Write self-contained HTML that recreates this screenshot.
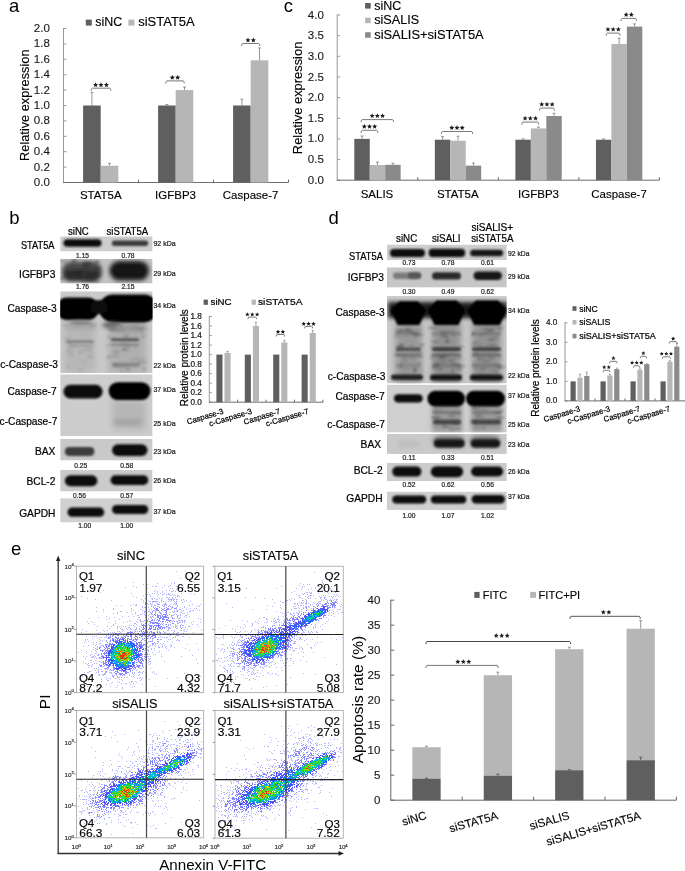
<!DOCTYPE html><html><head><meta charset="utf-8"><style>html,body{margin:0;padding:0;background:#fff;overflow:hidden}svg{display:block}text{font-family:"Liberation Sans", sans-serif}</style></head><body>
<svg width="685" height="871" viewBox="0 0 685 871">
<rect width="685" height="871" fill="#fff"/>
<defs><filter id="b1" x="-20%" y="-50%" width="140%" height="200%"><feGaussianBlur stdDeviation="1.2"/></filter><filter id="b2" x="-20%" y="-50%" width="140%" height="200%"><feGaussianBlur stdDeviation="2.2"/></filter><filter id="b3" x="-20%" y="-50%" width="140%" height="200%"><feGaussianBlur stdDeviation="3.5"/></filter><filter id="b05"><feGaussianBlur stdDeviation="0.6"/></filter><filter id="fb" x="0" y="0" width="1" height="1"><feGaussianBlur stdDeviation="0.4"/></filter><filter id="soft" filterUnits="userSpaceOnUse" x="0" y="0" width="685" height="871"><feGaussianBlur stdDeviation="0.35"/></filter></defs>
<g filter="url(#soft)">
<text x="9" y="11.8" font-size="18.5">a</text>
<text x="283.8" y="11.8" font-size="18.5">c</text>
<text x="9.2" y="223.6" font-size="18.5">b</text>
<text x="328.6" y="223.6" font-size="18.5">d</text>
<text x="11" y="555" font-size="18.5">e</text>
<line x1="63.5" y1="28" x2="63.5" y2="182.5" stroke="#999" stroke-width="1"/>
<line x1="63.5" y1="182.5" x2="66.5" y2="182.5" stroke="#999" stroke-width="1"/>
<text x="49.8" y="186.06" font-size="11.5" text-anchor="end" fill="#1a1a1a" stroke="#1a1a1a" stroke-width="0.14">0.0</text>
<line x1="63.5" y1="167.1" x2="66.5" y2="167.1" stroke="#999" stroke-width="1"/>
<text x="49.8" y="170.66" font-size="11.5" text-anchor="end" fill="#1a1a1a" stroke="#1a1a1a" stroke-width="0.14">0.2</text>
<line x1="63.5" y1="151.7" x2="66.5" y2="151.7" stroke="#999" stroke-width="1"/>
<text x="49.8" y="155.26" font-size="11.5" text-anchor="end" fill="#1a1a1a" stroke="#1a1a1a" stroke-width="0.14">0.4</text>
<line x1="63.5" y1="136.3" x2="66.5" y2="136.3" stroke="#999" stroke-width="1"/>
<text x="49.8" y="139.86" font-size="11.5" text-anchor="end" fill="#1a1a1a" stroke="#1a1a1a" stroke-width="0.14">0.6</text>
<line x1="63.5" y1="120.9" x2="66.5" y2="120.9" stroke="#999" stroke-width="1"/>
<text x="49.8" y="124.47" font-size="11.5" text-anchor="end" fill="#1a1a1a" stroke="#1a1a1a" stroke-width="0.14">0.8</text>
<line x1="63.5" y1="105.5" x2="66.5" y2="105.5" stroke="#999" stroke-width="1"/>
<text x="49.8" y="109.06" font-size="11.5" text-anchor="end" fill="#1a1a1a" stroke="#1a1a1a" stroke-width="0.14">1.0</text>
<line x1="63.5" y1="90.1" x2="66.5" y2="90.1" stroke="#999" stroke-width="1"/>
<text x="49.8" y="93.66" font-size="11.5" text-anchor="end" fill="#1a1a1a" stroke="#1a1a1a" stroke-width="0.14">1.2</text>
<line x1="63.5" y1="74.7" x2="66.5" y2="74.7" stroke="#999" stroke-width="1"/>
<text x="49.8" y="78.26" font-size="11.5" text-anchor="end" fill="#1a1a1a" stroke="#1a1a1a" stroke-width="0.14">1.4</text>
<line x1="63.5" y1="59.3" x2="66.5" y2="59.3" stroke="#999" stroke-width="1"/>
<text x="49.8" y="62.86" font-size="11.5" text-anchor="end" fill="#1a1a1a" stroke="#1a1a1a" stroke-width="0.14">1.6</text>
<line x1="63.5" y1="43.9" x2="66.5" y2="43.9" stroke="#999" stroke-width="1"/>
<text x="49.8" y="47.47" font-size="11.5" text-anchor="end" fill="#1a1a1a" stroke="#1a1a1a" stroke-width="0.14">1.8</text>
<line x1="63.5" y1="28.5" x2="66.5" y2="28.5" stroke="#999" stroke-width="1"/>
<text x="49.8" y="32.06" font-size="11.5" text-anchor="end" fill="#1a1a1a" stroke="#1a1a1a" stroke-width="0.14">2.0</text>
<line x1="63" y1="182.5" x2="288.5" y2="182.5" stroke="#6e6e6e" stroke-width="1"/>
<line x1="138.5" y1="182.5" x2="138.5" y2="179.5" stroke="#6e6e6e" stroke-width="1"/>
<line x1="213.5" y1="182.5" x2="213.5" y2="179.5" stroke="#6e6e6e" stroke-width="1"/>
<line x1="288.5" y1="182.5" x2="288.5" y2="179.5" stroke="#6e6e6e" stroke-width="1"/>
<line x1="91.9" y1="105.5" x2="91.9" y2="92.41" stroke="#8a8a8a" stroke-width="0.9"/>
<line x1="90.4" y1="92.41" x2="93.4" y2="92.41" stroke="#8a8a8a" stroke-width="0.9"/>
<line x1="109.5" y1="165.71" x2="109.5" y2="163.25" stroke="#8a8a8a" stroke-width="0.9"/>
<line x1="108" y1="163.25" x2="111" y2="163.25" stroke="#8a8a8a" stroke-width="0.9"/>
<rect x="83.1" y="105.5" width="17.6" height="77" fill="#5e5e5e"/>
<rect x="100.7" y="165.71" width="17.6" height="16.79" fill="#b6b6b6"/>
<line x1="166.9" y1="105.5" x2="166.9" y2="104.5" stroke="#8a8a8a" stroke-width="0.9"/>
<line x1="165.4" y1="104.5" x2="168.4" y2="104.5" stroke="#8a8a8a" stroke-width="0.9"/>
<line x1="184.5" y1="90.1" x2="184.5" y2="87.02" stroke="#8a8a8a" stroke-width="0.9"/>
<line x1="183" y1="87.02" x2="186" y2="87.02" stroke="#8a8a8a" stroke-width="0.9"/>
<rect x="158.1" y="105.5" width="17.6" height="77" fill="#5e5e5e"/>
<rect x="175.7" y="90.1" width="17.6" height="92.4" fill="#b6b6b6"/>
<line x1="241.9" y1="105.5" x2="241.9" y2="99.11" stroke="#8a8a8a" stroke-width="0.9"/>
<line x1="240.4" y1="99.11" x2="243.4" y2="99.11" stroke="#8a8a8a" stroke-width="0.9"/>
<line x1="259.5" y1="60.3" x2="259.5" y2="47.98" stroke="#8a8a8a" stroke-width="0.9"/>
<line x1="258" y1="47.98" x2="261" y2="47.98" stroke="#8a8a8a" stroke-width="0.9"/>
<rect x="233.1" y="105.5" width="17.6" height="77" fill="#5e5e5e"/>
<rect x="250.7" y="60.3" width="17.6" height="122.2" fill="#b6b6b6"/>
<path d="M91.2 90.7Q91.2 88.2 92.4 88.2L109.6 88.2Q110.8 88.2 110.8 90.7" fill="none" stroke="#6a6a6a" stroke-width="0.9"/>
<path d="M95.6,82.25L96.33,83.89L98.12,84.08L96.78,85.28L97.16,87.04L95.6,86.15L94.04,87.04L94.42,85.28L93.08,84.08L94.87,83.89ZM101,82.25L101.73,83.89L103.52,84.08L102.18,85.28L102.56,87.04L101,86.15L99.44,87.04L99.82,85.28L98.48,84.08L100.27,83.89ZM106.4,82.25L107.13,83.89L108.92,84.08L107.58,85.28L107.96,87.04L106.4,86.15L104.84,87.04L105.22,85.28L103.88,84.08L105.67,83.89Z" fill="#1a1a1a"/>
<path d="M165.7 83.4Q165.7 80.9 166.9 80.9L183.1 80.9Q184.3 80.9 184.3 83.4" fill="none" stroke="#6a6a6a" stroke-width="0.9"/>
<path d="M172.3,74.95L173.03,76.59L174.82,76.78L173.48,77.98L173.86,79.74L172.3,78.85L170.74,79.74L171.12,77.98L169.78,76.78L171.57,76.59ZM177.7,74.95L178.43,76.59L180.22,76.78L178.88,77.98L179.26,79.74L177.7,78.85L176.14,79.74L176.52,77.98L175.18,76.78L176.97,76.59Z" fill="#1a1a1a"/>
<path d="M241.6 46Q241.6 43.5 242.8 43.5L258.5 43.5Q259.7 43.5 259.7 46" fill="none" stroke="#6a6a6a" stroke-width="0.9"/>
<path d="M247.95,37.55L248.68,39.19L250.47,39.38L249.13,40.58L249.51,42.34L247.95,41.45L246.39,42.34L246.77,40.58L245.43,39.38L247.22,39.19ZM253.35,37.55L254.08,39.19L255.87,39.38L254.53,40.58L254.91,42.34L253.35,41.45L251.79,42.34L252.17,40.58L250.83,39.38L252.62,39.19Z" fill="#1a1a1a"/>
<text x="100.8" y="199.3" font-size="11.5" text-anchor="middle" stroke="#000" stroke-width="0.14">STAT5A</text>
<text x="175.5" y="199.3" font-size="11.5" text-anchor="middle" stroke="#000" stroke-width="0.14">IGFBP3</text>
<text x="250.6" y="199.3" font-size="11.5" text-anchor="middle" stroke="#000" stroke-width="0.14">Caspase-7</text>
<rect x="85.8" y="19.6" width="6" height="6" fill="#5e5e5e"/>
<text x="95.2" y="26" font-size="12" stroke="#000" stroke-width="0.14" textLength="27" lengthAdjust="spacingAndGlyphs">siNC</text>
<rect x="128.4" y="19.6" width="6" height="6" fill="#b6b6b6"/>
<text x="138.2" y="26" font-size="12" stroke="#000" stroke-width="0.14" textLength="56.5" lengthAdjust="spacingAndGlyphs">siSTAT5A</text>
<text x="28.8" y="105.2" font-size="12.8" text-anchor="middle" stroke="#000" stroke-width="0.14" textLength="111.5" lengthAdjust="spacingAndGlyphs" transform="rotate(-90 28.8 105.2)">Relative expression</text>
<line x1="337.2" y1="14.5" x2="337.2" y2="180.2" stroke="#999" stroke-width="1"/>
<line x1="337.2" y1="180.2" x2="340.2" y2="180.2" stroke="#999" stroke-width="1"/>
<text x="323.8" y="183.76" font-size="11.5" text-anchor="end" fill="#1a1a1a" stroke="#1a1a1a" stroke-width="0.14">0.0</text>
<line x1="337.2" y1="159.55" x2="340.2" y2="159.55" stroke="#999" stroke-width="1"/>
<text x="323.8" y="163.11" font-size="11.5" text-anchor="end" fill="#1a1a1a" stroke="#1a1a1a" stroke-width="0.14">0.5</text>
<line x1="337.2" y1="138.9" x2="340.2" y2="138.9" stroke="#999" stroke-width="1"/>
<text x="323.8" y="142.46" font-size="11.5" text-anchor="end" fill="#1a1a1a" stroke="#1a1a1a" stroke-width="0.14">1.0</text>
<line x1="337.2" y1="118.25" x2="340.2" y2="118.25" stroke="#999" stroke-width="1"/>
<text x="323.8" y="121.81" font-size="11.5" text-anchor="end" fill="#1a1a1a" stroke="#1a1a1a" stroke-width="0.14">1.5</text>
<line x1="337.2" y1="97.6" x2="340.2" y2="97.6" stroke="#999" stroke-width="1"/>
<text x="323.8" y="101.16" font-size="11.5" text-anchor="end" fill="#1a1a1a" stroke="#1a1a1a" stroke-width="0.14">2.0</text>
<line x1="337.2" y1="76.95" x2="340.2" y2="76.95" stroke="#999" stroke-width="1"/>
<text x="323.8" y="80.51" font-size="11.5" text-anchor="end" fill="#1a1a1a" stroke="#1a1a1a" stroke-width="0.14">2.5</text>
<line x1="337.2" y1="56.3" x2="340.2" y2="56.3" stroke="#999" stroke-width="1"/>
<text x="323.8" y="59.86" font-size="11.5" text-anchor="end" fill="#1a1a1a" stroke="#1a1a1a" stroke-width="0.14">3.0</text>
<line x1="337.2" y1="35.65" x2="340.2" y2="35.65" stroke="#999" stroke-width="1"/>
<text x="323.8" y="39.22" font-size="11.5" text-anchor="end" fill="#1a1a1a" stroke="#1a1a1a" stroke-width="0.14">3.5</text>
<line x1="337.2" y1="15" x2="340.2" y2="15" stroke="#999" stroke-width="1"/>
<text x="323.8" y="18.57" font-size="11.5" text-anchor="end" fill="#1a1a1a" stroke="#1a1a1a" stroke-width="0.14">4.0</text>
<line x1="336.7" y1="180.2" x2="659.4" y2="180.2" stroke="#6e6e6e" stroke-width="1"/>
<line x1="417.75" y1="180.2" x2="417.75" y2="177.2" stroke="#6e6e6e" stroke-width="1"/>
<line x1="498.3" y1="180.2" x2="498.3" y2="177.2" stroke="#6e6e6e" stroke-width="1"/>
<line x1="578.85" y1="180.2" x2="578.85" y2="177.2" stroke="#6e6e6e" stroke-width="1"/>
<line x1="659.4" y1="180.2" x2="659.4" y2="177.2" stroke="#6e6e6e" stroke-width="1"/>
<line x1="362.02" y1="138.9" x2="362.02" y2="136.01" stroke="#8a8a8a" stroke-width="0.9"/>
<line x1="360.52" y1="136.01" x2="363.52" y2="136.01" stroke="#8a8a8a" stroke-width="0.9"/>
<rect x="354.3" y="138.9" width="15.45" height="41.3" fill="#5e5e5e"/>
<line x1="377.47" y1="165" x2="377.47" y2="162.11" stroke="#8a8a8a" stroke-width="0.9"/>
<line x1="375.97" y1="162.11" x2="378.97" y2="162.11" stroke="#8a8a8a" stroke-width="0.9"/>
<rect x="369.75" y="165" width="15.45" height="15.2" fill="#b6b6b6"/>
<line x1="392.92" y1="164.8" x2="392.92" y2="163.27" stroke="#8a8a8a" stroke-width="0.9"/>
<line x1="391.42" y1="163.27" x2="394.42" y2="163.27" stroke="#8a8a8a" stroke-width="0.9"/>
<rect x="385.2" y="164.8" width="15.45" height="15.4" fill="#8a8a8a"/>
<line x1="442.57" y1="139.73" x2="442.57" y2="136.63" stroke="#8a8a8a" stroke-width="0.9"/>
<line x1="441.07" y1="136.63" x2="444.07" y2="136.63" stroke="#8a8a8a" stroke-width="0.9"/>
<rect x="434.85" y="139.73" width="15.45" height="40.47" fill="#5e5e5e"/>
<line x1="458.02" y1="140.72" x2="458.02" y2="136.22" stroke="#8a8a8a" stroke-width="0.9"/>
<line x1="456.52" y1="136.22" x2="459.52" y2="136.22" stroke="#8a8a8a" stroke-width="0.9"/>
<rect x="450.3" y="140.72" width="15.45" height="39.48" fill="#b6b6b6"/>
<line x1="473.47" y1="165.62" x2="473.47" y2="163.02" stroke="#8a8a8a" stroke-width="0.9"/>
<line x1="471.97" y1="163.02" x2="474.97" y2="163.02" stroke="#8a8a8a" stroke-width="0.9"/>
<rect x="465.75" y="165.62" width="15.45" height="14.58" fill="#8a8a8a"/>
<line x1="523.13" y1="139.73" x2="523.13" y2="138.9" stroke="#8a8a8a" stroke-width="0.9"/>
<line x1="521.63" y1="138.9" x2="524.63" y2="138.9" stroke="#8a8a8a" stroke-width="0.9"/>
<rect x="515.4" y="139.73" width="15.45" height="40.47" fill="#5e5e5e"/>
<line x1="538.58" y1="128.41" x2="538.58" y2="127.01" stroke="#8a8a8a" stroke-width="0.9"/>
<line x1="537.08" y1="127.01" x2="540.08" y2="127.01" stroke="#8a8a8a" stroke-width="0.9"/>
<rect x="530.85" y="128.41" width="15.45" height="51.79" fill="#b6b6b6"/>
<line x1="554.03" y1="116.02" x2="554.03" y2="113.29" stroke="#8a8a8a" stroke-width="0.9"/>
<line x1="552.53" y1="113.29" x2="555.53" y2="113.29" stroke="#8a8a8a" stroke-width="0.9"/>
<rect x="546.3" y="116.02" width="15.45" height="64.18" fill="#8a8a8a"/>
<line x1="603.68" y1="139.73" x2="603.68" y2="138.9" stroke="#8a8a8a" stroke-width="0.9"/>
<line x1="602.18" y1="138.9" x2="605.18" y2="138.9" stroke="#8a8a8a" stroke-width="0.9"/>
<rect x="595.95" y="139.73" width="15.45" height="40.47" fill="#5e5e5e"/>
<line x1="619.13" y1="43.91" x2="619.13" y2="38.21" stroke="#8a8a8a" stroke-width="0.9"/>
<line x1="617.63" y1="38.21" x2="620.63" y2="38.21" stroke="#8a8a8a" stroke-width="0.9"/>
<rect x="611.4" y="43.91" width="15.45" height="136.29" fill="#b6b6b6"/>
<line x1="634.58" y1="26.61" x2="634.58" y2="23.88" stroke="#8a8a8a" stroke-width="0.9"/>
<line x1="633.08" y1="23.88" x2="636.08" y2="23.88" stroke="#8a8a8a" stroke-width="0.9"/>
<rect x="626.85" y="26.61" width="15.45" height="153.59" fill="#8a8a8a"/>
<path d="M361.1 132.8Q361.1 130.3 362.3 130.3L376.7 130.3Q377.9 130.3 377.9 132.8" fill="none" stroke="#6a6a6a" stroke-width="0.9"/>
<path d="M364.3,124L365.02,125.61L366.77,125.8L365.46,126.98L365.83,128.7L364.3,127.82L362.77,128.7L363.14,126.98L361.83,125.8L363.58,125.61ZM369.5,124L370.22,125.61L371.97,125.8L370.66,126.98L371.03,128.7L369.5,127.82L367.97,128.7L368.34,126.98L367.03,125.8L368.78,125.61ZM374.7,124L375.42,125.61L377.17,125.8L375.86,126.98L376.23,128.7L374.7,127.82L373.17,128.7L373.54,126.98L372.23,125.8L373.98,125.61Z" fill="#1a1a1a"/>
<path d="M361.1 122.1Q361.1 119.6 362.3 119.6L392.4 119.6Q393.6 119.6 393.6 122.1" fill="none" stroke="#6a6a6a" stroke-width="0.9"/>
<path d="M372.15,113.3L372.87,114.91L374.62,115.1L373.31,116.28L373.68,118L372.15,117.12L370.62,118L370.99,116.28L369.68,115.1L371.43,114.91ZM377.35,113.3L378.07,114.91L379.82,115.1L378.51,116.28L378.88,118L377.35,117.12L375.82,118L376.19,116.28L374.88,115.1L376.63,114.91ZM382.55,113.3L383.27,114.91L385.02,115.1L383.71,116.28L384.08,118L382.55,117.12L381.02,118L381.39,116.28L380.08,115.1L381.83,114.91Z" fill="#1a1a1a"/>
<path d="M441.3 134Q441.3 131.5 442.5 131.5L471.5 131.5Q472.7 131.5 472.7 134" fill="none" stroke="#6a6a6a" stroke-width="0.9"/>
<path d="M451.8,125.2L452.52,126.81L454.27,127L452.96,128.18L453.33,129.9L451.8,129.02L450.27,129.9L450.64,128.18L449.33,127L451.08,126.81ZM457,125.2L457.72,126.81L459.47,127L458.16,128.18L458.53,129.9L457,129.02L455.47,129.9L455.84,128.18L454.53,127L456.28,126.81ZM462.2,125.2L462.92,126.81L464.67,127L463.36,128.18L463.73,129.9L462.2,129.02L460.67,129.9L461.04,128.18L459.73,127L461.48,126.81Z" fill="#1a1a1a"/>
<path d="M521.8 124.6Q521.8 122.1 523 122.1L537.6 122.1Q538.8 122.1 538.8 124.6" fill="none" stroke="#6a6a6a" stroke-width="0.9"/>
<path d="M525.1,115.8L525.82,117.41L527.57,117.6L526.26,118.78L526.63,120.5L525.1,119.62L523.57,120.5L523.94,118.78L522.63,117.6L524.38,117.41ZM530.3,115.8L531.02,117.41L532.77,117.6L531.46,118.78L531.83,120.5L530.3,119.62L528.77,120.5L529.14,118.78L527.83,117.6L529.58,117.41ZM535.5,115.8L536.22,117.41L537.97,117.6L536.66,118.78L537.03,120.5L535.5,119.62L533.97,120.5L534.34,118.78L533.03,117.6L534.78,117.41Z" fill="#1a1a1a"/>
<path d="M539.5 110.6Q539.5 108.1 540.7 108.1L553.2 108.1Q554.4 108.1 554.4 110.6" fill="none" stroke="#6a6a6a" stroke-width="0.9"/>
<path d="M541.75,101.8L542.47,103.41L544.22,103.6L542.91,104.78L543.28,106.5L541.75,105.62L540.22,106.5L540.59,104.78L539.28,103.6L541.03,103.41ZM546.95,101.8L547.67,103.41L549.42,103.6L548.11,104.78L548.48,106.5L546.95,105.62L545.42,106.5L545.79,104.78L544.48,103.6L546.23,103.41ZM552.15,101.8L552.87,103.41L554.62,103.6L553.31,104.78L553.68,106.5L552.15,105.62L550.62,106.5L550.99,104.78L549.68,103.6L551.43,103.41Z" fill="#1a1a1a"/>
<path d="M606.2 35.6Q606.2 33.1 607.4 33.1L618.9 33.1Q620.1 33.1 620.1 35.6" fill="none" stroke="#6a6a6a" stroke-width="0.9"/>
<path d="M607.95,26.8L608.67,28.41L610.42,28.6L609.11,29.78L609.48,31.5L607.95,30.62L606.42,31.5L606.79,29.78L605.48,28.6L607.23,28.41ZM613.15,26.8L613.87,28.41L615.62,28.6L614.31,29.78L614.68,31.5L613.15,30.62L611.62,31.5L611.99,29.78L610.68,28.6L612.43,28.41ZM618.35,26.8L619.07,28.41L620.82,28.6L619.51,29.78L619.88,31.5L618.35,30.62L616.82,31.5L617.19,29.78L615.88,28.6L617.63,28.41Z" fill="#1a1a1a"/>
<path d="M621 20.9Q621 18.4 622.2 18.4L635.3 18.4Q636.5 18.4 636.5 20.9" fill="none" stroke="#6a6a6a" stroke-width="0.9"/>
<path d="M626.15,12.1L626.87,13.71L628.62,13.9L627.31,15.08L627.68,16.8L626.15,15.92L624.62,16.8L624.99,15.08L623.68,13.9L625.43,13.71ZM631.35,12.1L632.07,13.71L633.82,13.9L632.51,15.08L632.88,16.8L631.35,15.92L629.82,16.8L630.19,15.08L628.88,13.9L630.63,13.71Z" fill="#1a1a1a"/>
<text x="377" y="197.5" font-size="11.5" text-anchor="middle" stroke="#000" stroke-width="0.14">SALIS</text>
<text x="457.8" y="197.5" font-size="11.5" text-anchor="middle" stroke="#000" stroke-width="0.14">STAT5A</text>
<text x="538.5" y="197.5" font-size="11.5" text-anchor="middle" stroke="#000" stroke-width="0.14">IGFBP3</text>
<text x="619" y="197.5" font-size="11.5" text-anchor="middle" stroke="#000" stroke-width="0.14">Caspase-7</text>
<rect x="365.1" y="3" width="5.6" height="5.6" fill="#5e5e5e"/>
<text x="374.2" y="9.6" font-size="12" stroke="#000" stroke-width="0.14" textLength="27" lengthAdjust="spacingAndGlyphs">siNC</text>
<rect x="365.1" y="17.6" width="5.6" height="5.6" fill="#b6b6b6"/>
<text x="374.2" y="24.2" font-size="12" stroke="#000" stroke-width="0.14" textLength="45" lengthAdjust="spacingAndGlyphs">siSALIS</text>
<rect x="365.1" y="32.2" width="5.6" height="5.6" fill="#8a8a8a"/>
<text x="374.2" y="38.8" font-size="12" stroke="#000" stroke-width="0.14" textLength="109.5" lengthAdjust="spacingAndGlyphs">siSALIS+siSTAT5A</text>
<text x="302.2" y="97.9" font-size="12.8" text-anchor="middle" stroke="#000" stroke-width="0.14" textLength="112.5" lengthAdjust="spacingAndGlyphs" transform="rotate(-90 302.2 97.9)">Relative expression</text>
<line x1="209.3" y1="316.02" x2="209.3" y2="402.2" stroke="#999" stroke-width="1"/>
<line x1="209.3" y1="402.2" x2="211.8" y2="402.2" stroke="#999" stroke-width="1"/>
<text x="201.8" y="404.74" font-size="8.2" text-anchor="end" fill="#1a1a1a" stroke="#1a1a1a" stroke-width="0.22">0.0</text>
<line x1="209.3" y1="392.68" x2="211.8" y2="392.68" stroke="#999" stroke-width="1"/>
<text x="201.8" y="395.22" font-size="8.2" text-anchor="end" fill="#1a1a1a" stroke="#1a1a1a" stroke-width="0.22">0.2</text>
<line x1="209.3" y1="383.16" x2="211.8" y2="383.16" stroke="#999" stroke-width="1"/>
<text x="201.8" y="385.7" font-size="8.2" text-anchor="end" fill="#1a1a1a" stroke="#1a1a1a" stroke-width="0.22">0.4</text>
<line x1="209.3" y1="373.64" x2="211.8" y2="373.64" stroke="#999" stroke-width="1"/>
<text x="201.8" y="376.18" font-size="8.2" text-anchor="end" fill="#1a1a1a" stroke="#1a1a1a" stroke-width="0.22">0.6</text>
<line x1="209.3" y1="364.12" x2="211.8" y2="364.12" stroke="#999" stroke-width="1"/>
<text x="201.8" y="366.66" font-size="8.2" text-anchor="end" fill="#1a1a1a" stroke="#1a1a1a" stroke-width="0.22">0.8</text>
<line x1="209.3" y1="354.6" x2="211.8" y2="354.6" stroke="#999" stroke-width="1"/>
<text x="201.8" y="357.14" font-size="8.2" text-anchor="end" fill="#1a1a1a" stroke="#1a1a1a" stroke-width="0.22">1.0</text>
<line x1="209.3" y1="345.08" x2="211.8" y2="345.08" stroke="#999" stroke-width="1"/>
<text x="201.8" y="347.62" font-size="8.2" text-anchor="end" fill="#1a1a1a" stroke="#1a1a1a" stroke-width="0.22">1.2</text>
<line x1="209.3" y1="335.56" x2="211.8" y2="335.56" stroke="#999" stroke-width="1"/>
<text x="201.8" y="338.1" font-size="8.2" text-anchor="end" fill="#1a1a1a" stroke="#1a1a1a" stroke-width="0.22">1.4</text>
<line x1="209.3" y1="326.04" x2="211.8" y2="326.04" stroke="#999" stroke-width="1"/>
<text x="201.8" y="328.58" font-size="8.2" text-anchor="end" fill="#1a1a1a" stroke="#1a1a1a" stroke-width="0.22">1.6</text>
<line x1="209.3" y1="316.52" x2="211.8" y2="316.52" stroke="#999" stroke-width="1"/>
<text x="201.8" y="319.06" font-size="8.2" text-anchor="end" fill="#1a1a1a" stroke="#1a1a1a" stroke-width="0.22">1.8</text>
<line x1="208.8" y1="402.2" x2="323" y2="402.2" stroke="#6e6e6e" stroke-width="1"/>
<line x1="237.7" y1="402.2" x2="237.7" y2="399.7" stroke="#6e6e6e" stroke-width="1"/>
<line x1="266.1" y1="402.2" x2="266.1" y2="399.7" stroke="#6e6e6e" stroke-width="1"/>
<line x1="294.5" y1="402.2" x2="294.5" y2="399.7" stroke="#6e6e6e" stroke-width="1"/>
<line x1="322.9" y1="402.2" x2="322.9" y2="399.7" stroke="#6e6e6e" stroke-width="1"/>
<rect x="216.4" y="354.6" width="6.1" height="47.6" fill="#5e5e5e"/>
<line x1="227.55" y1="352.89" x2="227.55" y2="351.41" stroke="#8a8a8a" stroke-width="0.8"/>
<line x1="226.45" y1="351.41" x2="228.65" y2="351.41" stroke="#8a8a8a" stroke-width="0.8"/>
<rect x="224.5" y="352.89" width="6.1" height="49.31" fill="#b6b6b6"/>
<rect x="244.8" y="354.6" width="6.1" height="47.6" fill="#5e5e5e"/>
<line x1="255.95" y1="326.04" x2="255.95" y2="322.23" stroke="#8a8a8a" stroke-width="0.8"/>
<line x1="254.85" y1="322.23" x2="257.05" y2="322.23" stroke="#8a8a8a" stroke-width="0.8"/>
<rect x="252.9" y="326.04" width="6.1" height="76.16" fill="#b6b6b6"/>
<rect x="273.2" y="354.6" width="6.1" height="47.6" fill="#5e5e5e"/>
<line x1="284.35" y1="342.51" x2="284.35" y2="340.32" stroke="#8a8a8a" stroke-width="0.8"/>
<line x1="283.25" y1="340.32" x2="285.45" y2="340.32" stroke="#8a8a8a" stroke-width="0.8"/>
<rect x="281.3" y="342.51" width="6.1" height="59.69" fill="#b6b6b6"/>
<rect x="301.6" y="354.6" width="6.1" height="47.6" fill="#5e5e5e"/>
<line x1="312.75" y1="332.99" x2="312.75" y2="330.61" stroke="#8a8a8a" stroke-width="0.8"/>
<line x1="311.65" y1="330.61" x2="313.85" y2="330.61" stroke="#8a8a8a" stroke-width="0.8"/>
<rect x="309.7" y="332.99" width="6.1" height="69.21" fill="#b6b6b6"/>
<path d="M248 319.1Q248 317.1 249 317.1L255.5 317.1Q256.5 317.1 256.5 319.1" fill="none" stroke="#6a6a6a" stroke-width="0.9"/>
<path d="M247.35,312.2L247.99,313.63L249.54,313.79L248.38,314.83L248.7,316.36L247.35,315.58L246,316.36L246.32,314.83L245.16,313.79L246.71,313.63ZM252.25,312.2L252.89,313.63L254.44,313.79L253.28,314.83L253.6,316.36L252.25,315.58L250.9,316.36L251.22,314.83L250.06,313.79L251.61,313.63ZM257.15,312.2L257.79,313.63L259.34,313.79L258.18,314.83L258.5,316.36L257.15,315.58L255.8,316.36L256.12,314.83L254.96,313.79L256.51,313.63Z" fill="#1a1a1a"/>
<path d="M276.2 336.5Q276.2 334.5 277.2 334.5L283.7 334.5Q284.7 334.5 284.7 336.5" fill="none" stroke="#6a6a6a" stroke-width="0.9"/>
<path d="M278,329.6L278.64,331.03L280.19,331.19L279.03,332.23L279.35,333.76L278,332.98L276.65,333.76L276.97,332.23L275.81,331.19L277.36,331.03ZM282.9,329.6L283.54,331.03L285.09,331.19L283.93,332.23L284.25,333.76L282.9,332.98L281.55,333.76L281.87,332.23L280.71,331.19L282.26,331.03Z" fill="#1a1a1a"/>
<path d="M304.6 328.4Q304.6 326.4 305.6 326.4L311.6 326.4Q312.6 326.4 312.6 328.4" fill="none" stroke="#6a6a6a" stroke-width="0.9"/>
<path d="M303.7,321.5L304.34,322.93L305.89,323.09L304.73,324.13L305.05,325.66L303.7,324.88L302.35,325.66L302.67,324.13L301.51,323.09L303.06,322.93ZM308.6,321.5L309.24,322.93L310.79,323.09L309.63,324.13L309.95,325.66L308.6,324.88L307.25,325.66L307.57,324.13L306.41,323.09L307.96,322.93ZM313.5,321.5L314.14,322.93L315.69,323.09L314.53,324.13L314.85,325.66L313.5,324.88L312.15,325.66L312.47,324.13L311.31,323.09L312.86,322.93Z" fill="#1a1a1a"/>
<text x="223.9" y="413.6" font-size="7.8" text-anchor="end" stroke="#000" stroke-width="0.22" transform="rotate(-17 223.9 413.6)">Caspase-3</text>
<text x="252.3" y="413.6" font-size="7.8" text-anchor="end" stroke="#000" stroke-width="0.22" transform="rotate(-17 252.3 413.6)">c-Caspase-3</text>
<text x="280.7" y="413.6" font-size="7.8" text-anchor="end" stroke="#000" stroke-width="0.22" transform="rotate(-17 280.7 413.6)">Caspase-7</text>
<text x="309.1" y="413.6" font-size="7.8" text-anchor="end" stroke="#000" stroke-width="0.22" transform="rotate(-17 309.1 413.6)">c-Caspase-7</text>
<rect x="203.6" y="299.6" width="4.3" height="5.2" fill="#5e5e5e"/>
<text x="210.6" y="305.3" font-size="9.6" stroke="#000" stroke-width="0.22" textLength="21" lengthAdjust="spacingAndGlyphs">siNC</text>
<rect x="251.6" y="299.6" width="4.3" height="5.2" fill="#b6b6b6"/>
<text x="258" y="305.3" font-size="9.6" stroke="#000" stroke-width="0.22" textLength="44.5" lengthAdjust="spacingAndGlyphs">siSTAT5A</text>
<text x="188" y="357.7" font-size="10" text-anchor="middle" stroke="#000" stroke-width="0.22" textLength="97" lengthAdjust="spacingAndGlyphs" transform="rotate(-90 188 357.7)">Relative protein levels</text>
<line x1="565" y1="322.32" x2="565" y2="400.9" stroke="#999" stroke-width="1"/>
<line x1="565" y1="400.9" x2="567.5" y2="400.9" stroke="#999" stroke-width="1"/>
<text x="557.4" y="403.44" font-size="8.2" text-anchor="end" fill="#1a1a1a" stroke="#1a1a1a" stroke-width="0.22">0.0</text>
<line x1="565" y1="381.38" x2="567.5" y2="381.38" stroke="#999" stroke-width="1"/>
<text x="557.4" y="383.92" font-size="8.2" text-anchor="end" fill="#1a1a1a" stroke="#1a1a1a" stroke-width="0.22">1.0</text>
<line x1="565" y1="361.86" x2="567.5" y2="361.86" stroke="#999" stroke-width="1"/>
<text x="557.4" y="364.4" font-size="8.2" text-anchor="end" fill="#1a1a1a" stroke="#1a1a1a" stroke-width="0.22">2.0</text>
<line x1="565" y1="342.34" x2="567.5" y2="342.34" stroke="#999" stroke-width="1"/>
<text x="557.4" y="344.88" font-size="8.2" text-anchor="end" fill="#1a1a1a" stroke="#1a1a1a" stroke-width="0.22">3.0</text>
<line x1="565" y1="322.82" x2="567.5" y2="322.82" stroke="#999" stroke-width="1"/>
<text x="557.4" y="325.36" font-size="8.2" text-anchor="end" fill="#1a1a1a" stroke="#1a1a1a" stroke-width="0.22">4.0</text>
<line x1="564.5" y1="400.9" x2="685" y2="400.9" stroke="#6e6e6e" stroke-width="1"/>
<line x1="595" y1="400.9" x2="595" y2="398.4" stroke="#6e6e6e" stroke-width="1"/>
<line x1="625" y1="400.9" x2="625" y2="398.4" stroke="#6e6e6e" stroke-width="1"/>
<line x1="655" y1="400.9" x2="655" y2="398.4" stroke="#6e6e6e" stroke-width="1"/>
<rect x="570.5" y="381.38" width="5.2" height="19.52" fill="#5e5e5e"/>
<line x1="579.95" y1="377.77" x2="579.95" y2="374.16" stroke="#8a8a8a" stroke-width="0.8"/>
<line x1="578.95" y1="374.16" x2="580.95" y2="374.16" stroke="#8a8a8a" stroke-width="0.8"/>
<rect x="577.35" y="377.77" width="5.2" height="23.13" fill="#b6b6b6"/>
<line x1="586.8" y1="375.97" x2="586.8" y2="372.07" stroke="#8a8a8a" stroke-width="0.8"/>
<line x1="585.8" y1="372.07" x2="587.8" y2="372.07" stroke="#8a8a8a" stroke-width="0.8"/>
<rect x="584.2" y="375.97" width="5.2" height="24.93" fill="#8a8a8a"/>
<rect x="600.5" y="381.38" width="5.2" height="19.52" fill="#5e5e5e"/>
<line x1="609.95" y1="375.52" x2="609.95" y2="374.35" stroke="#8a8a8a" stroke-width="0.8"/>
<line x1="608.95" y1="374.35" x2="610.95" y2="374.35" stroke="#8a8a8a" stroke-width="0.8"/>
<rect x="607.35" y="375.52" width="5.2" height="25.38" fill="#b6b6b6"/>
<line x1="616.8" y1="369.16" x2="616.8" y2="368.11" stroke="#8a8a8a" stroke-width="0.8"/>
<line x1="615.8" y1="368.11" x2="617.8" y2="368.11" stroke="#8a8a8a" stroke-width="0.8"/>
<rect x="614.2" y="369.16" width="5.2" height="31.74" fill="#8a8a8a"/>
<rect x="630.5" y="381.38" width="5.2" height="19.52" fill="#5e5e5e"/>
<line x1="639.95" y1="369.67" x2="639.95" y2="368.89" stroke="#8a8a8a" stroke-width="0.8"/>
<line x1="638.95" y1="368.89" x2="640.95" y2="368.89" stroke="#8a8a8a" stroke-width="0.8"/>
<rect x="637.35" y="369.67" width="5.2" height="31.23" fill="#b6b6b6"/>
<line x1="646.8" y1="364.2" x2="646.8" y2="363.81" stroke="#8a8a8a" stroke-width="0.8"/>
<line x1="645.8" y1="363.81" x2="647.8" y2="363.81" stroke="#8a8a8a" stroke-width="0.8"/>
<rect x="644.2" y="364.2" width="5.2" height="36.7" fill="#8a8a8a"/>
<rect x="660.5" y="381.38" width="5.2" height="19.52" fill="#5e5e5e"/>
<line x1="669.95" y1="361.66" x2="669.95" y2="360.69" stroke="#8a8a8a" stroke-width="0.8"/>
<line x1="668.95" y1="360.69" x2="670.95" y2="360.69" stroke="#8a8a8a" stroke-width="0.8"/>
<rect x="667.35" y="361.66" width="5.2" height="39.24" fill="#b6b6b6"/>
<line x1="676.8" y1="346.63" x2="676.8" y2="343.51" stroke="#8a8a8a" stroke-width="0.8"/>
<line x1="675.8" y1="343.51" x2="677.8" y2="343.51" stroke="#8a8a8a" stroke-width="0.8"/>
<rect x="674.2" y="346.63" width="5.2" height="54.27" fill="#8a8a8a"/>
<path d="M603.1 372.3Q603.1 370.3 604.1 370.3L608.9 370.3Q609.9 370.3 609.9 372.3" fill="none" stroke="#6a6a6a" stroke-width="0.9"/>
<path d="M604.2,365.1L604.81,366.46L606.29,366.62L605.18,367.62L605.49,369.08L604.2,368.33L602.91,369.08L603.22,367.62L602.11,366.62L603.59,366.46ZM608.8,365.1L609.41,366.46L610.89,366.62L609.78,367.62L610.09,369.08L608.8,368.33L607.51,369.08L607.82,367.62L606.71,366.62L608.19,366.46Z" fill="#1a1a1a"/>
<path d="M609.7 363.3Q609.7 361.3 610.7 361.3L616.1 361.3Q617.1 361.3 617.1 363.3" fill="none" stroke="#6a6a6a" stroke-width="0.9"/>
<path d="M613.4,356.1L614.01,357.46L615.49,357.62L614.38,358.62L614.69,360.08L613.4,359.33L612.11,360.08L612.42,358.62L611.31,357.62L612.79,357.46Z" fill="#1a1a1a"/>
<path d="M633.6 367.8Q633.6 365.8 634.6 365.8L638.8 365.8Q639.8 365.8 639.8 367.8" fill="none" stroke="#6a6a6a" stroke-width="0.9"/>
<path d="M632.1,360.6L632.71,361.96L634.19,362.12L633.08,363.12L633.39,364.58L632.1,363.83L630.81,364.58L631.12,363.12L630.01,362.12L631.49,361.96ZM636.7,360.6L637.31,361.96L638.79,362.12L637.68,363.12L637.99,364.58L636.7,363.83L635.41,364.58L635.72,363.12L634.61,362.12L636.09,361.96ZM641.3,360.6L641.91,361.96L643.39,362.12L642.28,363.12L642.59,364.58L641.3,363.83L640.01,364.58L640.32,363.12L639.21,362.12L640.69,361.96Z" fill="#1a1a1a"/>
<path d="M640.2 358.3Q640.2 356.3 641.2 356.3L645.5 356.3Q646.5 356.3 646.5 358.3" fill="none" stroke="#6a6a6a" stroke-width="0.9"/>
<path d="M643.35,351.1L643.96,352.46L645.44,352.62L644.33,353.62L644.64,355.08L643.35,354.33L642.06,355.08L642.37,353.62L641.26,352.62L642.74,352.46Z" fill="#1a1a1a"/>
<path d="M662.4 358.8Q662.4 356.8 663.4 356.8L669.3 356.8Q670.3 356.8 670.3 358.8" fill="none" stroke="#6a6a6a" stroke-width="0.9"/>
<path d="M661.75,351.6L662.36,352.96L663.84,353.12L662.73,354.12L663.04,355.58L661.75,354.83L660.46,355.58L660.77,354.12L659.66,353.12L661.14,352.96ZM666.35,351.6L666.96,352.96L668.44,353.12L667.33,354.12L667.64,355.58L666.35,354.83L665.06,355.58L665.37,354.12L664.26,353.12L665.74,352.96ZM670.95,351.6L671.56,352.96L673.04,353.12L671.93,354.12L672.24,355.58L670.95,354.83L669.66,355.58L669.97,354.12L668.86,353.12L670.34,352.96Z" fill="#1a1a1a"/>
<path d="M669.2 343.6Q669.2 341.6 670.2 341.6L676.1 341.6Q677.1 341.6 677.1 343.6" fill="none" stroke="#6a6a6a" stroke-width="0.9"/>
<path d="M673.15,336.4L673.76,337.76L675.24,337.92L674.13,338.92L674.44,340.38L673.15,339.63L671.86,340.38L672.17,338.92L671.06,337.92L672.54,337.76Z" fill="#1a1a1a"/>
<text x="580.6" y="411" font-size="7.8" text-anchor="end" stroke="#000" stroke-width="0.22" transform="rotate(-17 580.6 411)">Caspase-3</text>
<text x="610.6" y="411" font-size="7.8" text-anchor="end" stroke="#000" stroke-width="0.22" transform="rotate(-17 610.6 411)">c-Caspase-3</text>
<text x="640.6" y="411" font-size="7.8" text-anchor="end" stroke="#000" stroke-width="0.22" transform="rotate(-17 640.6 411)">Caspase-7</text>
<text x="670.6" y="411" font-size="7.8" text-anchor="end" stroke="#000" stroke-width="0.22" transform="rotate(-17 670.6 411)">c-Caspase-7</text>
<rect x="572.5" y="306.2" width="4" height="4.6" fill="#5e5e5e"/>
<text x="579.2" y="311.6" font-size="8.6" stroke="#000" stroke-width="0.22" textLength="18.5" lengthAdjust="spacingAndGlyphs">siNC</text>
<rect x="572.5" y="320" width="4" height="4.6" fill="#b6b6b6"/>
<text x="579.2" y="325.4" font-size="8.6" stroke="#000" stroke-width="0.22" textLength="31.2" lengthAdjust="spacingAndGlyphs">siSALIS</text>
<rect x="572.5" y="333.8" width="4" height="4.6" fill="#8a8a8a"/>
<text x="579.2" y="339.2" font-size="8.6" stroke="#000" stroke-width="0.22" textLength="76.6" lengthAdjust="spacingAndGlyphs">siSALIS+siSTAT5A</text>
<text x="539.2" y="368" font-size="10" text-anchor="middle" stroke="#000" stroke-width="0.22" textLength="97.5" lengthAdjust="spacingAndGlyphs" transform="rotate(-90 539.2 368)">Relative protein levels</text>
<line x1="390.8" y1="599.7" x2="390.8" y2="800.2" stroke="#666" stroke-width="1"/>
<line x1="390.8" y1="800.2" x2="394.3" y2="800.2" stroke="#666" stroke-width="1"/>
<text x="380.4" y="803.77" font-size="11.5" text-anchor="end" fill="#1a1a1a" stroke="#1a1a1a" stroke-width="0.14">0</text>
<line x1="390.8" y1="775.2" x2="394.3" y2="775.2" stroke="#666" stroke-width="1"/>
<text x="380.4" y="778.77" font-size="11.5" text-anchor="end" fill="#1a1a1a" stroke="#1a1a1a" stroke-width="0.14">5</text>
<line x1="390.8" y1="750.2" x2="394.3" y2="750.2" stroke="#666" stroke-width="1"/>
<text x="380.4" y="753.77" font-size="11.5" text-anchor="end" fill="#1a1a1a" stroke="#1a1a1a" stroke-width="0.14">10</text>
<line x1="390.8" y1="725.2" x2="394.3" y2="725.2" stroke="#666" stroke-width="1"/>
<text x="380.4" y="728.77" font-size="11.5" text-anchor="end" fill="#1a1a1a" stroke="#1a1a1a" stroke-width="0.14">15</text>
<line x1="390.8" y1="700.2" x2="394.3" y2="700.2" stroke="#666" stroke-width="1"/>
<text x="380.4" y="703.77" font-size="11.5" text-anchor="end" fill="#1a1a1a" stroke="#1a1a1a" stroke-width="0.14">20</text>
<line x1="390.8" y1="675.2" x2="394.3" y2="675.2" stroke="#666" stroke-width="1"/>
<text x="380.4" y="678.77" font-size="11.5" text-anchor="end" fill="#1a1a1a" stroke="#1a1a1a" stroke-width="0.14">25</text>
<line x1="390.8" y1="650.2" x2="394.3" y2="650.2" stroke="#666" stroke-width="1"/>
<text x="380.4" y="653.77" font-size="11.5" text-anchor="end" fill="#1a1a1a" stroke="#1a1a1a" stroke-width="0.14">30</text>
<line x1="390.8" y1="625.2" x2="394.3" y2="625.2" stroke="#666" stroke-width="1"/>
<text x="380.4" y="628.77" font-size="11.5" text-anchor="end" fill="#1a1a1a" stroke="#1a1a1a" stroke-width="0.14">35</text>
<line x1="390.8" y1="600.2" x2="394.3" y2="600.2" stroke="#666" stroke-width="1"/>
<text x="380.4" y="603.77" font-size="11.5" text-anchor="end" fill="#1a1a1a" stroke="#1a1a1a" stroke-width="0.14">40</text>
<line x1="390.3" y1="800.2" x2="676.4" y2="800.2" stroke="#666" stroke-width="1"/>
<line x1="462.2" y1="800.2" x2="462.2" y2="796.7" stroke="#666" stroke-width="1"/>
<line x1="533.6" y1="800.2" x2="533.6" y2="796.7" stroke="#666" stroke-width="1"/>
<line x1="605" y1="800.2" x2="605" y2="796.7" stroke="#666" stroke-width="1"/>
<line x1="676.4" y1="800.2" x2="676.4" y2="796.7" stroke="#666" stroke-width="1"/>
<line x1="426.5" y1="747.2" x2="426.5" y2="746.2" stroke="#8a8a8a" stroke-width="0.9"/>
<line x1="425" y1="746.2" x2="428" y2="746.2" stroke="#8a8a8a" stroke-width="0.9"/>
<rect x="412.35" y="747.2" width="28.3" height="31.5" fill="#b6b6b6"/>
<line x1="426.5" y1="778.7" x2="426.5" y2="778.2" stroke="#555" stroke-width="0.9"/>
<line x1="425" y1="778.2" x2="428" y2="778.2" stroke="#555" stroke-width="0.9"/>
<rect x="412.35" y="778.7" width="28.3" height="21.5" fill="#5e5e5e"/>
<line x1="497.9" y1="675.2" x2="497.9" y2="672.2" stroke="#8a8a8a" stroke-width="0.9"/>
<line x1="496.4" y1="672.2" x2="499.4" y2="672.2" stroke="#8a8a8a" stroke-width="0.9"/>
<rect x="483.75" y="675.2" width="28.3" height="100.5" fill="#b6b6b6"/>
<line x1="497.9" y1="775.7" x2="497.9" y2="774.2" stroke="#555" stroke-width="0.9"/>
<line x1="496.4" y1="774.2" x2="499.4" y2="774.2" stroke="#555" stroke-width="0.9"/>
<rect x="483.75" y="775.7" width="28.3" height="24.5" fill="#5e5e5e"/>
<line x1="569.3" y1="649.2" x2="569.3" y2="647.2" stroke="#8a8a8a" stroke-width="0.9"/>
<line x1="567.8" y1="647.2" x2="570.8" y2="647.2" stroke="#8a8a8a" stroke-width="0.9"/>
<rect x="555.15" y="649.2" width="28.3" height="121" fill="#b6b6b6"/>
<line x1="569.3" y1="770.2" x2="569.3" y2="769.7" stroke="#555" stroke-width="0.9"/>
<line x1="567.8" y1="769.7" x2="570.8" y2="769.7" stroke="#555" stroke-width="0.9"/>
<rect x="555.15" y="770.2" width="28.3" height="30" fill="#5e5e5e"/>
<line x1="640.7" y1="628.7" x2="640.7" y2="620.7" stroke="#8a8a8a" stroke-width="0.9"/>
<line x1="639.2" y1="620.7" x2="642.2" y2="620.7" stroke="#8a8a8a" stroke-width="0.9"/>
<rect x="626.55" y="628.7" width="28.3" height="131.5" fill="#b6b6b6"/>
<line x1="640.7" y1="760.2" x2="640.7" y2="757.2" stroke="#555" stroke-width="0.9"/>
<line x1="639.2" y1="757.2" x2="642.2" y2="757.2" stroke="#555" stroke-width="0.9"/>
<rect x="626.55" y="760.2" width="28.3" height="40" fill="#5e5e5e"/>
<path d="M425.9 668Q425.9 665.4 427.1 665.4L497 665.4Q498.2 665.4 498.2 668" fill="none" stroke="#777" stroke-width="1"/>
<path d="M457.8,659.2L458.52,660.81L460.27,661L458.96,662.18L459.33,663.9L457.8,663.02L456.27,663.9L456.64,662.18L455.33,661L457.08,660.81ZM463.3,659.2L464.02,660.81L465.77,661L464.46,662.18L464.83,663.9L463.3,663.02L461.77,663.9L462.14,662.18L460.83,661L462.58,660.81ZM468.8,659.2L469.52,660.81L471.27,661L469.96,662.18L470.33,663.9L468.8,663.02L467.27,663.9L467.64,662.18L466.33,661L468.08,660.81Z" fill="#222"/>
<path d="M425.9 644.1Q425.9 641.5 427.1 641.5L569.5 641.5Q570.7 641.5 570.7 644.1" fill="none" stroke="#444" stroke-width="1"/>
<path d="M496.2,633.1L496.92,634.71L498.67,634.9L497.36,636.08L497.73,637.8L496.2,636.92L494.67,637.8L495.04,636.08L493.73,634.9L495.48,634.71ZM501.7,633.1L502.42,634.71L504.17,634.9L502.86,636.08L503.23,637.8L501.7,636.92L500.17,637.8L500.54,636.08L499.23,634.9L500.98,634.71ZM507.2,633.1L507.92,634.71L509.67,634.9L508.36,636.08L508.73,637.8L507.2,636.92L505.67,637.8L506.04,636.08L504.73,634.9L506.48,634.71Z" fill="#222"/>
<path d="M569.9 618.9Q569.9 616.3 571.1 616.3L639.1 616.3Q640.3 616.3 640.3 618.9" fill="none" stroke="#555" stroke-width="1"/>
<path d="M603.35,609.7L604.07,611.31L605.82,611.5L604.51,612.68L604.88,614.4L603.35,613.52L601.82,614.4L602.19,612.68L600.88,611.5L602.63,611.31ZM608.85,609.7L609.57,611.31L611.32,611.5L610.01,612.68L610.38,614.4L608.85,613.52L607.32,614.4L607.69,612.68L606.38,611.5L608.13,611.31Z" fill="#222"/>
<rect x="474.3" y="591.9" width="5.3" height="6" fill="#5e5e5e"/>
<text x="482.8" y="598.9" font-size="11.5" stroke="#000" stroke-width="0.14" textLength="24.5" lengthAdjust="spacingAndGlyphs">FITC</text>
<rect x="530.2" y="591.9" width="5.8" height="6" fill="#b6b6b6"/>
<text x="538.6" y="598.9" font-size="11.5" stroke="#000" stroke-width="0.14" textLength="41.6" lengthAdjust="spacingAndGlyphs">FITC+PI</text>
<text x="363.3" y="699.6" font-size="15.5" text-anchor="middle" textLength="127.5" lengthAdjust="spacingAndGlyphs" transform="rotate(-90 363.3 699.6)">Apoptosis rate (%)</text>
<text x="427.3" y="818.8" font-size="11.5" text-anchor="end" stroke="#000" stroke-width="0.14" transform="rotate(-16 427.3 818.8)">siNC</text>
<text x="498.7" y="818.8" font-size="11.5" text-anchor="end" stroke="#000" stroke-width="0.14" transform="rotate(-16 498.7 818.8)">siSTAT5A</text>
<text x="570.1" y="818.8" font-size="11.5" text-anchor="end" stroke="#000" stroke-width="0.14" transform="rotate(-16 570.1 818.8)">siSALIS</text>
<text x="641.5" y="818.8" font-size="11.5" text-anchor="end" stroke="#000" stroke-width="0.14" transform="rotate(-16 641.5 818.8)">siSALIS+siSTAT5A</text>
<text x="78.4" y="234.9" font-size="10" text-anchor="middle" stroke="#000" stroke-width="0.22" textLength="20.8" lengthAdjust="spacingAndGlyphs">siNC</text>
<text x="127.3" y="234.9" font-size="10" text-anchor="middle" stroke="#000" stroke-width="0.22" textLength="41.5" lengthAdjust="spacingAndGlyphs">siSTAT5A</text>
<clipPath id="cb1"><rect x="60.2" y="236.3" width="92.4" height="15.1"/></clipPath>
<g clip-path="url(#cb1)">
<rect x="60.2" y="236.3" width="92.4" height="15.1" fill="#cdcdcd"/>
<rect x="63.5" y="239.2" width="38" height="7.6" rx="3.8" fill="#0c0c0c" filter="url(#b1)"/>
<rect x="111.8" y="240.5" width="36.4" height="5.4" rx="2.7" fill="#3a3a3a" filter="url(#b1)"/>
</g>
<clipPath id="cb2"><rect x="60.2" y="258.8" width="92.4" height="24.8"/></clipPath>
<g clip-path="url(#cb2)">
<rect x="60.2" y="258.8" width="92.4" height="24.8" fill="#c2c2c2"/>
<rect x="62" y="261.5" width="40" height="19" rx="9.5" fill="#4a4a4a" filter="url(#b2)"/>
<rect x="64" y="270" width="36" height="10" rx="5" fill="#2a2a2a" filter="url(#b2)"/>
<rect x="109.5" y="261" width="39.5" height="19.5" rx="9.75" fill="#151515" filter="url(#b2)"/>
<ellipse cx="71.52" cy="271.97" rx="3.31" ry="1.68" fill="#2a2a2a" filter="url(#b1)" opacity="0.22"/>
<ellipse cx="62.53" cy="278.42" rx="2.2" ry="2.19" fill="#232323" filter="url(#b1)" opacity="0.32"/>
<ellipse cx="95.46" cy="270.48" rx="1.95" ry="1.69" fill="#3a3a3a" filter="url(#b1)" opacity="0.42"/>
<ellipse cx="82.93" cy="276.31" rx="1.69" ry="1.86" fill="#3c3c3c" filter="url(#b1)" opacity="0.35"/>
<ellipse cx="74.05" cy="260.68" rx="2.92" ry="1.81" fill="#474747" filter="url(#b1)" opacity="0.42"/>
<ellipse cx="90.57" cy="280.26" rx="3.9" ry="1.42" fill="#2b2b2b" filter="url(#b1)" opacity="0.43"/>
<ellipse cx="97.15" cy="262.14" rx="2.15" ry="2.15" fill="#1c1c1c" filter="url(#b1)" opacity="0.31"/>
<ellipse cx="87.07" cy="266.62" rx="2.66" ry="1.29" fill="#323232" filter="url(#b1)" opacity="0.35"/>
<ellipse cx="85.37" cy="279.89" rx="4.29" ry="2" fill="#3c3c3c" filter="url(#b1)" opacity="0.45"/>
<ellipse cx="88.85" cy="263.59" rx="4.39" ry="2.07" fill="#474747" filter="url(#b1)" opacity="0.34"/>
<ellipse cx="90.55" cy="264.64" rx="3.22" ry="1.2" fill="#454545" filter="url(#b1)" opacity="0.22"/>
<ellipse cx="96.16" cy="281.78" rx="3.9" ry="1.37" fill="#191919" filter="url(#b1)" opacity="0.24"/>
<ellipse cx="73.76" cy="276.91" rx="1.63" ry="1.66" fill="#484848" filter="url(#b1)" opacity="0.21"/>
<ellipse cx="90.74" cy="267.28" rx="4.44" ry="1.51" fill="#484848" filter="url(#b1)" opacity="0.45"/>
<ellipse cx="74.39" cy="261.69" rx="1.59" ry="1.08" fill="#373737" filter="url(#b1)" opacity="0.3"/>
<ellipse cx="86.42" cy="263.44" rx="4.1" ry="1.24" fill="#161616" filter="url(#b1)" opacity="0.44"/>
<ellipse cx="97.87" cy="268.31" rx="3.06" ry="1.7" fill="#2f2f2f" filter="url(#b1)" opacity="0.35"/>
<ellipse cx="84.37" cy="273.64" rx="3.02" ry="1.4" fill="#4c4c4c" filter="url(#b1)" opacity="0.38"/>
<ellipse cx="71.51" cy="266.62" rx="3.06" ry="1.57" fill="#4e4e4e" filter="url(#b1)" opacity="0.2"/>
<ellipse cx="78.61" cy="272.76" rx="3.35" ry="1.69" fill="#151515" filter="url(#b1)" opacity="0.22"/>
<ellipse cx="87.09" cy="270.26" rx="2.56" ry="1.79" fill="#3c3c3c" filter="url(#b1)" opacity="0.38"/>
<ellipse cx="62.89" cy="261.33" rx="4.39" ry="1.15" fill="#3c3c3c" filter="url(#b1)" opacity="0.31"/>
<ellipse cx="85.71" cy="267.04" rx="2.44" ry="1.32" fill="#292929" filter="url(#b1)" opacity="0.35"/>
<ellipse cx="74.02" cy="268.3" rx="1.58" ry="1.6" fill="#424242" filter="url(#b1)" opacity="0.38"/>
<ellipse cx="74.4" cy="264.9" rx="2.22" ry="1.06" fill="#444444" filter="url(#b1)" opacity="0.31"/>
</g>
<clipPath id="cb3"><rect x="60.2" y="291.3" width="92.4" height="81.8"/></clipPath>
<g clip-path="url(#cb3)">
<rect x="60.2" y="291.3" width="92.4" height="81.8" fill="#cacaca"/>
<rect x="64" y="318" width="32" height="55" fill="#b8b8b8" filter="url(#b3)"/>
<rect x="108" y="318" width="38" height="55" fill="#afafaf" filter="url(#b3)"/>
<rect x="56" y="297.6" width="43" height="22.4" rx="11.2" fill="#050505" filter="url(#b1)"/>
<rect x="99" y="294.4" width="59" height="28" rx="14" fill="#050505" filter="url(#b1)"/>
<ellipse cx="99" cy="307" rx="9" ry="7" fill="#0a0a0a" filter="url(#b1)"/>
<ellipse cx="112" cy="325" rx="10" ry="3" fill="#555" filter="url(#b2)"/>
<ellipse cx="80" cy="323" rx="12" ry="2.5" fill="#777" filter="url(#b2)"/>
<rect x="66" y="340.3" width="28" height="3" rx="1.5" fill="#858585" filter="url(#b1)"/>
<rect x="68" y="344.5" width="26" height="2.5" rx="1.25" fill="#a0a0a0" filter="url(#b1)"/>
<rect x="111" y="338.3" width="28" height="2.9" rx="1.45" fill="#5a5a5a" filter="url(#b1)"/>
<rect x="111" y="343.5" width="28" height="2.5" rx="1.25" fill="#8a8a8a" filter="url(#b1)"/>
<rect x="112" y="362.8" width="28" height="3.8" rx="1.9" fill="#858585" filter="url(#b1)"/>
<rect x="64" y="326" width="32" height="4" rx="2" fill="#a8a8a8" filter="url(#b2)"/>
<rect x="110" y="326" width="36" height="5" rx="2.5" fill="#909090" filter="url(#b2)"/>
<ellipse cx="68.3" cy="364.68" rx="2.27" ry="1.49" fill="#7d7d7d" filter="url(#b1)" opacity="0.11"/>
<ellipse cx="84.85" cy="361.86" rx="1.59" ry="1.97" fill="#555555" filter="url(#b1)" opacity="0.11"/>
<ellipse cx="88.39" cy="324.1" rx="3.66" ry="1.12" fill="#6a6a6a" filter="url(#b1)" opacity="0.17"/>
<ellipse cx="92.85" cy="325.47" rx="3.12" ry="2.11" fill="#515151" filter="url(#b1)" opacity="0.11"/>
<ellipse cx="70.93" cy="344.26" rx="2.17" ry="1.41" fill="#515151" filter="url(#b1)" opacity="0.12"/>
<ellipse cx="71.46" cy="335.08" rx="2.88" ry="1.21" fill="#5d5d5d" filter="url(#b1)" opacity="0.06"/>
<ellipse cx="90.8" cy="350.71" rx="2.06" ry="2.19" fill="#767676" filter="url(#b1)" opacity="0.16"/>
<ellipse cx="67.87" cy="339.97" rx="3.63" ry="2.11" fill="#7b7b7b" filter="url(#b1)" opacity="0.11"/>
<ellipse cx="90.56" cy="356.17" rx="3.26" ry="2.04" fill="#626262" filter="url(#b1)" opacity="0.16"/>
<ellipse cx="80.17" cy="352.27" rx="2.23" ry="1.92" fill="#525252" filter="url(#b1)" opacity="0.11"/>
<ellipse cx="69.54" cy="350.34" rx="3.52" ry="1.32" fill="#7a7a7a" filter="url(#b1)" opacity="0.11"/>
<ellipse cx="80.27" cy="361.37" rx="2.68" ry="1.49" fill="#6f6f6f" filter="url(#b1)" opacity="0.06"/>
<ellipse cx="65.39" cy="357.76" rx="3.28" ry="1.35" fill="#8a8a8a" filter="url(#b1)" opacity="0.08"/>
<ellipse cx="80.07" cy="371.14" rx="3.12" ry="2" fill="#7e7e7e" filter="url(#b1)" opacity="0.09"/>
<ellipse cx="80.44" cy="369.72" rx="2.88" ry="1.18" fill="#727272" filter="url(#b1)" opacity="0.13"/>
<ellipse cx="94.63" cy="324.27" rx="3.96" ry="2.04" fill="#7f7f7f" filter="url(#b1)" opacity="0.15"/>
<ellipse cx="89.89" cy="348.9" rx="2.78" ry="0.88" fill="#717171" filter="url(#b1)" opacity="0.16"/>
<ellipse cx="82.24" cy="333.59" rx="2.95" ry="1.3" fill="#6e6e6e" filter="url(#b1)" opacity="0.1"/>
<ellipse cx="81.23" cy="353.93" rx="2.87" ry="0.84" fill="#747474" filter="url(#b1)" opacity="0.09"/>
<ellipse cx="69.67" cy="352.05" rx="3.9" ry="1.92" fill="#838383" filter="url(#b1)" opacity="0.16"/>
<ellipse cx="72.17" cy="364.4" rx="1.75" ry="0.82" fill="#787878" filter="url(#b1)" opacity="0.06"/>
<ellipse cx="88.18" cy="335.98" rx="3.37" ry="1.28" fill="#565656" filter="url(#b1)" opacity="0.07"/>
<ellipse cx="69.11" cy="349.31" rx="2.32" ry="1.8" fill="#5a5a5a" filter="url(#b1)" opacity="0.11"/>
<ellipse cx="74.3" cy="346.74" rx="2.66" ry="1.39" fill="#515151" filter="url(#b1)" opacity="0.08"/>
<ellipse cx="67.48" cy="367.19" rx="2.13" ry="1.65" fill="#6e6e6e" filter="url(#b1)" opacity="0.16"/>
<ellipse cx="64.67" cy="324.86" rx="3.66" ry="1.02" fill="#585858" filter="url(#b1)" opacity="0.14"/>
<ellipse cx="85.7" cy="350.15" rx="4.43" ry="1.92" fill="#5d5d5d" filter="url(#b1)" opacity="0.12"/>
<ellipse cx="71.14" cy="355.13" rx="3.23" ry="1.25" fill="#676767" filter="url(#b1)" opacity="0.14"/>
<ellipse cx="65.88" cy="338.33" rx="4.13" ry="1.23" fill="#8a8a8a" filter="url(#b1)" opacity="0.16"/>
<ellipse cx="73.93" cy="369.09" rx="2.75" ry="1.15" fill="#7c7c7c" filter="url(#b1)" opacity="0.06"/>
<ellipse cx="144.33" cy="369.5" rx="1.75" ry="1.97" fill="#3f3f3f" filter="url(#b1)" opacity="0.2"/>
<ellipse cx="133.45" cy="338.79" rx="3.32" ry="1.61" fill="#606060" filter="url(#b1)" opacity="0.11"/>
<ellipse cx="124.37" cy="342.89" rx="4.48" ry="2.13" fill="#676767" filter="url(#b1)" opacity="0.17"/>
<ellipse cx="124.9" cy="336.88" rx="1.58" ry="1.45" fill="#3e3e3e" filter="url(#b1)" opacity="0.13"/>
<ellipse cx="122.44" cy="366.81" rx="3.18" ry="1.13" fill="#5b5b5b" filter="url(#b1)" opacity="0.08"/>
<ellipse cx="120.36" cy="330.56" rx="4.5" ry="1.74" fill="#5a5a5a" filter="url(#b1)" opacity="0.11"/>
<ellipse cx="141.96" cy="362.24" rx="4.22" ry="1.87" fill="#686868" filter="url(#b1)" opacity="0.21"/>
<ellipse cx="121.44" cy="371.09" rx="1.98" ry="1.86" fill="#757575" filter="url(#b1)" opacity="0.19"/>
<ellipse cx="125.53" cy="349.46" rx="4.27" ry="1.5" fill="#595959" filter="url(#b1)" opacity="0.21"/>
<ellipse cx="121.45" cy="366.38" rx="2.88" ry="1.59" fill="#717171" filter="url(#b1)" opacity="0.23"/>
<ellipse cx="135.5" cy="347.36" rx="2.47" ry="1.78" fill="#494949" filter="url(#b1)" opacity="0.11"/>
<ellipse cx="142.5" cy="336.87" rx="2.43" ry="2.14" fill="#727272" filter="url(#b1)" opacity="0.19"/>
<ellipse cx="127.16" cy="348.85" rx="3.26" ry="1.24" fill="#636363" filter="url(#b1)" opacity="0.11"/>
<ellipse cx="127.45" cy="368.84" rx="1.73" ry="1.95" fill="#616161" filter="url(#b1)" opacity="0.2"/>
<ellipse cx="142.49" cy="333.19" rx="1.68" ry="1.71" fill="#686868" filter="url(#b1)" opacity="0.12"/>
<ellipse cx="116.61" cy="366.02" rx="3.07" ry="2" fill="#424242" filter="url(#b1)" opacity="0.12"/>
<ellipse cx="116" cy="366.27" rx="3.65" ry="0.84" fill="#555555" filter="url(#b1)" opacity="0.14"/>
<ellipse cx="114.53" cy="356.29" rx="4.36" ry="0.84" fill="#404040" filter="url(#b1)" opacity="0.2"/>
<ellipse cx="108.8" cy="336.27" rx="1.97" ry="1.06" fill="#6c6c6c" filter="url(#b1)" opacity="0.19"/>
<ellipse cx="122.65" cy="326.07" rx="1.95" ry="0.85" fill="#777777" filter="url(#b1)" opacity="0.14"/>
<ellipse cx="131.38" cy="359.64" rx="2.51" ry="0.84" fill="#424242" filter="url(#b1)" opacity="0.15"/>
<ellipse cx="137.11" cy="359.52" rx="3.77" ry="2.01" fill="#727272" filter="url(#b1)" opacity="0.19"/>
<ellipse cx="125.97" cy="334.83" rx="2.45" ry="0.94" fill="#636363" filter="url(#b1)" opacity="0.15"/>
<ellipse cx="141.24" cy="330.12" rx="2.68" ry="1.52" fill="#5f5f5f" filter="url(#b1)" opacity="0.1"/>
<ellipse cx="144.47" cy="336.44" rx="2.76" ry="0.83" fill="#606060" filter="url(#b1)" opacity="0.17"/>
<ellipse cx="113.34" cy="326.73" rx="1.98" ry="0.93" fill="#3e3e3e" filter="url(#b1)" opacity="0.18"/>
<ellipse cx="127.31" cy="371.21" rx="4.48" ry="1.13" fill="#747474" filter="url(#b1)" opacity="0.15"/>
<ellipse cx="117.53" cy="352.38" rx="3.9" ry="1.79" fill="#616161" filter="url(#b1)" opacity="0.12"/>
<ellipse cx="124.07" cy="349.26" rx="1.61" ry="1.37" fill="#3c3c3c" filter="url(#b1)" opacity="0.1"/>
<ellipse cx="135.5" cy="335.56" rx="2.05" ry="1.12" fill="#414141" filter="url(#b1)" opacity="0.11"/>
<ellipse cx="127.79" cy="346.29" rx="3.43" ry="1.1" fill="#4e4e4e" filter="url(#b1)" opacity="0.23"/>
<ellipse cx="144.6" cy="358.99" rx="3.03" ry="1.61" fill="#565656" filter="url(#b1)" opacity="0.09"/>
<ellipse cx="123.88" cy="349.2" rx="1.78" ry="1.92" fill="#464646" filter="url(#b1)" opacity="0.14"/>
<ellipse cx="127.73" cy="368.23" rx="2.37" ry="2.18" fill="#606060" filter="url(#b1)" opacity="0.14"/>
<ellipse cx="108.72" cy="356.89" rx="2.42" ry="1.98" fill="#424242" filter="url(#b1)" opacity="0.19"/>
<ellipse cx="108.6" cy="345.67" rx="2.96" ry="1.09" fill="#545454" filter="url(#b1)" opacity="0.17"/>
<ellipse cx="110.8" cy="337.65" rx="4.31" ry="0.91" fill="#525252" filter="url(#b1)" opacity="0.2"/>
<ellipse cx="115.31" cy="351.43" rx="2.89" ry="1.86" fill="#535353" filter="url(#b1)" opacity="0.14"/>
<ellipse cx="112.63" cy="329.84" rx="4.05" ry="1.7" fill="#404040" filter="url(#b1)" opacity="0.23"/>
<ellipse cx="134.32" cy="325.18" rx="3.83" ry="1.81" fill="#636363" filter="url(#b1)" opacity="0.16"/>
<ellipse cx="121.59" cy="345.94" rx="2.31" ry="1.54" fill="#6b6b6b" filter="url(#b1)" opacity="0.16"/>
<ellipse cx="144.28" cy="362.61" rx="4.01" ry="1.22" fill="#737373" filter="url(#b1)" opacity="0.12"/>
<ellipse cx="126.57" cy="336.45" rx="3.54" ry="2.09" fill="#555555" filter="url(#b1)" opacity="0.17"/>
<ellipse cx="139.08" cy="328.61" rx="4.49" ry="1.01" fill="#515151" filter="url(#b1)" opacity="0.15"/>
<ellipse cx="110.54" cy="328.14" rx="4.47" ry="1.71" fill="#717171" filter="url(#b1)" opacity="0.1"/>
</g>
<clipPath id="cb4"><rect x="60.2" y="374.3" width="92.4" height="61.9"/></clipPath>
<g clip-path="url(#cb4)">
<rect x="60.2" y="374.3" width="92.4" height="61.9" fill="#cdcdcd"/>
<rect x="112" y="400" width="34" height="30" fill="#b6b6b6" filter="url(#b3)"/>
<rect x="63.5" y="384.8" width="39.1" height="13.8" rx="6.9" fill="#080808" filter="url(#b1)"/>
<rect x="108.6" y="382.2" width="41.9" height="17.8" rx="8.9" fill="#050505" filter="url(#b1)"/>
<rect x="114" y="419" width="28" height="6" rx="3" fill="#a4a4a4" filter="url(#b2)"/>
</g>
<clipPath id="cb5"><rect x="60.2" y="438.9" width="92.4" height="21.6"/></clipPath>
<g clip-path="url(#cb5)">
<rect x="60.2" y="438.9" width="92.4" height="21.6" fill="#c9c9c9"/>
<rect x="64.8" y="447" width="29.7" height="9" rx="4.5" fill="#3e3e3e" filter="url(#b1)"/>
<rect x="112" y="444.3" width="35.5" height="11.7" rx="5.85" fill="#101010" filter="url(#b1)"/>
</g>
<clipPath id="cb6"><rect x="60.2" y="469.9" width="92.4" height="21.6"/></clipPath>
<g clip-path="url(#cb6)">
<rect x="60.2" y="469.9" width="92.4" height="21.6" fill="#cbcbcb"/>
<rect x="64.8" y="475.3" width="32.6" height="10.9" rx="5.45" fill="#0a0a0a" filter="url(#b1)"/>
<rect x="110.5" y="475.3" width="37.8" height="9.6" rx="4.8" fill="#0c0c0c" filter="url(#b1)"/>
</g>
<clipPath id="cb7"><rect x="60.2" y="498.2" width="92.4" height="24.3"/></clipPath>
<g clip-path="url(#cb7)">
<rect x="60.2" y="498.2" width="92.4" height="24.3" fill="#d0d0d0"/>
<rect x="67.5" y="507.6" width="36.7" height="9.2" rx="4.6" fill="#0a0a0a" filter="url(#b1)"/>
<rect x="112" y="505" width="36.3" height="9.1" rx="4.55" fill="#0a0a0a" filter="url(#b1)"/>
</g>
<text x="54.5" y="248.8" font-size="10.2" text-anchor="end" stroke="#000" stroke-width="0.22" textLength="33.6" lengthAdjust="spacingAndGlyphs">STAT5A</text>
<text x="55.3" y="277.9" font-size="10.2" text-anchor="end" stroke="#000" stroke-width="0.22">IGFBP3</text>
<text x="56.7" y="312.2" font-size="10.2" text-anchor="end" stroke="#000" stroke-width="0.22">Caspase-3</text>
<text x="58" y="367.8" font-size="10.2" text-anchor="end" stroke="#000" stroke-width="0.22">c-Caspase-3</text>
<text x="56.7" y="394.8" font-size="10.2" text-anchor="end" stroke="#000" stroke-width="0.22">Caspase-7</text>
<text x="57.3" y="425" font-size="10.2" text-anchor="end" stroke="#000" stroke-width="0.22">c-Caspase-7</text>
<text x="55.4" y="454.7" font-size="10.2" text-anchor="end" stroke="#000" stroke-width="0.22">BAX</text>
<text x="55.4" y="484.9" font-size="10.2" text-anchor="end" stroke="#000" stroke-width="0.22">BCL-2</text>
<text x="55.4" y="516.8" font-size="10.2" text-anchor="end" stroke="#000" stroke-width="0.22">GAPDH</text>
<text x="153.4" y="246.3" font-size="7" fill="#222" stroke="#222" stroke-width="0.22" textLength="22.2" lengthAdjust="spacingAndGlyphs">92 kDa</text>
<text x="153.4" y="275.8" font-size="7" fill="#222" stroke="#222" stroke-width="0.22" textLength="22.2" lengthAdjust="spacingAndGlyphs">29 kDa</text>
<text x="153.4" y="308.3" font-size="7" fill="#222" stroke="#222" stroke-width="0.22" textLength="22.2" lengthAdjust="spacingAndGlyphs">34 kDa</text>
<text x="153.4" y="367.7" font-size="7" fill="#222" stroke="#222" stroke-width="0.22" textLength="22.2" lengthAdjust="spacingAndGlyphs">22 kDa</text>
<text x="153.4" y="392.2" font-size="7" fill="#222" stroke="#222" stroke-width="0.22" textLength="22.2" lengthAdjust="spacingAndGlyphs">37 kDa</text>
<text x="153.4" y="425.7" font-size="7" fill="#222" stroke="#222" stroke-width="0.22" textLength="22.2" lengthAdjust="spacingAndGlyphs">25 kDa</text>
<text x="153.4" y="453.5" font-size="7" fill="#222" stroke="#222" stroke-width="0.22" textLength="22.2" lengthAdjust="spacingAndGlyphs">23 kDa</text>
<text x="153.4" y="483.2" font-size="7" fill="#222" stroke="#222" stroke-width="0.22" textLength="22.2" lengthAdjust="spacingAndGlyphs">26 kDa</text>
<text x="153.4" y="513.7" font-size="7" fill="#222" stroke="#222" stroke-width="0.22" textLength="22.2" lengthAdjust="spacingAndGlyphs">37 kDa</text>
<text x="76.1" y="257.7" font-size="7.2" fill="#222" stroke="#222" stroke-width="0.22" textLength="13" lengthAdjust="spacingAndGlyphs">1.15</text>
<text x="121.6" y="257.7" font-size="7.2" fill="#222" stroke="#222" stroke-width="0.22" textLength="13" lengthAdjust="spacingAndGlyphs">0.78</text>
<text x="76.1" y="288.8" font-size="7.2" fill="#222" stroke="#222" stroke-width="0.22" textLength="13" lengthAdjust="spacingAndGlyphs">1.76</text>
<text x="121.4" y="288.8" font-size="7.2" fill="#222" stroke="#222" stroke-width="0.22" textLength="13" lengthAdjust="spacingAndGlyphs">2.15</text>
<text x="74.3" y="467.6" font-size="7.2" fill="#222" stroke="#222" stroke-width="0.22" textLength="13" lengthAdjust="spacingAndGlyphs">0.25</text>
<text x="120.2" y="467.6" font-size="7.2" fill="#222" stroke="#222" stroke-width="0.22" textLength="13" lengthAdjust="spacingAndGlyphs">0.58</text>
<text x="72.9" y="497.7" font-size="7.2" fill="#222" stroke="#222" stroke-width="0.22" textLength="13" lengthAdjust="spacingAndGlyphs">0.56</text>
<text x="120.2" y="497.7" font-size="7.2" fill="#222" stroke="#222" stroke-width="0.22" textLength="13" lengthAdjust="spacingAndGlyphs">0.57</text>
<text x="78.3" y="528" font-size="7.2" fill="#222" stroke="#222" stroke-width="0.22" textLength="13" lengthAdjust="spacingAndGlyphs">1.00</text>
<text x="120.2" y="528" font-size="7.2" fill="#222" stroke="#222" stroke-width="0.22" textLength="13" lengthAdjust="spacingAndGlyphs">1.00</text>
<text x="406.6" y="242.2" font-size="10" text-anchor="middle" stroke="#000" stroke-width="0.22" textLength="21.2" lengthAdjust="spacingAndGlyphs">siNC</text>
<text x="446.2" y="242.2" font-size="10" text-anchor="middle" stroke="#000" stroke-width="0.22" textLength="28.5" lengthAdjust="spacingAndGlyphs">siSALI</text>
<text x="492.3" y="230.6" font-size="10" text-anchor="middle" stroke="#000" stroke-width="0.22" textLength="41.8" lengthAdjust="spacingAndGlyphs">siSALIS+</text>
<text x="492.3" y="242.2" font-size="10" text-anchor="middle" stroke="#000" stroke-width="0.22" textLength="42.3" lengthAdjust="spacingAndGlyphs">siSTAT5A</text>
<clipPath id="cb8"><rect x="387" y="244.5" width="119.8" height="15.7"/></clipPath>
<g clip-path="url(#cb8)">
<rect x="387" y="244.5" width="119.8" height="15.7" fill="#cecece"/>
<rect x="390" y="249" width="35" height="8" rx="4" fill="#080808" filter="url(#b1)"/>
<rect x="428.6" y="248.8" width="36.6" height="8.2" rx="4.1" fill="#080808" filter="url(#b1)"/>
<rect x="470.2" y="249.8" width="33" height="6.4" rx="3.2" fill="#141414" filter="url(#b1)"/>
</g>
<clipPath id="cb9"><rect x="387" y="267.3" width="119.8" height="20.3"/></clipPath>
<g clip-path="url(#cb9)">
<rect x="387" y="267.3" width="119.8" height="20.3" fill="#c6c6c6"/>
<rect x="393" y="272.5" width="28" height="6.5" rx="3.25" fill="#7a7a7a" filter="url(#b1)"/>
<rect x="408" y="272.5" width="13" height="6" rx="3" fill="#555" filter="url(#b1)"/>
<rect x="432" y="272.2" width="29" height="7.4" rx="3.7" fill="#2c2c2c" filter="url(#b1)"/>
<rect x="473.5" y="271.6" width="28.5" height="8.4" rx="4.2" fill="#141414" filter="url(#b1)"/>
</g>
<clipPath id="cb10"><rect x="387" y="296" width="119.8" height="87.4"/></clipPath>
<g clip-path="url(#cb10)">
<rect x="387" y="296" width="119.8" height="87.4" fill="#cbcbcb"/>
<rect x="395" y="320" width="27" height="63" fill="#999" filter="url(#b3)"/>
<rect x="432" y="320" width="29" height="63" fill="#929292" filter="url(#b3)"/>
<rect x="472" y="320" width="29" height="63" fill="#929292" filter="url(#b3)"/>
<rect x="388" y="302" width="119" height="16" fill="#1e1e1e" filter="url(#b2)"/>
<path d="M399.5 301.4L417.5 301.4L426.5 310L419.5 325L397.5 325L390.5 310Z" fill="#030303" filter="url(#b1)"/>
<path d="M436.5 300.5L456.5 300.5L465.5 310L458.5 325L434.5 325L427.5 310Z" fill="#030303" filter="url(#b1)"/>
<path d="M476 300.5L498 300.5L507 310L500 325L474 325L467 310Z" fill="#030303" filter="url(#b1)"/>
<rect x="396" y="332" width="25" height="3.5" rx="1.75" fill="#858585" filter="url(#b1)"/>
<rect x="432" y="332" width="29" height="3.5" rx="1.75" fill="#858585" filter="url(#b1)"/>
<rect x="472" y="332" width="29" height="3.5" rx="1.75" fill="#808080" filter="url(#b1)"/>
<rect x="396" y="347.5" width="25" height="3.5" rx="1.75" fill="#555555" filter="url(#b1)"/>
<rect x="432" y="347.2" width="29" height="3.8" rx="1.9" fill="#3a3a3a" filter="url(#b1)"/>
<rect x="472" y="347.2" width="29" height="3.8" rx="1.9" fill="#444444" filter="url(#b1)"/>
<rect x="396" y="353.5" width="25" height="3" rx="1.5" fill="#757575" filter="url(#b1)"/>
<rect x="432" y="353.5" width="29" height="3" rx="1.5" fill="#6a6a6a" filter="url(#b1)"/>
<rect x="472" y="353.5" width="29" height="3" rx="1.5" fill="#6a6a6a" filter="url(#b1)"/>
<rect x="396" y="363.5" width="25" height="4" rx="2" fill="#8a8a8a" filter="url(#b1)"/>
<rect x="432" y="363.5" width="29" height="4" rx="2" fill="#7a7a7a" filter="url(#b1)"/>
<rect x="472" y="363.5" width="29" height="4" rx="2" fill="#7a7a7a" filter="url(#b1)"/>
<rect x="391" y="374.5" width="32" height="5.5" rx="2.75" fill="#222" filter="url(#b1)"/>
<rect x="430" y="374.5" width="32" height="6" rx="3" fill="#181818" filter="url(#b1)"/>
<rect x="470" y="374.5" width="33" height="6" rx="3" fill="#141414" filter="url(#b1)"/>
<ellipse cx="401.37" cy="330.75" rx="1.96" ry="0.89" fill="#3f3f3f" filter="url(#b1)" opacity="0.21"/>
<ellipse cx="419.78" cy="362.82" rx="2.17" ry="1.55" fill="#555555" filter="url(#b1)" opacity="0.18"/>
<ellipse cx="399.66" cy="330.88" rx="4.28" ry="1.96" fill="#343434" filter="url(#b1)" opacity="0.31"/>
<ellipse cx="416.61" cy="334.9" rx="3.38" ry="1.82" fill="#3a3a3a" filter="url(#b1)" opacity="0.32"/>
<ellipse cx="418.76" cy="329.99" rx="3.52" ry="1.51" fill="#4c4c4c" filter="url(#b1)" opacity="0.16"/>
<ellipse cx="407.79" cy="330.11" rx="4.1" ry="1.57" fill="#606060" filter="url(#b1)" opacity="0.19"/>
<ellipse cx="419.54" cy="352.33" rx="4.04" ry="1.51" fill="#5c5c5c" filter="url(#b1)" opacity="0.22"/>
<ellipse cx="411.17" cy="345.83" rx="2.42" ry="1.94" fill="#313131" filter="url(#b1)" opacity="0.13"/>
<ellipse cx="396.25" cy="354.81" rx="3.1" ry="1.46" fill="#383838" filter="url(#b1)" opacity="0.2"/>
<ellipse cx="421.93" cy="335" rx="2.11" ry="1.69" fill="#404040" filter="url(#b1)" opacity="0.18"/>
<ellipse cx="404.61" cy="360.36" rx="3.18" ry="2.07" fill="#3b3b3b" filter="url(#b1)" opacity="0.14"/>
<ellipse cx="396.66" cy="336.53" rx="3.35" ry="1.13" fill="#555555" filter="url(#b1)" opacity="0.2"/>
<ellipse cx="399.79" cy="347.11" rx="3.59" ry="2.05" fill="#2a2a2a" filter="url(#b1)" opacity="0.34"/>
<ellipse cx="414.84" cy="370.15" rx="2.37" ry="2.15" fill="#292929" filter="url(#b1)" opacity="0.3"/>
<ellipse cx="406.08" cy="369.39" rx="3.95" ry="1.21" fill="#4d4d4d" filter="url(#b1)" opacity="0.16"/>
<ellipse cx="406.99" cy="332.28" rx="4.39" ry="1.26" fill="#3e3e3e" filter="url(#b1)" opacity="0.12"/>
<ellipse cx="396.21" cy="333.8" rx="2.59" ry="1.21" fill="#575757" filter="url(#b1)" opacity="0.14"/>
<ellipse cx="421.51" cy="345.5" rx="1.68" ry="0.88" fill="#343434" filter="url(#b1)" opacity="0.16"/>
<ellipse cx="413.27" cy="332.88" rx="2.97" ry="1.15" fill="#2a2a2a" filter="url(#b1)" opacity="0.35"/>
<ellipse cx="398.3" cy="350.35" rx="2.73" ry="2.18" fill="#565656" filter="url(#b1)" opacity="0.23"/>
<ellipse cx="401.53" cy="344.89" rx="2.76" ry="1.15" fill="#2a2a2a" filter="url(#b1)" opacity="0.32"/>
<ellipse cx="417.44" cy="348.93" rx="2.26" ry="1.14" fill="#292929" filter="url(#b1)" opacity="0.17"/>
<ellipse cx="401.25" cy="366.01" rx="1.65" ry="2.1" fill="#303030" filter="url(#b1)" opacity="0.25"/>
<ellipse cx="421.75" cy="344.54" rx="3.46" ry="1.91" fill="#5e5e5e" filter="url(#b1)" opacity="0.29"/>
<ellipse cx="408.35" cy="330.27" rx="4.12" ry="2.06" fill="#343434" filter="url(#b1)" opacity="0.33"/>
<ellipse cx="404.09" cy="356.22" rx="3.43" ry="1.94" fill="#575757" filter="url(#b1)" opacity="0.24"/>
<ellipse cx="412.68" cy="357.55" rx="4.27" ry="2.14" fill="#383838" filter="url(#b1)" opacity="0.14"/>
<ellipse cx="421.22" cy="370.24" rx="1.63" ry="2.06" fill="#505050" filter="url(#b1)" opacity="0.15"/>
<ellipse cx="421.15" cy="356.69" rx="2" ry="1.69" fill="#2b2b2b" filter="url(#b1)" opacity="0.25"/>
<ellipse cx="415.16" cy="368.66" rx="1.51" ry="2.09" fill="#353535" filter="url(#b1)" opacity="0.12"/>
<ellipse cx="450.69" cy="360.12" rx="4.33" ry="1.84" fill="#575757" filter="url(#b1)" opacity="0.33"/>
<ellipse cx="432.87" cy="347.42" rx="3.45" ry="2.06" fill="#606060" filter="url(#b1)" opacity="0.15"/>
<ellipse cx="446.07" cy="337.34" rx="3.22" ry="0.82" fill="#484848" filter="url(#b1)" opacity="0.17"/>
<ellipse cx="440.38" cy="368.15" rx="1.98" ry="1.92" fill="#555555" filter="url(#b1)" opacity="0.15"/>
<ellipse cx="450.52" cy="331.83" rx="4.11" ry="1.09" fill="#282828" filter="url(#b1)" opacity="0.17"/>
<ellipse cx="461.47" cy="366.13" rx="4.38" ry="1.55" fill="#393939" filter="url(#b1)" opacity="0.28"/>
<ellipse cx="438.14" cy="369.28" rx="4.4" ry="2.05" fill="#515151" filter="url(#b1)" opacity="0.19"/>
<ellipse cx="442.84" cy="333.63" rx="1.7" ry="1.22" fill="#303030" filter="url(#b1)" opacity="0.26"/>
<ellipse cx="432.1" cy="357.18" rx="2.43" ry="1.95" fill="#3c3c3c" filter="url(#b1)" opacity="0.23"/>
<ellipse cx="441.47" cy="348.14" rx="1.67" ry="2.17" fill="#525252" filter="url(#b1)" opacity="0.13"/>
<ellipse cx="454.49" cy="364.86" rx="3.86" ry="1.31" fill="#292929" filter="url(#b1)" opacity="0.25"/>
<ellipse cx="432.27" cy="328.15" rx="4.37" ry="1.08" fill="#323232" filter="url(#b1)" opacity="0.29"/>
<ellipse cx="459.89" cy="369.33" rx="2.56" ry="1.53" fill="#3c3c3c" filter="url(#b1)" opacity="0.3"/>
<ellipse cx="435.24" cy="360.43" rx="4.08" ry="0.85" fill="#575757" filter="url(#b1)" opacity="0.34"/>
<ellipse cx="434.74" cy="341.67" rx="4.25" ry="1.28" fill="#4c4c4c" filter="url(#b1)" opacity="0.33"/>
<ellipse cx="448.35" cy="340.37" rx="2.03" ry="0.91" fill="#3b3b3b" filter="url(#b1)" opacity="0.15"/>
<ellipse cx="452.68" cy="371.85" rx="1.65" ry="2.18" fill="#313131" filter="url(#b1)" opacity="0.24"/>
<ellipse cx="444.18" cy="336.92" rx="3.98" ry="1.44" fill="#4b4b4b" filter="url(#b1)" opacity="0.22"/>
<ellipse cx="433.67" cy="368.14" rx="2.98" ry="1.97" fill="#292929" filter="url(#b1)" opacity="0.15"/>
<ellipse cx="453.95" cy="369.69" rx="3.86" ry="0.95" fill="#4d4d4d" filter="url(#b1)" opacity="0.22"/>
<ellipse cx="436.48" cy="364.86" rx="2.86" ry="2.2" fill="#393939" filter="url(#b1)" opacity="0.32"/>
<ellipse cx="461.28" cy="346.86" rx="3.69" ry="1.47" fill="#454545" filter="url(#b1)" opacity="0.19"/>
<ellipse cx="444.11" cy="332.74" rx="4.47" ry="2.14" fill="#3e3e3e" filter="url(#b1)" opacity="0.26"/>
<ellipse cx="446.98" cy="341.57" rx="2.32" ry="1.89" fill="#2d2d2d" filter="url(#b1)" opacity="0.32"/>
<ellipse cx="442.84" cy="362.16" rx="3.58" ry="1.73" fill="#565656" filter="url(#b1)" opacity="0.29"/>
<ellipse cx="442.9" cy="358.41" rx="2.96" ry="1.88" fill="#383838" filter="url(#b1)" opacity="0.28"/>
<ellipse cx="440.82" cy="369.5" rx="3.24" ry="0.82" fill="#4e4e4e" filter="url(#b1)" opacity="0.25"/>
<ellipse cx="439.52" cy="356.9" rx="3.95" ry="1.71" fill="#434343" filter="url(#b1)" opacity="0.3"/>
<ellipse cx="442.44" cy="355.63" rx="3.98" ry="1.29" fill="#545454" filter="url(#b1)" opacity="0.31"/>
<ellipse cx="458.1" cy="357.66" rx="4.37" ry="1.53" fill="#626262" filter="url(#b1)" opacity="0.24"/>
<ellipse cx="436.99" cy="364.48" rx="2.93" ry="1.77" fill="#606060" filter="url(#b1)" opacity="0.29"/>
<ellipse cx="453.91" cy="333.9" rx="3.24" ry="1.73" fill="#565656" filter="url(#b1)" opacity="0.22"/>
<ellipse cx="450.71" cy="361.64" rx="3.66" ry="0.84" fill="#4e4e4e" filter="url(#b1)" opacity="0.16"/>
<ellipse cx="445.23" cy="355.91" rx="3.56" ry="1.68" fill="#353535" filter="url(#b1)" opacity="0.13"/>
<ellipse cx="446.15" cy="336.41" rx="1.9" ry="1.24" fill="#2b2b2b" filter="url(#b1)" opacity="0.16"/>
<ellipse cx="495.8" cy="363.81" rx="2.28" ry="0.8" fill="#454545" filter="url(#b1)" opacity="0.27"/>
<ellipse cx="486.11" cy="360.95" rx="3.81" ry="1.18" fill="#3e3e3e" filter="url(#b1)" opacity="0.3"/>
<ellipse cx="493.89" cy="345.04" rx="3.55" ry="1.07" fill="#484848" filter="url(#b1)" opacity="0.25"/>
<ellipse cx="496.15" cy="338.21" rx="3.56" ry="1.98" fill="#585858" filter="url(#b1)" opacity="0.2"/>
<ellipse cx="474.79" cy="362.81" rx="2.84" ry="0.93" fill="#585858" filter="url(#b1)" opacity="0.17"/>
<ellipse cx="491.05" cy="339.39" rx="3.27" ry="1.08" fill="#616161" filter="url(#b1)" opacity="0.27"/>
<ellipse cx="482.81" cy="368.91" rx="3.04" ry="1.7" fill="#5e5e5e" filter="url(#b1)" opacity="0.28"/>
<ellipse cx="496.17" cy="370.91" rx="2.58" ry="1.64" fill="#292929" filter="url(#b1)" opacity="0.19"/>
<ellipse cx="489.67" cy="330.13" rx="3.08" ry="0.96" fill="#5c5c5c" filter="url(#b1)" opacity="0.27"/>
<ellipse cx="481.37" cy="335.03" rx="1.91" ry="1.09" fill="#454545" filter="url(#b1)" opacity="0.32"/>
<ellipse cx="492.95" cy="326.58" rx="1.55" ry="1.27" fill="#565656" filter="url(#b1)" opacity="0.33"/>
<ellipse cx="490.61" cy="340.08" rx="2.67" ry="0.98" fill="#3e3e3e" filter="url(#b1)" opacity="0.35"/>
<ellipse cx="473.61" cy="345.45" rx="2.69" ry="2.17" fill="#545454" filter="url(#b1)" opacity="0.18"/>
<ellipse cx="501.38" cy="367.04" rx="4.17" ry="1.43" fill="#505050" filter="url(#b1)" opacity="0.31"/>
<ellipse cx="495.88" cy="349.77" rx="3.62" ry="1.37" fill="#444444" filter="url(#b1)" opacity="0.14"/>
<ellipse cx="494.4" cy="338.23" rx="3.85" ry="1.04" fill="#454545" filter="url(#b1)" opacity="0.13"/>
<ellipse cx="475.7" cy="353.11" rx="2.27" ry="1.43" fill="#3d3d3d" filter="url(#b1)" opacity="0.33"/>
<ellipse cx="479.64" cy="344.89" rx="3.34" ry="1.18" fill="#5c5c5c" filter="url(#b1)" opacity="0.23"/>
<ellipse cx="486.36" cy="332.54" rx="2.42" ry="1.93" fill="#3e3e3e" filter="url(#b1)" opacity="0.19"/>
<ellipse cx="491.78" cy="370.66" rx="2.63" ry="1.64" fill="#5f5f5f" filter="url(#b1)" opacity="0.19"/>
<ellipse cx="483.95" cy="348.45" rx="4.31" ry="1.21" fill="#575757" filter="url(#b1)" opacity="0.12"/>
<ellipse cx="485.48" cy="328.63" rx="3.82" ry="0.96" fill="#292929" filter="url(#b1)" opacity="0.29"/>
<ellipse cx="482.86" cy="369.17" rx="1.69" ry="1.07" fill="#5b5b5b" filter="url(#b1)" opacity="0.34"/>
<ellipse cx="490.4" cy="345.42" rx="3.94" ry="1.49" fill="#565656" filter="url(#b1)" opacity="0.23"/>
<ellipse cx="475" cy="342.65" rx="3.38" ry="1.65" fill="#303030" filter="url(#b1)" opacity="0.15"/>
<ellipse cx="490.84" cy="330.48" rx="3.44" ry="1.45" fill="#2e2e2e" filter="url(#b1)" opacity="0.33"/>
<ellipse cx="490.88" cy="358.26" rx="4" ry="0.92" fill="#2f2f2f" filter="url(#b1)" opacity="0.26"/>
<ellipse cx="499.34" cy="367.76" rx="2.86" ry="1.77" fill="#5d5d5d" filter="url(#b1)" opacity="0.3"/>
<ellipse cx="476.11" cy="369.4" rx="2.82" ry="1.89" fill="#5e5e5e" filter="url(#b1)" opacity="0.22"/>
<ellipse cx="480.29" cy="358.77" rx="3.9" ry="2.17" fill="#2b2b2b" filter="url(#b1)" opacity="0.19"/>
<ellipse cx="500.19" cy="329.85" rx="2.34" ry="2.15" fill="#5b5b5b" filter="url(#b1)" opacity="0.22"/>
<ellipse cx="499.66" cy="327.47" rx="3.95" ry="1.69" fill="#2d2d2d" filter="url(#b1)" opacity="0.24"/>
<ellipse cx="472.98" cy="333.97" rx="1.66" ry="2.19" fill="#3e3e3e" filter="url(#b1)" opacity="0.3"/>
<ellipse cx="500.49" cy="358.23" rx="1.73" ry="1.82" fill="#3c3c3c" filter="url(#b1)" opacity="0.15"/>
<ellipse cx="488.41" cy="347.35" rx="1.73" ry="0.9" fill="#454545" filter="url(#b1)" opacity="0.24"/>
</g>
<clipPath id="cb11"><rect x="387" y="384.6" width="119.8" height="48"/></clipPath>
<g clip-path="url(#cb11)">
<rect x="387" y="384.6" width="119.8" height="48" fill="#cfcfcf"/>
<rect x="432" y="404" width="30" height="28" fill="#9a9a9a" filter="url(#b2)"/>
<rect x="471" y="404" width="31" height="28" fill="#9a9a9a" filter="url(#b2)"/>
<rect x="393.9" y="394.2" width="28.9" height="8.4" rx="4.2" fill="#0c0c0c" filter="url(#b1)"/>
<rect x="427.4" y="390.8" width="37.6" height="15.8" rx="7.9" fill="#040404" filter="url(#b1)"/>
<rect x="466" y="390.8" width="39" height="15.8" rx="7.9" fill="#040404" filter="url(#b1)"/>
<rect x="433" y="419.5" width="28" height="5" rx="2.5" fill="#4a4a4a" filter="url(#b1)"/>
<rect x="472" y="419.5" width="29" height="5" rx="2.5" fill="#4a4a4a" filter="url(#b1)"/>
<rect x="433" y="411" width="28" height="3" rx="1.5" fill="#7a7a7a" filter="url(#b1)"/>
<rect x="472" y="411" width="29" height="3" rx="1.5" fill="#7a7a7a" filter="url(#b1)"/>
<ellipse cx="441.71" cy="409.62" rx="1.72" ry="1.55" fill="#4f4f4f" filter="url(#b1)" opacity="0.2"/>
<ellipse cx="433.74" cy="418.18" rx="2.8" ry="0.9" fill="#2a2a2a" filter="url(#b1)" opacity="0.14"/>
<ellipse cx="444.74" cy="425.84" rx="2.17" ry="1.68" fill="#2f2f2f" filter="url(#b1)" opacity="0.34"/>
<ellipse cx="449.31" cy="415.52" rx="1.64" ry="2" fill="#626262" filter="url(#b1)" opacity="0.19"/>
<ellipse cx="436.33" cy="408.83" rx="3.95" ry="1.05" fill="#3a3a3a" filter="url(#b1)" opacity="0.25"/>
<ellipse cx="451.17" cy="414.94" rx="1.69" ry="0.88" fill="#484848" filter="url(#b1)" opacity="0.17"/>
<ellipse cx="452.41" cy="416.26" rx="3.26" ry="1.43" fill="#3a3a3a" filter="url(#b1)" opacity="0.19"/>
<ellipse cx="455.83" cy="422.78" rx="3.22" ry="1.54" fill="#363636" filter="url(#b1)" opacity="0.32"/>
<ellipse cx="453.88" cy="412.91" rx="1.85" ry="1.39" fill="#626262" filter="url(#b1)" opacity="0.29"/>
<ellipse cx="436.56" cy="417.74" rx="3.5" ry="1.87" fill="#2a2a2a" filter="url(#b1)" opacity="0.25"/>
<ellipse cx="458.26" cy="413.53" rx="3.28" ry="1.61" fill="#515151" filter="url(#b1)" opacity="0.22"/>
<ellipse cx="457.2" cy="428.67" rx="3.49" ry="0.88" fill="#444444" filter="url(#b1)" opacity="0.28"/>
<ellipse cx="451.41" cy="429.83" rx="2.35" ry="1.34" fill="#595959" filter="url(#b1)" opacity="0.27"/>
<ellipse cx="432.68" cy="417.08" rx="1.85" ry="0.88" fill="#323232" filter="url(#b1)" opacity="0.3"/>
<ellipse cx="435.88" cy="411.94" rx="4.11" ry="0.91" fill="#3f3f3f" filter="url(#b1)" opacity="0.22"/>
<ellipse cx="448.48" cy="427.2" rx="4.09" ry="1.19" fill="#595959" filter="url(#b1)" opacity="0.22"/>
<ellipse cx="442.76" cy="427.22" rx="1.95" ry="1.05" fill="#616161" filter="url(#b1)" opacity="0.17"/>
<ellipse cx="439" cy="417.64" rx="2.29" ry="0.81" fill="#4b4b4b" filter="url(#b1)" opacity="0.22"/>
<ellipse cx="478.03" cy="429.1" rx="3.61" ry="0.92" fill="#2f2f2f" filter="url(#b1)" opacity="0.18"/>
<ellipse cx="501.97" cy="411.03" rx="2.88" ry="1.43" fill="#4e4e4e" filter="url(#b1)" opacity="0.23"/>
<ellipse cx="476.96" cy="425.93" rx="2.2" ry="0.83" fill="#2d2d2d" filter="url(#b1)" opacity="0.18"/>
<ellipse cx="483.64" cy="427.65" rx="1.84" ry="1.16" fill="#3e3e3e" filter="url(#b1)" opacity="0.35"/>
<ellipse cx="472.96" cy="420.88" rx="3.48" ry="1.27" fill="#3e3e3e" filter="url(#b1)" opacity="0.28"/>
<ellipse cx="486.42" cy="421.59" rx="3.24" ry="1" fill="#5e5e5e" filter="url(#b1)" opacity="0.13"/>
<ellipse cx="500.33" cy="417.73" rx="4.34" ry="1.61" fill="#333333" filter="url(#b1)" opacity="0.29"/>
<ellipse cx="498.31" cy="412.86" rx="4.13" ry="0.99" fill="#3d3d3d" filter="url(#b1)" opacity="0.3"/>
<ellipse cx="474.03" cy="422.56" rx="4.35" ry="1.98" fill="#525252" filter="url(#b1)" opacity="0.24"/>
<ellipse cx="477.13" cy="409.6" rx="3.03" ry="0.9" fill="#474747" filter="url(#b1)" opacity="0.33"/>
<ellipse cx="486.73" cy="422.83" rx="2.23" ry="0.82" fill="#353535" filter="url(#b1)" opacity="0.2"/>
<ellipse cx="479.27" cy="416.16" rx="4" ry="2.05" fill="#3e3e3e" filter="url(#b1)" opacity="0.16"/>
<ellipse cx="483.28" cy="409.99" rx="4.42" ry="1.08" fill="#4f4f4f" filter="url(#b1)" opacity="0.3"/>
<ellipse cx="480.3" cy="406.32" rx="2.53" ry="1.04" fill="#555555" filter="url(#b1)" opacity="0.22"/>
<ellipse cx="478.18" cy="415.84" rx="2.75" ry="1.62" fill="#424242" filter="url(#b1)" opacity="0.19"/>
<ellipse cx="473.95" cy="408.05" rx="3.06" ry="1.3" fill="#2e2e2e" filter="url(#b1)" opacity="0.31"/>
<ellipse cx="486.65" cy="423" rx="1.69" ry="0.82" fill="#626262" filter="url(#b1)" opacity="0.15"/>
<ellipse cx="482.98" cy="419.77" rx="2.55" ry="2.15" fill="#545454" filter="url(#b1)" opacity="0.12"/>
</g>
<clipPath id="cb12"><rect x="387" y="434" width="119.8" height="19.9"/></clipPath>
<g clip-path="url(#cb12)">
<rect x="387" y="434" width="119.8" height="19.9" fill="#c9c9c9"/>
<rect x="398" y="441" width="22" height="6" rx="3" fill="#bcbcbc" filter="url(#b2)"/>
<rect x="433" y="436" width="31.5" height="11" rx="5.5" fill="#707070" filter="url(#b2)"/>
<rect x="470" y="436" width="30" height="11" rx="5.5" fill="#707070" filter="url(#b2)"/>
<rect x="434" y="439.5" width="30.5" height="8.1" rx="4.05" fill="#161616" filter="url(#b1)"/>
<rect x="471" y="439.5" width="29" height="8.1" rx="4.05" fill="#121212" filter="url(#b1)"/>
</g>
<clipPath id="cb13"><rect x="387" y="462.9" width="119.8" height="18.3"/></clipPath>
<g clip-path="url(#cb13)">
<rect x="387" y="462.9" width="119.8" height="18.3" fill="#cbcbcb"/>
<rect x="392.3" y="466.6" width="29.1" height="10" rx="5" fill="#0a0a0a" filter="url(#b1)"/>
<rect x="430.8" y="466.2" width="32.4" height="11" rx="5.5" fill="#0e0e0e" filter="url(#b1)"/>
<rect x="471" y="466.4" width="32.2" height="10.2" rx="5.1" fill="#0e0e0e" filter="url(#b1)"/>
</g>
<clipPath id="cb14"><rect x="387" y="491.5" width="119.8" height="18.6"/></clipPath>
<g clip-path="url(#cb14)">
<rect x="387" y="491.5" width="119.8" height="18.6" fill="#cfcfcf"/>
<rect x="392.3" y="495.4" width="33.9" height="8.2" rx="4.1" fill="#0a0a0a" filter="url(#b1)"/>
<rect x="430.8" y="495.4" width="35.5" height="8.2" rx="4.1" fill="#0a0a0a" filter="url(#b1)"/>
<rect x="471.6" y="495" width="33.3" height="8.4" rx="4.2" fill="#0a0a0a" filter="url(#b1)"/>
</g>
<text x="382.9" y="260.2" font-size="10.2" text-anchor="end" stroke="#000" stroke-width="0.22" textLength="33.8" lengthAdjust="spacingAndGlyphs">STAT5A</text>
<text x="384" y="281.4" font-size="10.2" text-anchor="end" stroke="#000" stroke-width="0.22">IGFBP3</text>
<text x="384.7" y="315.5" font-size="10.2" text-anchor="end" stroke="#000" stroke-width="0.22">Caspase-3</text>
<text x="385.5" y="380.3" font-size="10.2" text-anchor="end" stroke="#000" stroke-width="0.22">c-Caspase-3</text>
<text x="384.7" y="400.1" font-size="10.2" text-anchor="end" stroke="#000" stroke-width="0.22">Caspase-7</text>
<text x="385" y="427.6" font-size="10.2" text-anchor="end" stroke="#000" stroke-width="0.22">c-Caspase-7</text>
<text x="381" y="448" font-size="10.2" text-anchor="end" stroke="#000" stroke-width="0.22">BAX</text>
<text x="382.6" y="474.3" font-size="10.2" text-anchor="end" stroke="#000" stroke-width="0.22">BCL-2</text>
<text x="382.6" y="501.9" font-size="10.2" text-anchor="end" stroke="#000" stroke-width="0.22">GAPDH</text>
<text x="508" y="256.4" font-size="7" fill="#222" stroke="#222" stroke-width="0.22" textLength="21.5" lengthAdjust="spacingAndGlyphs">92 kDa</text>
<text x="508" y="278.6" font-size="7" fill="#222" stroke="#222" stroke-width="0.22" textLength="21.5" lengthAdjust="spacingAndGlyphs">29 kDa</text>
<text x="508" y="312.7" font-size="7" fill="#222" stroke="#222" stroke-width="0.22" textLength="21.5" lengthAdjust="spacingAndGlyphs">34 kDa</text>
<text x="508" y="377.6" font-size="7" fill="#222" stroke="#222" stroke-width="0.22" textLength="21.5" lengthAdjust="spacingAndGlyphs">22 kDa</text>
<text x="508" y="397.8" font-size="7" fill="#222" stroke="#222" stroke-width="0.22" textLength="21.5" lengthAdjust="spacingAndGlyphs">37 kDa</text>
<text x="508" y="426.7" font-size="7" fill="#222" stroke="#222" stroke-width="0.22" textLength="21.5" lengthAdjust="spacingAndGlyphs">25 kDa</text>
<text x="508" y="446.8" font-size="7" fill="#222" stroke="#222" stroke-width="0.22" textLength="21.5" lengthAdjust="spacingAndGlyphs">23 kDa</text>
<text x="508" y="474.1" font-size="7" fill="#222" stroke="#222" stroke-width="0.22" textLength="21.5" lengthAdjust="spacingAndGlyphs">26 kDa</text>
<text x="508" y="498.8" font-size="7" fill="#222" stroke="#222" stroke-width="0.22" textLength="21.5" lengthAdjust="spacingAndGlyphs">37 kDa</text>
<text x="402.5" y="265.2" font-size="7.2" fill="#222" stroke="#222" stroke-width="0.22" textLength="13" lengthAdjust="spacingAndGlyphs">0.73</text>
<text x="441.5" y="265.2" font-size="7.2" fill="#222" stroke="#222" stroke-width="0.22" textLength="13" lengthAdjust="spacingAndGlyphs">0.78</text>
<text x="481" y="265.2" font-size="7.2" fill="#222" stroke="#222" stroke-width="0.22" textLength="13" lengthAdjust="spacingAndGlyphs">0.61</text>
<text x="402.5" y="294" font-size="7.2" fill="#222" stroke="#222" stroke-width="0.22" textLength="13" lengthAdjust="spacingAndGlyphs">0.30</text>
<text x="441.5" y="294" font-size="7.2" fill="#222" stroke="#222" stroke-width="0.22" textLength="13" lengthAdjust="spacingAndGlyphs">0.49</text>
<text x="481" y="294" font-size="7.2" fill="#222" stroke="#222" stroke-width="0.22" textLength="13" lengthAdjust="spacingAndGlyphs">0.62</text>
<text x="402.5" y="460.3" font-size="7.2" fill="#222" stroke="#222" stroke-width="0.22" textLength="13" lengthAdjust="spacingAndGlyphs">0.11</text>
<text x="441.5" y="460.3" font-size="7.2" fill="#222" stroke="#222" stroke-width="0.22" textLength="13" lengthAdjust="spacingAndGlyphs">0.33</text>
<text x="481" y="460.3" font-size="7.2" fill="#222" stroke="#222" stroke-width="0.22" textLength="13" lengthAdjust="spacingAndGlyphs">0.51</text>
<text x="402.5" y="487.2" font-size="7.2" fill="#222" stroke="#222" stroke-width="0.22" textLength="13" lengthAdjust="spacingAndGlyphs">0.52</text>
<text x="441.5" y="487.2" font-size="7.2" fill="#222" stroke="#222" stroke-width="0.22" textLength="13" lengthAdjust="spacingAndGlyphs">0.62</text>
<text x="481" y="487.2" font-size="7.2" fill="#222" stroke="#222" stroke-width="0.22" textLength="13" lengthAdjust="spacingAndGlyphs">0.56</text>
<text x="402.5" y="517.8" font-size="7.2" fill="#222" stroke="#222" stroke-width="0.22" textLength="13" lengthAdjust="spacingAndGlyphs">1.00</text>
<text x="441.5" y="517.8" font-size="7.2" fill="#222" stroke="#222" stroke-width="0.22" textLength="13" lengthAdjust="spacingAndGlyphs">1.07</text>
<text x="481" y="517.8" font-size="7.2" fill="#222" stroke="#222" stroke-width="0.22" textLength="13" lengthAdjust="spacingAndGlyphs">1.02</text>
<path d="M58.2 853.9V558.5" stroke="#333" stroke-width="1.3" fill="none"/>
<path d="M58.2 555.5l-2.2 5.5h4.4z" fill="#222"/>
<path d="M57.6 853.4H340.5" stroke="#333" stroke-width="1.5" fill="none"/>
<path d="M344 853.4l-5.5 -2.3v4.6z" fill="#222"/>
<text x="50.2" y="701.8" font-size="15.5" text-anchor="middle" transform="rotate(-90 50.2 701.8)">PI</text>
<text x="212.7" y="869.6" font-size="15.5" text-anchor="middle" textLength="107" lengthAdjust="spacingAndGlyphs">Annexin V-FITC</text>
<g filter="url(#fb)">
<path d="M176 571.5h1m3 7h1m-48 4h1m40 0h1m19 0h1m-38 1h1m13 0h1m2 0h1m-32 1h1m3 0h1m16 1h1m5 0h1m-38 1h1m12 0h1m5 0h1m2 0h1m0 0h1m11 0h1m7 0h1m-52 1h1m10 0h1m25 0h1m19 0h1m0 0h1m-37 1h1m22 0h1m1 0h1m3 1h1m-74 1h1m51 0h1m10 0h1m2 0h1m3 0h1m-28 1h1m7 0h1m2 0h1m4 0h1m8 0h1m0 0h1m2 0h1m-76 1h1m56 0h1m4 0h1m-32 1h1m20 0h1m1 0h1m5 0h1m3 0h1m3 0h1m12 0h1m8 0h1m-45 1h1m0 0h1m1 0h1m8 0h1m3 0h1m0 0h1m2 0h1m1 0h1m0 0h1m2 0h1m21 0h1m-52 1h1m6 0h1m19 0h1m2 0h1m1 0h1m1 0h1m0 0h1m-98 1h1m51 0h1m12 0h1m3 0h1m6 0h1m19 0h1m1 0h1m-44 1h1m29 0h1m0 0h1m1 0h1m2 0h1m2 0h1m-89 1h1m57 0h1m0 0h1m4 0h1m0 0h1m1 0h1m4 0h1m2 0h1m5 0h1m3 0h1m-78 1h1m45 0h1m10 0h1m3 0h1m0 0h1m3 0h1m6 0h1m0 0h1m0 0h1m2 0h1m0 0h1m1 0h1m0 0h1m3 0h1m1 0h1m-73 1h1m31 0h1m4 0h1m12 0h1m7 0h1m1 0h1m1 0h1m7 0h1m4 0h1m-38 1h1m0 0h1m1 0h1m1 0h1m0 0h1m1 0h1m3 0h1m1 0h1m4 0h1m1 0h1m3 0h1m9 0h1m5 0h1m-48 1h1m1 0h1m0 0h1m5 0h1m6 0h1m5 0h1m9 0h1m6 0h1m-38 1h1m1 0h1m8 0h1m0 0h1m7 0h1m8 0h1m-42 1h1m2 0h1m8 0h1m2 0h1m2 0h1m0 0h1m4 0h1m1 0h1m3 0h1m0 0h1m1 0h1m3 0h1m2 0h1m1 0h1m0 0h1m15 0h1m7 0h1m-85 1h1m4 0h1m8 0h1m4 0h1m0 0h1m9 0h1m4 0h1m3 0h1m6 0h1m1 0h1m1 0h1m2 0h1m7 0h1m11 0h1m8 0h1m-57 1h1m8 0h1m1 0h1m3 0h1m0 0h1m4 0h1m0 0h1m5 0h1m1 0h1m4 0h1m6 0h1m11 0h1m2 0h1m-104 1h1m45 0h1m1 0h1m0 0h1m2 0h1m4 0h1m1 0h1m15 0h1m4 0h1m7 0h1m-72 1h1m17 0h1m14 0h1m14 0h1m9 0h1m4 0h1m5 0h1m7 0h1m3 0h1m1 0h1m-94 1h1m9 0h1m17 0h1m8 0h1m5 0h1m2 0h1m1 0h1m3 0h1m12 0h1m0 0h1m0 0h1m5 0h1m2 0h1m0 0h1m5 0h1m10 0h1m-65 1h1m8 0h1m11 0h1m19 0h1m2 0h1m3 0h1m1 0h1m6 0h1m1 0h1m0 0h1m5 0h1m-104 1h1m6 0h1m16 0h1m0 0h1m9 0h1m12 0h1m0 0h1m2 0h1m0 0h1m9 0h1m2 0h1m9 0h1m1 0h1m1 0h1m5 0h1m6 0h1m0 0h1m-74 1h1m9 0h1m7 0h1m6 0h1m1 0h1m7 0h1m2 0h1m4 0h1m5 0h1m2 0h1m3 0h1m0 0h1m5 0h1m0 0h1m5 0h1m-75 1h1m3 0h1m17 0h1m19 0h1m5 0h1m21 0h1m0 0h1m-53 1h1m7 0h1m0 0h1m2 0h1m1 0h1m2 0h1m1 0h1m0 0h1m2 0h1m5 0h1m7 0h1m4 0h1m1 0h1m3 0h1m6 0h1m-51 1h1m0 0h1m6 0h1m2 0h1m4 0h1m17 0h1m0 0h1m0 0h1m3 0h1m0 0h1m1 0h1m4 0h1m0 0h1m-81 1h1m15 0h1m5 0h1m4 0h1m16 0h1m20 0h1m12 0h1m4 0h1m-92 1h1m15 0h1m23 0h1m0 0h1m5 0h1m4 0h1m0 0h1m1 0h1m17 0h1m0 0h1m4 0h1m2 0h1m5 0h1m-98 1h1m19 0h1m38 0h1m2 0h1m3 0h1m17 0h1m0 0h1m3 0h1m19 0h1m-93 1h1m12 0h1m17 0h1m2 0h1m7 0h1m5 0h1m45 0h1m-72 1h1m9 0h1m0 0h1m3 0h1m1 0h1m0 0h1m8 0h1m14 0h1m1 0h1m4 0h1m0 0h1m0 0h1m0 0h1m0 0h1m1 0h1m0 0h1m-99 1h1m3 0h1m23 0h1m11 0h1m2 0h1m5 0h1m3 0h1m0 0h1m1 0h1m21 0h1m8 0h1m1 0h1m0 0h1m4 0h1m1 0h1m8 0h1m-101 1h1m14 0h1m14 0h1m13 0h1m24 0h1m7 0h1m6 0h1m2 0h1m1 0h1m1 0h1m6 0h1m8 0h1m-113 1h1m26 0h1m18 0h1m0 0h1m5 0h1m19 0h1m1 0h1m13 0h1m0 0h1m-85 1h1m18 0h1m22 0h1m4 0h1m6 0h1m16 0h1m2 0h1m1 0h1m4 0h1m5 0h1m10 0h1m4 0h1m-85 1h1m15 0h1m1 0h1m1 0h1m7 0h1m4 0h1m5 0h1m10 0h1m6 0h1m4 0h1m1 0h1m4 0h1m0 0h1m-87 1h1m9 0h1m3 0h1m5 0h1m1 0h1m1 0h1m1 0h1m1 0h1m8 0h1m4 0h1m27 0h1m5 0h1m1 0h1m0 0h1m3 0h1m7 0h1m0 0h1m8 0h1m-82 1h1m10 0h1m0 0h1m6 0h1m4 0h1m24 0h1m1 0h1m6 0h1m4 0h1m1 0h1m2 0h1m-77 1h1m7 0h1m2 0h1m5 0h1m3 0h1m5 0h1m2 0h1m28 0h1m0 0h1m0 0h1m5 0h1m0 0h1m3 0h1m-100 1h1m38 0h1m0 0h1m4 0h1m2 0h1m0 0h1m4 0h1m2 0h1m9 0h1m18 0h1m15 0h1m2 0h1m13 0h1m-106 1h1m6 0h1m3 0h1m15 0h1m10 0h1m5 0h1m26 0h1m0 0h1m2 0h1m2 0h1m5 0h1m0 0h1m1 0h1m-98 1h1m17 0h1m12 0h1m1 0h1m2 0h1m9 0h1m4 0h1m21 0h1m3 0h1m10 0h1m9 0h1m1 0h1m-106 1h1m18 0h1m9 0h1m1 0h1m1 0h1m5 0h1m13 0h1m17 0h1m6 0h1m4 0h1m0 0h1m7 0h1m3 0h1m0 0h1m14 0h1m-96 1h1m9 0h1m10 0h1m1 0h1m4 0h1m8 0h1m24 0h1m3 0h1m2 0h1m1 0h1m2 0h1m3 0h1m6 0h1m-80 1h1m0 0h1m4 0h1m6 0h1m6 0h1m10 0h1m20 0h1m10 0h1m0 0h1m0 0h1m0 0h1m2 0h1m18 0h1m-87 1h1m1 0h1m1 0h1m1 0h1m0 0h1m56 0h1m5 0h1m0 0h1m0 0h1m-93 1h1m5 0h1m1 0h1m1 0h1m9 0h1m3 0h1m10 0h1m15 0h1m9 0h1m12 0h1m8 0h1m5 0h1m6 0h1m0 0h1m-85 1h1m1 0h1m2 0h1m1 0h1m34 0h1m16 0h1m3 0h1m1 0h1m1 0h1m0 0h1m5 0h1m1 0h1m13 0h1m-98 1h1m4 0h1m11 0h1m27 0h1m10 0h1m1 0h1m1 0h1m19 0h1m-88 1h1m1 0h1m11 0h1m10 0h1m23 0h1m7 0h1m0 0h1m8 0h1m5 0h1m1 0h1m0 0h1m6 0h1m1 0h1m6 0h1m-93 1h1m14 0h1m1 0h1m3 0h1m37 0h1m0 0h1m6 0h1m23 0h1m1 0h1m0 0h1m-92 1h1m10 0h1m6 0h1m2 0h1m36 0h1m1 0h1m0 0h1m1 0h1m5 0h1m0 0h1m5 0h1m2 0h1m-84 1h1m8 0h1m2 0h1m49 0h1m0 0h1m10 0h1m13 0h1m-74 1h1m0 0h1m45 0h1m0 0h1m7 0h1m1 0h1m2 0h1m2 0h1m32 0h1m-104 1h1m2 0h1m48 0h1m6 0h1m0 0h1m1 0h1m6 0h1m7 0h1m16 0h1m-100 1h1m6 0h1m5 0h1m0 0h1m0 0h1m2 0h1m38 0h1m4 0h1m1 0h1m1 0h1m9 0h1m6 0h1m-89 1h1m13 0h1m2 0h1m45 0h1m0 0h1m1 0h1m5 0h1m2 0h1m3 0h1m3 0h1m3 0h1m0 0h1m-79 1h1m3 0h1m48 0h1m11 0h1m0 0h1m2 0h1m2 0h1m8 0h1m-80 1h1m1 0h1m53 0h1m2 0h1m11 0h1m18 0h1m-93 1h1m2 0h1m0 0h1m2 0h1m44 0h1m2 0h1m2 0h1m46 0h1m-118 1h1m13 0h1m5 0h1m42 0h1m2 0h1m0 0h1m5 0h1m13 0h1m20 0h1m-104 1h1m4 0h1m4 0h1m51 0h1m10 0h1m-82 1h1m67 0h1m5 0h1m5 0h1m-73 1h1m8 0h1m0 0h1m49 0h1m0 0h1m-57 1h1m57 0h1m3 0h1m1 0h1m5 0h1m-72 1h1m3 0h1m2 0h1m0 0h1m93 0h1m-110 1h1m2 0h1m5 0h1m0 0h1m1 0h1m49 0h1m1 0h1m0 0h1m1 0h1m10 0h1m19 0h1m-91 1h1m0 0h1m1 0h1m5 0h1m-16 1h1m10 0h1m2 0h1m0 0h1m43 0h1m3 0h1m1 0h1m-6 1h1m3 0h1m46 0h1m-107 1h1m0 0h1m3 0h1m52 0h1m-56 1h1m5 0h1m0 0h1m42 0h1m5 0h1m0 0h1m13 0h1m-82 1h1m7 0h1m9 0h1m0 0h1m45 0h1m-64 1h1m2 0h1m5 0h1m1 0h1m53 0h1m46 0h1m-111 1h1m4 0h1m6 0h1m42 0h1m6 0h1m-62 1h1m0 0h1m2 0h1m6 0h1m40 0h1m-50 1h1m11 0h1m-16 1h1m9 0h1m40 0h1m3 0h1m-50 1h1m1 0h1m7 0h1m35 0h1m0 0h1m8 0h1m-53 1h1m2 0h1m3 0h1m28 0h1m-40 1h1m2 0h1m10 0h1m0 0h1m0 0h1m0 0h1m0 0h1m22 0h1m-48 1h1m0 0h1m7 0h1m2 0h1m0 0h1m2 0h1m33 0h1m3 0h1m9 0h1m-70 1h1m2 0h1m0 0h1m7 0h1m1 0h1m6 0h1m0 0h1m2 0h1m0 0h1m0 0h1m20 0h1m1 0h1m3 0h1m0 0h1m0 0h1m1 0h1m2 0h1m6 0h1m-49 1h1m0 0h1m5 0h1m20 0h1m1 0h1m7 0h1m11 0h1m29 0h1m-103 1h1m15 0h1m0 0h1m2 0h1m0 0h1m0 0h1m0 0h1m6 0h1m6 0h1m9 0h1m3 0h1m5 0h1m16 0h1m-75 1h1m16 0h1m3 0h1m8 0h1m1 0h1m1 0h1m3 0h1m3 0h1m4 0h1m4 0h1m3 0h1m-57 1h1m29 0h1m4 0h1m13 0h1m1 0h1m11 0h1m54 0h1m-95 1h1m6 0h1m3 0h1m0 0h1m0 0h1m4 0h1m2 0h1m12 0h1m36 0h1m9 0h1m-108 1h1m8 0h1m18 0h1m1 0h1m4 0h1m21 0h1m1 0h1m2 0h1m24 0h1m-67 1h1m4 0h1m12 0h1m1 0h1m19 0h1m7 0h1m-62 1h1m18 0h1m0 0h1m13 0h1m17 0h1m-40 1h1m15 0h1m13 0h1m0 0h1m2 0h1m-24 1h1m6 0h1m9 0h1m1 0h1m4 0h1m-26 1h1m9 0h1m3 0h1m0 0h1m6 0h1m-28 1h1m23 0h1m11 0h1m-59 1h1m8 0h1m23 0h1m-31 1h1m13 0h1m8 0h1m23 0h1m20 0h1m-59 1h1m4 0h1m13 0h1m5 0h1m9 0h1m-34 1h1m22 0h1m-27 1h1m44 2h1" stroke="rgb(150,150,255)" stroke-width="1" fill="none" stroke-opacity="0.7"/>
<path d="M171 599.5h1m-19 2h1m2 0h1m19 0h1m-27 2h1m25 0h1m-19 1h1m6 0h1m-12 1h1m13 1h1m-10 1h1m6 0h1m5 0h1m-19 1h1m1 0h1m0 0h1m6 0h1m2 0h1m0 0h1m5 0h1m0 0h1m-20 1h1m0 0h1m4 0h1m0 0h1m2 0h1m0 0h1m-15 1h1m2 0h1m0 0h1m0 0h1m2 0h1m2 0h1m0 0h1m0 0h1m-15 1h1m2 0h1m10 0h1m10 0h1m-28 1h1m8 0h1m5 0h1m-15 1h1m8 0h1m5 0h1m-13 1h1m2 0h1m5 0h1m0 0h1m0 0h1m0 0h1m-12 1h1m1 0h1m0 0h1m0 0h1m0 0h1m1 0h1m2 0h1m1 0h1m-16 1h1m4 0h1m0 0h1m1 0h1m1 0h1m0 0h1m0 0h1m0 0h1m0 0h1m10 0h1m-21 1h1m0 0h1m1 0h1m0 0h1m1 0h1m0 0h1m0 0h1m0 0h1m0 0h1m0 0h1m-10 1h1m0 0h1m1 0h1m0 0h1m4 0h1m3 0h1m6 0h1m-28 1h1m4 0h1m1 0h1m2 0h1m0 0h1m0 0h1m1 0h1m0 0h1m-17 1h1m0 0h1m1 0h1m3 0h1m0 0h1m6 0h1m0 0h1m0 0h1m0 0h1m0 0h1m-24 1h1m1 0h1m0 0h1m7 0h1m1 0h1m1 0h1m0 0h1m5 0h1m2 0h1m-23 1h1m0 0h1m0 0h1m0 0h1m0 0h1m0 0h1m0 0h1m0 0h1m9 0h1m11 0h1m-35 1h1m0 0h1m3 0h1m1 0h1m0 0h1m0 0h1m1 0h1m0 0h1m0 0h1m0 0h1m12 0h1m0 0h1m-31 1h1m14 0h1m1 0h1m1 0h1m3 0h1m-25 1h1m0 0h1m0 0h1m0 0h1m3 0h1m0 0h1m0 0h1m2 0h1m0 0h1m0 0h1m0 0h1m1 0h1m8 0h1m11 0h1m-38 1h1m1 0h1m4 0h1m0 0h1m1 0h1m2 0h1m3 0h1m0 0h1m4 0h1m-24 1h1m2 0h1m2 0h1m1 0h1m1 0h1m1 0h1m2 0h1m0 0h1m0 0h1m1 0h1m0 0h1m0 0h1m4 0h1m-27 1h1m0 0h1m1 0h1m2 0h1m0 0h1m0 0h1m3 0h1m1 0h1m1 0h1m0 0h1m1 0h1m1 0h1m-30 1h1m6 0h1m0 0h1m2 0h1m1 0h1m1 0h1m2 0h1m0 0h1m0 0h1m1 0h1m0 0h1m2 0h1m-21 1h1m3 0h1m0 0h1m-17 1h1m4 0h1m3 0h1m1 0h1m1 0h1m1 0h1m1 0h1m2 0h1m0 0h1m5 0h1m-31 1h1m0 0h1m0 0h1m0 0h1m0 0h1m0 0h1m9 0h1m1 0h1m0 0h1m0 0h1m0 0h1m1 0h1m1 0h1m1 0h1m0 0h1m2 0h1m2 0h1m-48 1h1m1 0h1m0 0h1m1 0h1m8 0h1m0 0h1m1 0h1m0 0h1m1 0h1m3 0h1m0 0h1m3 0h1m0 0h1m0 0h1m8 0h1m0 0h1m-40 1h1m5 0h1m4 0h1m0 0h1m1 0h1m0 0h1m0 0h1m0 0h1m3 0h1m1 0h1m1 0h1m0 0h1m1 0h1m1 0h1m0 0h1m3 0h1m3 0h1m-38 1h1m0 0h1m4 0h1m2 0h1m3 0h1m0 0h1m3 0h1m3 0h1m0 0h1m1 0h1m1 0h1m1 0h1m1 0h1m0 0h1m2 0h1m0 0h1m0 0h1m0 0h1m-44 1h1m2 0h1m8 0h1m0 0h1m1 0h1m0 0h1m1 0h1m0 0h1m3 0h1m0 0h1m4 0h1m0 0h1m2 0h1m2 0h1m2 0h1m0 0h1m2 0h1m-48 1h1m0 0h1m0 0h1m4 0h1m0 0h1m1 0h1m2 0h1m0 0h1m0 0h1m1 0h1m5 0h1m2 0h1m2 0h1m1 0h1m10 0h1m3 0h1m0 0h1m-48 1h1m3 0h1m0 0h1m2 0h1m0 0h1m0 0h1m1 0h1m1 0h1m0 0h1m0 0h1m2 0h1m0 0h1m2 0h1m3 0h1m6 0h1m1 0h1m1 0h1m0 0h1m5 0h1m-42 1h1m0 0h1m1 0h1m1 0h1m2 0h1m0 0h1m3 0h1m1 0h1m1 0h1m0 0h1m0 0h1m1 0h1m1 0h1m0 0h1m0 0h1m19 0h1m-48 1h1m1 0h1m2 0h1m0 0h1m0 0h1m0 0h1m5 0h1m7 0h1m0 0h1m2 0h1m4 0h1m-32 1h1m2 0h1m0 0h1m1 0h1m7 0h1m0 0h1m5 0h1m2 0h1m0 0h1m4 0h1m9 0h1m1 0h1m-46 1h1m7 0h1m16 0h1m3 0h1m1 0h1m0 0h1m0 0h1m0 0h1m12 0h1m-46 1h1m0 0h1m1 0h1m21 0h1m1 0h1m2 0h1m1 0h1m10 0h1m0 0h1m-49 1h1m0 0h1m0 0h1m1 0h1m0 0h1m0 0h1m0 0h1m23 0h1m0 0h1m1 0h1m0 0h1m0 0h1m1 0h1m0 0h1m-40 1h1m2 0h1m0 0h1m1 0h1m26 0h1m0 0h1m0 0h1m0 0h1m0 0h1m0 0h1m-41 1h1m5 0h1m26 0h1m0 0h1m3 0h1m0 0h1m-44 1h1m0 0h1m3 0h1m1 0h1m0 0h1m28 0h1m0 0h1m0 0h1m2 0h1m0 0h1m5 0h1m-50 1h1m5 0h1m1 0h1m0 0h1m0 0h1m31 0h1m1 0h1m1 0h1m0 0h1m-43 1h1m2 0h1m31 0h1m-40 1h1m1 0h1m0 0h1m1 0h1m0 0h1m0 0h1m0 0h1m31 0h1m-39 1h1m2 0h1m1 0h1m31 0h1m0 0h1m1 0h1m-39 1h1m33 0h1m6 0h1m-45 1h1m1 0h1m0 0h1m0 0h1m0 0h1m0 0h1m33 0h1m-44 1h1m2 0h1m2 0h1m35 0h1m0 0h1m0 0h1m1 0h1m0 0h1m1 0h1m-46 1h1m2 0h1m1 0h1m33 0h1m-41 1h1m0 0h1m0 0h1m4 0h1m30 0h1m2 0h1m1 0h1m1 0h1m-48 1h1m2 0h1m1 0h1m1 0h1m30 0h1m0 0h1m1 0h1m0 0h1m3 0h1m0 0h1m-46 1h1m1 0h1m34 0h1m2 0h1m0 0h1m-6 1h1m0 0h1m1 0h1m0 0h1m0 0h1m-38 1h1m0 0h1m29 0h1m1 0h1m1 0h1m1 0h1m0 0h1m-41 1h1m1 0h1m1 0h1m0 0h1m25 0h1m3 0h1m0 0h1m1 0h1m-39 1h1m1 0h1m0 0h1m27 0h1m1 0h1m0 0h1m1 0h1m0 0h1m0 0h1m-39 1h1m0 0h1m0 0h1m27 0h1m0 0h1m5 0h1m0 0h1m0 0h1m-40 1h1m1 0h1m1 0h1m28 0h1m-37 1h1m0 0h1m2 0h1m1 0h1m0 0h1m0 0h1m1 0h1m1 0h1m24 0h1m0 0h1m0 0h1m2 0h1m-43 1h1m0 0h1m6 0h1m0 0h1m3 0h1m18 0h1m0 0h1m0 0h1m1 0h1m0 0h1m0 0h1m0 0h1m2 0h1m-36 1h1m0 0h1m4 0h1m0 0h1m14 0h1m2 0h1m1 0h1m0 0h1m2 0h1m-34 1h1m0 0h1m1 0h1m4 0h1m0 0h1m5 0h1m5 0h1m3 0h1m0 0h1m1 0h1m1 0h1m-29 1h1m2 0h1m2 0h1m0 0h1m6 0h1m2 0h1m2 0h1m2 0h1m-14 1h1m1 0h1m0 0h1m0 0h1m0 0h1m7 0h1m1 0h1m-27 1h1m8 0h1m0 0h1m0 0h1m3 0h1m2 0h1m0 0h1m0 0h1m3 0h1m-17 1h1m2 0h1m0 0h1m6 0h1m0 0h1m0 0h1m0 0h1m-14 1h1m0 0h1m2 0h1m0 0h1m0 0h1m0 0h1m2 0h1m0 0h1m-11 1h1m3 0h1m0 0h1m1 0h1m0 0h1m-3 1h1m-10 1h1m7 1h1" stroke="rgb(105,105,255)" stroke-width="1" fill="none" stroke-opacity="0.8"/>
<path d="M158 625.5h1m-1 1h1m-40 13h1m2 0h1m0 0h1m-11 1h1m5 0h1m5 0h1m1 0h1m-13 1h1m1 0h1m1 0h1m1 0h1m0 0h1m4 0h1m1 0h1m0 0h1m-15 1h1m0 0h1m0 0h1m1 0h1m2 0h1m0 0h1m0 0h1m1 0h1m2 0h1m0 0h1m-16 1h1m4 0h1m4 0h1m2 0h1m1 0h1m0 0h1m0 0h1m3 0h1m-25 1h1m0 0h1m15 0h1m0 0h1m2 0h1m-22 1h1m17 0h1m0 0h1m0 0h1m0 0h1m0 0h1m0 0h1m-31 1h1m1 0h1m2 0h1m0 0h1m18 0h1m0 0h1m0 0h1m0 0h1m4 0h1m0 0h1m-30 1h1m0 0h1m21 0h1m5 0h1m-30 1h1m0 0h1m22 0h1m1 0h1m1 0h1m0 0h1m-31 1h1m1 0h1m22 0h1m0 0h1m0 0h1m4 0h1m0 0h1m-34 1h1m23 0h1m0 0h1m0 0h1m0 0h1m1 0h1m-32 1h1m0 0h1m0 0h1m0 0h1m0 0h1m21 0h1m1 0h1m1 0h1m-33 1h1m1 0h1m1 0h1m23 0h1m0 0h1m-28 1h1m0 0h1m26 0h1m1 0h1m1 0h1m-33 1h1m0 0h1m26 0h1m1 0h1m0 0h1m-34 1h1m1 0h1m26 0h1m1 0h1m0 0h1m1 0h1m-35 1h1m7 0h1m21 0h1m-34 1h1m1 0h1m1 0h1m0 0h1m0 0h1m1 0h1m22 0h1m0 0h1m3 0h1m-34 1h1m26 0h1m2 0h1m-31 1h1m1 0h1m0 0h1m0 0h1m23 0h1m0 0h1m-28 1h1m0 0h1m1 0h1m0 0h1m0 0h1m-3 1h1m-4 1h1m2 0h1m4 0h1m15 0h1m0 0h1m-26 1h1m1 0h1m0 0h1m0 0h1m6 0h1m0 0h1m-15 1h1m2 0h1m9 0h1m12 0h1m0 0h1m-25 1h1m3 0h1m1 0h1m0 0h1m11 0h1m1 0h1m0 0h1m1 0h1m0 0h1m-18 1h1m0 0h1m1 0h1m0 0h1m4 0h1m1 0h1m1 0h1m0 0h1m-16 1h1m2 0h1m0 0h1m3 0h1m2 0h1m0 0h1m-14 1h1m0 0h1m0 0h1m0 0h1m0 0h1m1 0h1m1 0h1m0 0h1m0 0h1m-10 1h1m0 0h1m0 0h1m3 0h1m2 0h1m0 0h1m1 0h1m0 0h1m-7 1h1m0 0h1m0 0h1m-3 1h1" stroke="rgb(60,60,250)" stroke-width="1" fill="none" stroke-opacity="0.9"/>
<path d="M123 640.5h1m-4 1h1m-2 1h1m1 0h1m-4 1h1m4 0h1m4 0h1m1 0h1m-13 1h1m2 0h1m2 0h1m8 0h1m-20 1h1m9 0h1m3 0h1m0 0h1m-17 1h1m2 0h1m0 0h1m10 0h1m-16 1h1m1 0h1m11 0h1m4 0h1m-6 1h1m-17 1h1m1 0h1m4 0h1m12 0h1m0 0h1m1 0h1m-26 1h1m23 0h1m-25 2h1m1 0h1m1 0h1m-3 1h1m22 0h1m0 0h1m-3 1h1m3 0h1m-29 1h1m23 0h1m0 0h1m1 0h1m2 0h1m-8 1h1m4 0h1m0 0h1m-3 1h1m-6 1h1m-21 1h1m20 0h1m-23 1h1m3 0h1m17 0h1m-24 1h1m2 0h1m0 0h1m2 0h1m-7 1h1m7 0h1m3 0h1m5 0h1m-16 1h1m0 0h1m0 0h1m14 0h1m1 0h1m-23 1h1m2 0h1m2 0h1m0 0h1m3 0h1m0 0h1m0 0h1m-7 1h1m2 0h1m0 0h1m0 0h1m2 0h1m3 0h1m-8 1h1m0 0h1m-6 1h1m3 0h1m0 0h1m1 0h1m0 0h1m2 1h1" stroke="rgb(30,110,255)" stroke-width="1" fill="none"/>
<path d="M128 642.5h1m-10 1h1m7 0h1m-9 1h1m0 0h1m4 0h1m0 0h1m1 0h1m3 0h1m-17 1h1m0 0h1m7 0h1m0 0h1m-8 1h1m0 0h1m4 0h1m-12 1h1m4 0h1m9 0h1m0 0h1m0 0h1m-18 1h1m17 0h1m1 0h1m-24 2h1m2 0h1m16 0h1m0 0h1m-20 1h1m1 0h1m13 0h1m-18 1h1m3 0h1m0 0h1m11 0h1m2 0h1m0 0h1m3 0h1m-26 1h1m20 0h1m-22 1h1m22 0h1m-25 2h1m19 0h1m-20 1h1m1 0h1m0 0h1m13 0h1m1 0h1m1 0h1m-24 1h1m3 0h1m17 0h1m1 0h1m-22 1h1m3 0h1m13 0h1m-16 1h1m14 0h1m-15 1h1m10 0h1m-17 1h1m1 0h1m0 0h1m1 0h1m12 0h1m-15 1h1m4 0h1m4 0h1m0 0h1m0 0h1m0 0h1m-12 1h1m6 0h1m-8 1h1m0 0h1m3 0h1m3 0h1m-12 1h1m2 0h1m4 0h1m0 0h1m1 0h1m-7 1h1" stroke="rgb(0,180,240)" stroke-width="1" fill="none"/>
<path d="M120 643.5h1m1 0h1m-6 1h1m5 0h1m3 0h1m1 0h1m-9 1h1m8 0h1m-16 1h1m2 0h1m4 0h1m2 0h1m3 0h1m-10 1h1m0 0h1m0 0h1m4 0h1m-16 1h1m1 0h1m2 0h1m0 0h1m4 0h1m0 0h1m3 0h1m-15 1h1m13 0h1m3 0h1m-22 1h1m0 0h1m1 0h1m0 0h1m1 0h1m-5 1h1m9 0h1m6 0h1m0 0h1m0 0h1m-20 1h1m3 0h1m3 0h1m13 0h1m-27 1h1m4 0h1m13 0h1m1 0h1m0 0h1m-22 1h1m1 0h1m0 0h1m1 0h1m14 0h1m-22 1h1m0 0h1m0 0h1m0 0h1m17 0h1m-20 1h1m0 0h1m19 0h1m0 0h1m-5 1h1m-20 1h1m0 0h1m4 0h1m12 0h1m-19 1h1m2 0h1m0 0h1m2 0h1m5 0h1m-7 1h1m1 0h1m-8 1h1m3 0h1m0 0h1m4 0h1m0 0h1m5 0h1m-13 1h1m0 0h1m4 0h1m-11 2h1m4 0h1m7 0h1m-3 1h1" stroke="rgb(0,210,160)" stroke-width="1" fill="none"/>
<path d="M124 643.5h1m-3 1h1m-5 1h1m0 0h1m0 0h1m1 0h1m4 0h1m-7 1h1m2 0h1m2 0h1m1 0h1m-14 1h1m0 0h1m0 0h1m1 0h1m4 0h1m0 0h1m-10 1h1m2 0h1m0 0h1m0 0h1m5 0h1m-15 1h1m2 0h1m2 0h1m0 0h1m0 0h1m0 0h1m0 0h1m1 0h1m0 0h1m0 0h1m-10 1h1m1 0h1m0 0h1m0 0h1m0 0h1m0 0h1m1 0h1m0 0h1m0 0h1m0 0h1m-14 1h1m8 0h1m0 0h1m0 0h1m-14 1h1m9 0h1m4 0h1m0 0h1m-19 1h1m0 0h1m1 0h1m0 0h1m8 0h1m3 0h1m-16 1h1m2 0h1m0 0h1m0 0h1m6 0h1m2 0h1m1 0h1m-19 1h1m3 0h1m0 0h1m8 0h1m0 0h1m-14 1h1m0 0h1m1 0h1m5 0h1m2 0h1m-16 1h1m3 0h1m2 0h1m3 0h1m3 0h1m-14 1h1m0 0h1m1 0h1m5 0h1m4 0h1m-12 1h1m1 0h1m5 0h1m3 0h1m-16 1h1m1 0h1m0 0h1m3 0h1m0 0h1m3 0h1m1 0h1m0 0h1m-16 1h1m4 0h1m2 0h1m3 0h1m-7 1h1m1 0h1m0 0h1m1 0h1m0 0h1m1 0h1m-13 1h1m4 0h1m0 0h1m1 0h1m-2 1h1m2 0h1m-4 1h1m4 1h1" stroke="rgb(50,210,50)" stroke-width="1" fill="none"/>
<path d="M124 647.5h1m-9 1h1m6 0h1m2 0h1m3 0h1m-15 1h1m3 1h1m5 0h1m-6 1h1m1 0h1m1 0h1m4 0h1m-11 1h1m0 0h1m6 0h1m-9 1h1m0 0h1m5 0h1m-11 1h1m8 0h1m-11 1h1m13 0h1m-16 1h1m10 0h1m2 0h1m-14 1h1m2 0h1m5 0h1m1 1h1m0 0h1m-6 1h1m3 0h1m0 0h1m0 0h1m-10 1h1m3 0h1m0 0h1m0 0h1m-6 1h1m4 0h1m2 0h1m-6 2h1" stroke="rgb(170,220,0)" stroke-width="1" fill="none"/>
<path d="M118 651.5h1m0 0h1m2 0h1m3 1h1m0 0h1m-7 2h1m1 0h1m4 0h1m0 0h1m-15 1h1m1 0h1m7 0h1m1 0h1m-10 1h1m5 0h1m2 0h1m-10 1h1m0 1h1m1 1h1m0 0h1" stroke="rgb(255,160,0)" stroke-width="1" fill="none"/>
<path d="M116 651.5h1m3 0h1m-2 1h1m3 0h1m0 0h1m-7 1h1m0 0h1m2 0h1m0 0h1m0 0h1m0 0h1m2 0h1m-7 1h1m1 0h1m0 0h1m-6 1h1m0 0h1m0 0h1m0 0h1m0 0h1m1 0h1m-7 1h1m0 0h1m0 0h1m0 0h1m-3 1h1m0 0h1m0 0h1m2 0h1m0 0h1m-8 1h1m0 0h1m0 0h1m0 0h1m1 0h1m0 0h1m-3 1h1" stroke="rgb(235,50,0)" stroke-width="1" fill="none"/>
</g>
<rect x="76.5" y="566.2" width="127.1" height="126.4" fill="none" stroke="#b4b4b4" stroke-width="1"/>
<path d="M146.3 566.2V692.6" stroke="#444" stroke-width="1.2"/>
<path d="M76.5 634.3H203.6" stroke="#222" stroke-width="1.1"/>
<text x="131" y="560" font-size="12" text-anchor="middle" stroke="#000" stroke-width="0.14" textLength="28" lengthAdjust="spacingAndGlyphs">siNC</text>
<text x="78.9" y="580.2" font-size="11.2" stroke="#000" stroke-width="0.14" textLength="15.4" lengthAdjust="spacingAndGlyphs">Q1</text>
<text x="79.3" y="592" font-size="11.2" stroke="#000" stroke-width="0.14" textLength="23.2" lengthAdjust="spacingAndGlyphs">1.97</text>
<text x="200.2" y="580.2" font-size="11.2" text-anchor="end" stroke="#000" stroke-width="0.14" textLength="15.4" lengthAdjust="spacingAndGlyphs">Q2</text>
<text x="200.2" y="592" font-size="11.2" text-anchor="end" stroke="#000" stroke-width="0.14" textLength="23.2" lengthAdjust="spacingAndGlyphs">6.55</text>
<text x="78.9" y="682.2" font-size="11.2" stroke="#000" stroke-width="0.14" textLength="15.4" lengthAdjust="spacingAndGlyphs">Q4</text>
<text x="79.3" y="691.8" font-size="11.2" stroke="#000" stroke-width="0.14" textLength="23.2" lengthAdjust="spacingAndGlyphs">87.2</text>
<text x="200.2" y="682.2" font-size="11.2" text-anchor="end" stroke="#000" stroke-width="0.14" textLength="15.4" lengthAdjust="spacingAndGlyphs">Q3</text>
<text x="200.2" y="691.8" font-size="11.2" text-anchor="end" stroke="#000" stroke-width="0.14" textLength="23.2" lengthAdjust="spacingAndGlyphs">4.32</text>
<path d="M76.5 566.2h-2.5M76.5 597.8h-2.5M76.5 629.4h-2.5M76.5 661h-2.5M76.5 692.6h-2.5" stroke="#888" stroke-width="0.8"/>
<g filter="url(#fb)">
<path d="M314 572.5h1m18 2h1m-12 6h1m-1 2h1m-23 1h1m22 0h1m-21 1h1m3 0h1m1 0h1m13 0h1m-25 1h1m-19 1h1m20 0h1m1 0h1m13 0h1m12 0h1m-30 1h1m12 0h1m8 0h1m0 0h1m-80 1h1m29 0h1m19 0h1m14 0h1m3 0h1m14 0h1m-30 1h1m6 0h1m27 0h1m-16 1h1m0 0h1m7 0h1m-37 1h1m37 0h1m0 0h1m-43 1h1m14 0h1m0 0h1m1 0h1m1 0h1m15 0h1m7 0h1m-34 1h1m1 0h1m5 0h1m0 0h1m6 0h1m9 0h1m-33 1h1m6 0h1m3 0h1m26 0h1m1 0h1m-39 1h1m0 0h1m9 0h1m0 0h1m0 0h1m1 0h1m9 0h1m1 0h1m11 0h1m-33 1h1m2 0h1m10 0h1m9 0h1m1 0h1m1 0h1m1 0h1m2 0h1m1 0h1m-96 1h1m9 0h1m43 0h1m0 0h1m6 0h1m2 0h1m9 0h1m0 0h1m2 0h1m0 0h1m6 0h1m-69 1h1m26 0h1m10 0h1m5 0h1m1 0h1m4 0h1m4 0h1m11 0h1m-61 1h1m12 0h1m3 0h1m4 0h1m10 0h1m15 0h1m3 0h1m0 0h1m3 0h1m3 0h1m1 0h1m0 0h1m-52 1h1m0 0h1m2 0h1m11 0h1m0 0h1m2 0h1m14 0h1m1 0h1m3 0h1m1 0h1m0 0h1m2 0h1m2 0h1m-57 1h1m5 0h1m19 0h1m12 0h1m0 0h1m6 0h1m9 0h1m-64 1h1m7 0h1m0 0h1m15 0h1m1 0h1m1 0h1m2 0h1m6 0h1m4 0h1m-93 1h1m67 0h1m0 0h1m1 0h1m3 0h1m0 0h1m2 0h1m0 0h1m1 0h1m5 0h1m2 0h1m1 0h1m0 0h1m16 0h1m-44 1h1m2 0h1m8 0h1m3 0h1m1 0h1m5 0h1m22 0h1m-75 1h1m12 0h1m4 0h1m12 0h1m1 0h1m0 0h1m1 0h1m6 0h1m6 0h1m-46 1h1m20 0h1m1 0h1m9 0h1m0 0h1m7 0h1m25 0h1m-109 1h1m47 0h1m17 0h1m4 0h1m1 0h1m3 0h1m24 0h1m0 0h1m-55 1h1m12 0h1m0 0h1m0 0h1m2 0h1m3 0h1m7 0h1m-60 1h1m13 0h1m24 0h1m9 0h1m5 0h1m29 0h1m1 0h1m0 0h1m-43 1h1m33 0h1m-57 1h1m8 0h1m13 0h1m1 0h1m26 0h1m4 0h1m3 0h1m-58 1h1m6 0h1m0 0h1m7 0h1m2 0h1m31 0h1m9 0h1m0 0h1m-61 1h1m1 0h1m5 0h1m2 0h1m0 0h1m2 0h1m0 0h1m2 0h1m1 0h1m25 0h1m3 0h1m4 0h1m-49 1h1m0 0h1m-7 1h1m0 0h1m5 0h1m4 0h1m30 0h1m2 0h1m-54 1h1m4 0h1m50 0h1m-72 1h1m0 0h1m58 0h1m2 0h1m-68 1h1m6 0h1m7 0h1m3 0h1m-13 1h1m0 0h1m5 0h1m3 0h1m0 0h1m5 0h1m0 0h1m42 0h1m-99 1h1m11 0h1m15 0h1m16 0h1m3 0h1m3 0h1m1 0h1m-39 1h1m7 0h1m11 0h1m3 0h1m1 0h1m0 0h1m3 0h1m11 0h1m35 0h1m-70 1h1m6 0h1m1 0h1m8 0h1m3 0h1m1 0h1m-30 1h1m5 0h1m15 0h1m50 0h1m-82 1h1m7 0h1m26 0h1m35 0h1m6 0h1m-98 1h1m26 0h1m14 0h1m4 0h1m0 0h1m0 0h1m4 0h1m34 0h1m-78 1h1m7 0h1m5 0h1m11 0h1m8 0h1m42 0h1m4 0h1m-81 1h1m20 0h1m0 0h1m0 0h1m1 0h1m4 0h1m4 0h1m3 0h1m33 0h1m1 0h1m-97 1h1m12 0h1m10 0h1m10 0h1m10 0h1m47 0h1m-79 1h1m22 0h1m45 0h1m17 0h1m-72 1h1m3 0h1m1 0h1m47 0h1m-71 1h1m4 0h1m4 0h1m5 0h1m51 0h1m4 0h1m2 0h1m4 0h1m-80 1h1m1 0h1m10 0h1m48 0h1m3 0h1m0 0h1m3 0h1m1 0h1m1 0h1m3 0h1m0 0h1m-82 1h1m11 0h1m52 0h1m0 0h1m6 0h1m-86 1h1m8 0h1m8 0h1m6 0h1m52 0h1m25 0h1m-106 1h1m16 0h1m4 0h1m0 0h1m5 0h1m43 0h1m5 0h1m2 0h1m-83 1h1m7 0h1m8 0h1m1 0h1m8 0h1m42 0h1m-79 1h1m5 0h1m9 0h1m1 0h1m6 0h1m0 0h1m5 0h1m50 0h1m0 0h1m16 0h1m24 0h1m-124 1h1m3 0h1m107 0h1m-93 1h1m4 0h1m51 0h1m2 0h1m1 0h1m4 0h1m5 0h1m23 0h1m-99 1h1m1 0h1m2 0h1m48 0h1m11 0h1m-68 1h1m56 0h1m0 0h1m-64 1h1m5 0h1m0 0h1m2 0h1m51 0h1m22 0h1m3 0h1m-88 1h1m2 0h1m55 0h1m0 0h1m0 0h1m19 0h1m-95 1h1m1 0h1m7 0h1m2 0h1m1 0h1m70 0h1m-79 1h1m2 0h1m0 0h1m2 0h1m1 0h1m0 0h1m51 0h1m22 0h1m-16 1h1m-73 1h1m2 0h1m2 0h1m58 0h1m8 0h1m8 0h1m0 0h1m-94 1h1m3 0h1m4 0h1m3 0h1m0 0h1m0 0h1m4 0h1m53 0h1m2 0h1m0 0h1m2 0h1m2 0h1m8 0h1m-91 1h1m2 0h1m9 0h1m4 0h1m49 0h1m0 0h1m11 0h1m-83 1h1m72 0h1m0 0h1m-71 1h1m4 0h1m56 0h1m6 0h1m7 0h1m-79 1h1m10 0h1m68 0h1m9 0h1m-84 1h1m3 0h1m49 0h1m13 0h1m-83 1h1m15 0h1m46 0h1m1 0h1m2 0h1m6 0h1m-63 1h1m0 0h1m1 0h1m0 0h1m-7 1h1m4 0h1m0 0h1m3 0h1m43 0h1m21 0h1m-80 1h1m1 0h1m3 0h1m6 0h1m39 0h1m2 0h1m43 0h1m-107 1h1m2 0h1m7 0h1m2 0h1m8 0h1m39 0h1m4 0h1m0 0h1m2 0h1m0 0h1m-55 1h1m35 0h1m13 0h1m-72 1h1m0 0h1m9 0h1m3 0h1m0 0h1m47 0h1m1 0h1m7 0h1m9 0h1m-82 1h1m4 0h1m8 0h1m38 0h1m20 0h1m12 0h1m-85 1h1m10 0h1m7 0h1m23 0h1m2 0h1m1 0h1m0 0h1m14 0h1m-56 1h1m2 0h1m1 0h1m0 0h1m1 0h1m29 0h1m5 0h1m7 0h1m1 0h1m7 0h1m-66 1h1m1 0h1m8 0h1m34 0h1m61 0h1m-117 1h1m9 0h1m20 0h1m5 0h1m7 0h1m1 0h1m3 0h1m12 0h1m4 0h1m-66 1h1m4 0h1m1 0h1m1 0h1m3 0h1m0 0h1m0 0h1m2 0h1m0 0h1m16 0h1m3 0h1m1 0h1m2 0h1m-47 1h1m19 0h1m4 0h1m1 0h1m2 0h1m0 0h1m5 0h1m1 0h1m6 0h1m6 0h1m4 0h1m-58 1h1m5 0h1m11 0h1m0 0h1m0 0h1m6 0h1m0 0h1m10 0h1m-39 1h1m16 0h1m1 0h1m3 0h1m4 0h1m-28 1h1m0 0h1m2 0h1m13 0h1m2 0h1m5 0h1m3 0h1m4 0h1m19 0h1m-59 1h1m2 0h1m4 0h1m7 0h1m7 0h1m0 0h1m2 0h1m-26 1h1m2 0h1m2 0h1m13 0h1m3 0h1m1 0h1m3 0h1m10 0h1m-37 1h1m20 0h1m1 0h1m4 0h1m6 0h1m4 0h1m2 0h1m27 0h1m-73 1h1m9 0h1m9 0h1m0 0h1m1 0h1m15 0h1m5 0h1m38 0h1m-73 1h1m4 0h1m14 0h1m14 0h1m-49 1h1m6 0h1m18 0h1m2 0h1m65 0h1m-91 1h1m54 0h1m-46 1h1m1 0h1m5 0h1m-19 1h1m13 0h1m5 0h1m75 0h1m-83 1h1m-23 2h1m3 0h1m1 0h1m0 1h1m52 1h1m-51 1h1m38 0h1m-11 1h1m-4 1h1m-13 1h1" stroke="rgb(150,150,255)" stroke-width="1" fill="none" stroke-opacity="0.7"/>
<path d="M324 598.5h1m6 2h1m-1 1h1m3 0h1m-9 1h1m4 0h1m0 0h1m0 0h1m0 0h1m0 0h1m-12 1h1m0 0h1m1 0h1m1 0h1m0 0h1m1 0h1m0 0h1m-19 1h1m5 0h1m1 0h1m0 0h1m0 0h1m4 0h1m0 0h1m0 0h1m0 0h1m-17 1h1m3 0h1m0 0h1m3 0h1m0 0h1m1 0h1m1 0h1m0 0h1m0 0h1m0 0h1m-28 1h1m4 0h1m3 0h1m3 0h1m0 0h1m3 0h1m0 0h1m4 0h1m1 0h1m-29 1h1m8 0h1m11 0h1m0 0h1m0 0h1m0 0h1m1 0h1m-27 1h1m6 0h1m2 0h1m11 0h1m-23 2h1m4 0h1m0 0h1m0 0h1m1 0h1m10 0h1m2 0h1m-27 2h1m1 0h1m2 0h1m1 0h1m0 0h1m14 0h1m-3 1h1m-27 1h1m2 0h1m1 0h1m2 0h1m17 0h1m-31 1h1m5 0h1m3 0h1m18 0h1m0 0h1m0 0h1m-33 1h1m4 0h1m0 0h1m20 0h1m2 0h1m-33 1h1m1 0h1m1 0h1m1 0h1m1 0h1m2 0h1m-17 1h1m0 0h1m2 0h1m1 0h1m0 0h1m2 0h1m0 0h1m2 0h1m18 0h1m0 0h1m0 0h1m-35 1h1m1 0h1m2 0h1m0 0h1m0 0h1m0 0h1m0 0h1m0 0h1m0 0h1m17 0h1m0 0h1m-31 1h1m0 0h1m0 0h1m0 0h1m1 0h1m1 0h1m3 0h1m1 0h1m14 0h1m0 0h1m1 0h1m-35 1h1m9 0h1m4 0h1m-24 1h1m7 0h1m1 0h1m1 0h1m0 0h1m-7 1h1m1 0h1m1 0h1m1 0h1m0 0h1m0 0h1m2 0h1m0 0h1m-13 1h1m1 0h1m2 0h1m1 0h1m20 0h1m-31 1h1m0 0h1m0 0h1m1 0h1m21 0h1m-23 1h1m0 0h1m2 0h1m2 0h1m9 0h1m0 0h1m0 0h1m0 0h1m-28 1h1m1 0h1m0 0h1m4 0h1m14 0h1m3 0h1m-38 1h1m1 0h1m1 0h1m1 0h1m0 0h1m2 0h1m0 0h1m0 0h1m1 0h1m1 0h1m1 0h1m0 0h1m3 0h1m3 0h1m0 0h1m3 0h1m0 0h1m-34 1h1m0 0h1m0 0h1m1 0h1m0 0h1m2 0h1m5 0h1m3 0h1m4 0h1m5 0h1m0 0h1m2 0h1m0 0h1m-42 1h1m1 0h1m1 0h1m2 0h1m1 0h1m0 0h1m0 0h1m1 0h1m1 0h1m0 0h1m3 0h1m4 0h1m1 0h1m9 0h1m3 0h1m-45 1h1m2 0h1m2 0h1m0 0h1m0 0h1m0 0h1m1 0h1m3 0h1m1 0h1m2 0h1m2 0h1m1 0h1m11 0h1m0 0h1m-39 1h1m0 0h1m2 0h1m1 0h1m0 0h1m0 0h1m1 0h1m3 0h1m3 0h1m1 0h1m3 0h1m6 0h1m5 0h1m1 0h1m0 0h1m-41 1h1m1 0h1m0 0h1m0 0h1m2 0h1m2 0h1m6 0h1m6 0h1m9 0h1m4 0h1m-44 1h1m1 0h1m0 0h1m0 0h1m1 0h1m2 0h1m0 0h1m5 0h1m5 0h1m1 0h1m11 0h1m3 0h1m0 0h1m1 0h1m0 0h1m-49 1h1m4 0h1m1 0h1m0 0h1m3 0h1m2 0h1m24 0h1m3 0h1m-43 1h1m0 0h1m0 0h1m0 0h1m3 0h1m1 0h1m4 0h1m14 0h1m7 0h1m1 0h1m0 0h1m-42 1h1m3 0h1m0 0h1m0 0h1m0 0h1m0 0h1m28 0h1m0 0h1m2 0h1m-47 1h1m1 0h1m1 0h1m0 0h1m1 0h1m5 0h1m27 0h1m1 0h1m0 0h1m3 0h1m5 0h1m-52 1h1m5 0h1m32 0h1m1 0h1m-49 1h1m4 0h1m1 0h1m1 0h1m0 0h1m5 0h1m1 0h1m28 0h1m1 0h1m-51 1h1m2 0h1m0 0h1m2 0h1m3 0h1m34 0h1m1 0h1m0 0h1m-47 1h1m0 0h1m0 0h1m41 0h1m-46 1h1m0 0h1m5 0h1m35 0h1m1 0h1m-47 1h1m0 0h1m0 0h1m1 0h1m34 0h1m0 0h1m4 0h1m0 0h1m1 0h1m-51 1h1m0 0h1m0 0h1m1 0h1m0 0h1m0 0h1m37 0h1m2 0h1m0 0h1m1 0h1m-48 1h1m0 0h1m38 0h1m0 0h1m0 0h1m0 0h1m0 0h1m0 0h1m0 0h1m-49 1h1m0 0h1m0 0h1m0 0h1m41 0h1m1 0h1m1 0h1m-52 1h1m3 0h1m38 0h1m0 0h1m1 0h1m0 0h1m0 0h1m-55 1h1m7 0h1m0 0h1m0 0h1m1 0h1m1 0h1m30 0h1m0 0h1m0 0h1m0 0h1m3 0h1m1 0h1m-48 1h1m37 0h1m6 0h1m0 0h1m-56 1h1m1 0h1m5 0h1m0 0h1m0 0h1m0 0h1m0 0h1m0 0h1m33 0h1m3 0h1m1 0h1m-48 1h1m1 0h1m3 0h1m32 0h1m2 0h1m1 0h1m0 0h1m-51 1h1m0 0h1m4 0h1m3 0h1m34 0h1m0 0h1m0 0h1m-46 1h1m1 0h1m2 0h1m1 0h1m2 0h1m28 0h1m1 0h1m1 0h1m2 0h1m-44 1h1m3 0h1m1 0h1m29 0h1m0 0h1m3 0h1m1 0h1m0 0h1m0 0h1m-44 1h1m0 0h1m7 0h1m20 0h1m3 0h1m4 0h1m-41 1h1m2 0h1m2 0h1m0 0h1m1 0h1m22 0h1m1 0h1m0 0h1m-37 1h1m1 0h1m2 0h1m1 0h1m0 0h1m6 0h1m17 0h1m1 0h1m-35 1h1m5 0h1m0 0h1m1 0h1m0 0h1m1 0h1m0 0h1m12 0h1m2 0h1m-31 1h1m3 0h1m1 0h1m0 0h1m0 0h1m2 0h1m0 0h1m0 0h1m2 0h1m1 0h1m3 0h1m6 0h1m1 0h1m-27 1h1m0 0h1m2 0h1m0 0h1m3 0h1m0 0h1m0 0h1m3 0h1m4 0h1m0 0h1m0 0h1m-23 1h1m1 0h1m2 0h1m0 0h1m0 0h1m0 0h1m0 0h1m3 0h1m1 0h1m1 0h1m1 0h1m1 0h1m0 0h1m1 0h1m-29 1h1m1 0h1m3 0h1m1 0h1m1 0h1m1 0h1m0 0h1m1 0h1m0 0h1m1 0h1m0 0h1m2 0h1m0 0h1m1 0h1m0 0h1m-21 1h1m4 0h1m0 0h1m3 0h1m3 0h1m2 0h1m0 0h1m0 0h1m0 0h1m-19 1h1m0 0h1m0 0h1m4 0h1m0 0h1m0 0h1m0 0h1m-13 1h1m10 0h1m-12 1h1" stroke="rgb(105,105,255)" stroke-width="1" fill="none" stroke-opacity="0.8"/>
<path d="M323 606.5h1m0 0h1m0 0h1m-3 1h1m0 0h1m-8 1h1m2 0h1m0 0h1m0 0h1m1 0h1m2 0h1m-15 1h1m4 0h1m3 0h1m0 0h1m0 0h1m0 0h1m0 0h1m0 0h1m-14 1h1m3 0h1m3 0h1m2 0h1m1 0h1m-15 1h1m0 0h1m0 0h1m1 0h1m1 0h1m1 0h1m0 0h1m2 0h1m1 0h1m-16 1h1m0 0h1m5 0h1m3 0h1m0 0h1m0 0h1m-18 1h1m0 0h1m1 0h1m1 0h1m9 0h1m-17 1h1m0 0h1m0 0h1m3 0h1m1 0h1m3 0h1m1 0h1m0 0h1m-18 1h1m2 0h1m10 0h1m0 0h1m0 0h1m-18 1h1m0 0h1m0 0h1m11 0h1m-15 1h1m-4 1h1m0 0h1m2 0h1m9 0h1m-14 1h1m9 0h1m1 0h1m0 0h1m-14 1h1m1 0h1m6 0h1m-19 1h1m4 0h1m1 0h1m2 0h1m2 0h1m4 0h1m0 0h1m-18 1h1m0 0h1m1 0h1m0 0h1m0 0h1m2 0h1m0 0h1m3 0h1m-16 1h1m2 0h1m0 0h1m0 0h1m1 0h1m1 0h1m1 0h1m2 0h1m0 0h1m0 0h1m-16 1h1m0 0h1m0 0h1m1 0h1m2 0h1m0 0h1m0 0h1m1 0h1m0 0h1m-23 1h1m1 0h1m2 0h1m1 0h1m0 0h1m3 0h1m2 0h1m2 0h1m1 0h1m0 0h1m0 0h1m-20 1h1m0 0h1m1 0h1m7 0h1m1 0h1m0 0h1m-17 1h1m1 0h1m0 0h1m0 0h1m0 0h1m0 0h1m2 0h1m5 0h1m-18 1h1m5 0h1m0 0h1m1 0h1m0 0h1m-15 1h1m1 0h1m2 0h1m0 0h1m2 0h1m0 0h1m0 0h1m1 0h1m2 0h1m0 0h1m-24 1h1m5 0h1m4 0h1m2 0h1m1 0h1m1 0h1m2 0h1m-24 1h1m4 0h1m2 0h1m2 0h1m2 0h1m0 0h1m2 0h1m0 0h1m1 0h1m0 0h1m0 0h1m2 0h1m-31 1h1m2 0h1m0 0h1m2 0h1m2 0h1m2 0h1m6 0h1m3 0h1m0 0h1m-26 1h1m1 0h1m0 0h1m8 0h1m0 0h1m0 0h1m1 0h1m0 0h1m0 0h1m0 0h1m0 0h1m0 0h1m0 0h1m0 0h1m2 0h1m0 0h1m-29 1h1m0 0h1m1 0h1m1 0h1m1 0h1m0 0h1m0 0h1m1 0h1m4 0h1m0 0h1m2 0h1m2 0h1m1 0h1m-28 1h1m1 0h1m1 0h1m2 0h1m1 0h1m2 0h1m0 0h1m0 0h1m2 0h1m0 0h1m0 0h1m1 0h1m0 0h1m1 0h1m0 0h1m1 0h1m-30 1h1m0 0h1m1 0h1m8 0h1m0 0h1m4 0h1m5 0h1m1 0h1m-28 1h1m2 0h1m1 0h1m0 0h1m4 0h1m4 0h1m1 0h1m0 0h1m0 0h1m2 0h1m0 0h1m1 0h1m-32 1h1m1 0h1m1 0h1m0 0h1m0 0h1m0 0h1m3 0h1m6 0h1m0 0h1m3 0h1m0 0h1m0 0h1m0 0h1m0 0h1m0 0h1m0 0h1m-32 1h1m2 0h1m0 0h1m0 0h1m4 0h1m9 0h1m2 0h1m1 0h1m0 0h1m0 0h1m3 0h1m0 0h1m0 0h1m-35 1h1m0 0h1m1 0h1m0 0h1m21 0h1m3 0h1m0 0h1m0 0h1m0 0h1m0 0h1m0 0h1m-42 1h1m7 0h1m1 0h1m1 0h1m22 0h1m0 0h1m0 0h1m0 0h1m-39 1h1m0 0h1m1 0h1m0 0h1m4 0h1m0 0h1m22 0h1m1 0h1m0 0h1m0 0h1m1 0h1m-41 1h1m2 0h1m1 0h1m0 0h1m0 0h1m0 0h1m0 0h1m25 0h1m1 0h1m1 0h1m-41 1h1m2 0h1m0 0h1m0 0h1m0 0h1m2 0h1m23 0h1m1 0h1m2 0h1m2 0h1m-40 1h1m0 0h1m1 0h1m2 0h1m24 0h1m3 0h1m0 0h1m-38 1h1m0 0h1m1 0h1m1 0h1m0 0h1m26 0h1m-34 1h1m0 0h1m0 0h1m0 0h1m4 0h1m21 0h1m2 0h1m1 0h1m0 0h1m0 0h1m0 0h1m0 0h1m-38 1h1m0 0h1m0 0h1m1 0h1m22 0h1m0 0h1m0 0h1m1 0h1m0 0h1m3 0h1m-41 1h1m3 0h1m0 0h1m32 0h1m-39 1h1m0 0h1m0 0h1m0 0h1m1 0h1m0 0h1m-6 1h1m2 0h1m0 0h1m0 0h1m0 0h1m0 0h1m20 0h1m3 0h1m-37 1h1m3 0h1m0 0h1m2 0h1m0 0h1m-8 1h1m0 0h1m0 0h1m0 0h1m0 0h1m1 0h1m0 0h1m22 0h1m1 0h1m0 0h1m-35 1h1m3 0h1m0 0h1m0 0h1m0 0h1m0 0h1m14 0h1m0 0h1m7 0h1m-31 1h1m2 0h1m0 0h1m1 0h1m2 0h1m16 0h1m0 0h1m0 0h1m-28 1h1m0 0h1m2 0h1m0 0h1m0 0h1m1 0h1m0 0h1m7 0h1m2 0h1m1 0h1m2 0h1m1 0h1m-21 1h1m2 0h1m0 0h1m3 0h1m6 0h1m0 0h1m0 0h1m1 0h1m-23 1h1m3 0h1m2 0h1m4 0h1m5 0h1m1 0h1m-18 1h1m0 0h1m1 0h1m2 0h1m0 0h1m0 0h1m0 0h1m0 0h1m0 0h1m-12 1h1m3 0h1m0 0h1m2 0h1m1 0h1m0 0h1m-19 1h1m10 0h1m2 0h1m-4 1h1m1 0h1" stroke="rgb(60,60,250)" stroke-width="1" fill="none" stroke-opacity="0.9"/>
<path d="M323 608.5h1m-5 1h1m0 0h1m-4 1h1m2 0h1m0 0h1m1 0h1m-6 1h1m5 0h1m-11 1h1m2 0h1m2 1h1m0 0h1m0 0h1m-13 1h1m0 0h1m2 0h1m-6 1h1m7 0h1m-9 1h1m0 0h1m0 0h1m2 0h1m4 0h1m-15 1h1m9 0h1m0 0h1m-14 1h1m3 0h1m5 0h1m0 0h1m-10 1h1m0 0h1m4 0h1m1 0h1m-8 1h1m0 0h1m0 0h1m1 0h1m1 0h1m0 0h1m-12 1h1m1 0h1m0 0h1m3 0h1m0 0h1m-10 1h1m3 0h1m3 0h1m0 0h1m-12 1h1m1 0h1m1 0h1m-7 1h1m-8 1h1m2 0h1m0 0h1m0 0h1m2 0h1m2 0h1m-9 1h1m0 0h1m0 0h1m0 0h1m0 0h1m-2 1h1m1 0h1m-5 1h1m2 0h1m-15 1h1m9 0h1m-13 3h1m1 0h1m6 0h1m-20 1h1m15 1h1m-18 1h1m1 0h1m7 0h1m-14 1h1m0 0h1m3 0h1m0 0h1m2 0h1m0 0h1m0 0h1m4 0h1m1 0h1m-24 1h1m0 0h1m7 0h1m4 0h1m5 0h1m0 0h1m-18 1h1m4 0h1m4 0h1m1 0h1m-19 1h1m1 0h1m9 0h1m2 0h1m-14 1h1m0 0h1m13 0h1m2 0h1m-6 1h1m0 0h1m-24 1h1m1 0h1m3 0h1m16 0h1m0 0h1m0 0h1m-1 1h1m1 0h1m-8 1h1m5 0h1m-28 1h1m1 0h1m25 0h1m-4 1h1m2 0h1m0 0h1m-31 1h1m0 0h1m25 0h1m-28 1h1m2 0h1m-4 1h1m3 0h1m20 0h1m-29 1h1m2 0h1m0 0h1m0 0h1m-8 1h1m7 0h1m19 0h1m1 0h1m-33 1h1m7 0h1m20 0h1m-26 1h1m23 0h1m-22 1h1m1 0h1m14 0h1m-20 1h1m14 0h1m-9 1h1m1 0h1m7 0h1m1 0h1m-8 1h1m2 0h1m0 0h1m0 0h1m-13 1h1m2 0h1m0 0h1m-5 1h1m2 0h1" stroke="rgb(30,110,255)" stroke-width="1" fill="none"/>
<path d="M324 610.5h1m-9 1h1m-1 1h1m1 0h1m2 0h1m0 0h1m-8 1h1m1 0h1m2 1h1m-7 1h1m1 0h1m-10 1h1m0 0h1m4 0h1m2 0h1m0 0h1m-12 1h1m0 0h1m2 0h1m0 0h1m1 0h1m0 0h1m-9 1h1m1 0h1m-6 1h1m3 0h1m0 0h1m-6 1h1m3 1h1m0 0h1m-4 2h1m0 0h1m-7 1h1m-2 2h1m-5 1h1m-22 8h1m9 0h1m-16 1h1m0 0h1m-3 1h1m1 0h1m-7 1h1m4 0h1m2 0h1m-5 1h1m4 0h1m2 0h1m-18 1h1m5 0h1m0 0h1m7 0h1m1 0h1m1 0h1m3 0h1m-23 1h1m5 0h1m13 0h1m-23 1h1m1 0h1m0 0h1m4 0h1m-8 1h1m19 0h1m-25 1h1m0 0h1m1 0h1m5 0h1m9 0h1m-17 1h1m16 0h1m1 0h1m-28 1h1m2 0h1m1 0h1m0 0h1m19 0h1m-22 1h1m2 0h1m18 0h1m-25 1h1m19 0h1m4 0h1m-27 1h1m1 1h1m0 0h1m2 0h1m16 0h1m-23 1h1m2 1h1m9 0h1m-13 1h1m9 0h1m-13 1h1m2 0h1m1 0h1m3 0h1m10 0h1m-22 1h1m3 0h1m3 0h1m1 0h1m6 0h1m-12 1h1m6 0h1m-11 1h1m2 0h1m0 0h1m0 0h1m3 0h1" stroke="rgb(0,180,240)" stroke-width="1" fill="none"/>
<path d="M321 609.5h1m-3 1h1m-5 2h1m4 0h1m-9 1h1m3 1h1m0 0h1m-8 1h1m1 0h1m2 0h1m2 0h1m-7 1h1m2 0h1m-7 1h1m2 0h1m-4 1h1m0 0h1m0 0h1m-8 1h1m4 0h1m0 0h1m-6 1h1m3 0h1m-39 16h1m3 1h1m2 0h1m-6 1h1m-3 1h1m-1 1h1m0 0h1m0 0h1m1 0h1m5 0h1m-24 1h1m5 0h1m2 0h1m6 0h1m-13 1h1m2 0h1m3 0h1m3 0h1m0 0h1m6 0h1m-26 1h1m6 0h1m1 0h1m1 0h1m-11 1h1m1 0h1m6 0h1m2 0h1m6 0h1m0 0h1m-21 1h1m3 0h1m-5 1h1m-1 1h1m-3 1h1m16 0h1m-20 1h1m19 0h1m1 0h1m-15 1h1m8 0h1m1 0h1m-18 1h1m1 0h1m14 0h1m2 0h1m-23 1h1m0 0h1m17 0h1m1 0h1m-6 1h1m0 0h1m-11 1h1m3 0h1m5 0h1m-15 1h1m0 0h1m0 0h1m3 0h1m0 0h1m1 0h1m0 0h1m0 0h1m-13 1h1m3 0h1m1 0h1m1 0h1m-2 2h1" stroke="rgb(0,210,160)" stroke-width="1" fill="none"/>
<path d="M320 611.5h1m-7 2h1m1 0h1m1 0h1m0 0h1m-2 1h1m-8 1h1m1 0h1m-6 2h1m3 1h1m-11 4h1m-33 16h1m-5 1h1m0 0h1m1 0h1m-6 1h1m2 0h1m1 0h1m0 0h1m-8 1h1m1 0h1m3 0h1m0 0h1m0 0h1m0 0h1m0 0h1m3 0h1m0 0h1m-16 1h1m0 0h1m2 0h1m2 0h1m1 0h1m2 0h1m-19 1h1m0 0h1m2 0h1m0 0h1m6 0h1m0 0h1m0 0h1m0 0h1m0 0h1m0 0h1m0 0h1m0 0h1m-17 1h1m0 0h1m8 0h1m0 0h1m3 0h1m-20 1h1m3 0h1m6 0h1m2 0h1m0 0h1m4 0h1m-23 1h1m3 0h1m0 0h1m0 0h1m0 0h1m0 0h1m1 0h1m4 0h1m1 0h1m0 0h1m0 0h1m0 0h1m-19 1h1m2 0h1m0 0h1m0 0h1m10 0h1m0 0h1m1 0h1m-18 1h1m0 0h1m0 0h1m5 0h1m3 0h1m0 0h1m2 0h1m-21 1h1m2 0h1m0 0h1m1 0h1m10 0h1m0 0h1m-17 1h1m0 0h1m1 0h1m5 0h1m0 0h1m0 0h1m0 0h1m2 0h1m-16 1h1m4 0h1m7 0h1m0 0h1m-16 1h1m1 0h1m0 0h1m0 0h1m3 0h1m1 0h1m4 0h1m0 0h1m-20 1h1m0 0h1m1 0h1m2 0h1m0 0h1m0 0h1m1 0h1m3 0h1m0 0h1m0 0h1m-13 1h1m1 0h1m0 0h1m2 0h1m0 0h1m3 0h1m1 0h1m-16 1h1m5 0h1m-1 1h1" stroke="rgb(50,210,50)" stroke-width="1" fill="none"/>
<path d="M270 639.5h1m-3 2h1m-3 2h1m1 0h1m8 0h1m-16 1h1m0 0h1m-5 1h1m3 0h1m5 0h1m3 0h1m0 0h1m-10 1h1m4 0h1m-3 1h1m1 0h1m3 0h1m-19 1h1m0 0h1m3 0h1m6 1h1m-9 1h1m13 0h1m-16 1h1m0 0h1m1 0h1m0 0h1m1 0h1m2 0h1m2 0h1m-10 1h1m4 0h1m1 0h1m-13 1h1m3 0h1m1 0h1m1 0h1" stroke="rgb(170,220,0)" stroke-width="1" fill="none"/>
<path d="M268 642.5h1m2 0h1m-8 1h1m2 1h1m0 0h1m-7 1h1m2 0h1m2 0h1m-6 1h1m3 0h1m-4 1h1m1 0h1m-4 1h1m0 0h1m2 0h1m0 0h1m0 0h1m-6 1h1m4 1h1m-3 1h1" stroke="rgb(255,160,0)" stroke-width="1" fill="none"/>
<path d="M265 644.5h1m-2 1h1m1 0h1m5 0h1m-7 1h1m1 0h1m-7 1h1m0 0h1m1 0h1m1 0h1m1 0h1m1 0h1m-10 1h1m2 0h1m-10 1h1m2 0h1m1 0h1m0 0h1m0 0h1m1 0h1m0 0h1m0 0h1m1 0h1m0 0h1m-9 1h1m0 0h1m0 0h1m-1 1h1m1 0h1m-7 1h1m0 0h1m2 0h1m3 0h1" stroke="rgb(235,50,0)" stroke-width="1" fill="none"/>
</g>
<rect x="214.9" y="566.3" width="128.4" height="126.3" fill="none" stroke="#b4b4b4" stroke-width="1"/>
<path d="M285.8 566.3V692.6" stroke="#444" stroke-width="1.2"/>
<path d="M214.9 634.5H343.3" stroke="#222" stroke-width="1.1"/>
<text x="270.6" y="560.1" font-size="12" text-anchor="middle" stroke="#000" stroke-width="0.14" textLength="55.5" lengthAdjust="spacingAndGlyphs">siSTAT5A</text>
<text x="217.3" y="580.3" font-size="11.2" stroke="#000" stroke-width="0.14" textLength="15.4" lengthAdjust="spacingAndGlyphs">Q1</text>
<text x="217.7" y="592.1" font-size="11.2" stroke="#000" stroke-width="0.14" textLength="23.2" lengthAdjust="spacingAndGlyphs">3.15</text>
<text x="339.9" y="580.3" font-size="11.2" text-anchor="end" stroke="#000" stroke-width="0.14" textLength="15.4" lengthAdjust="spacingAndGlyphs">Q2</text>
<text x="339.9" y="592.1" font-size="11.2" text-anchor="end" stroke="#000" stroke-width="0.14" textLength="23.2" lengthAdjust="spacingAndGlyphs">20.1</text>
<text x="217.3" y="682.2" font-size="11.2" stroke="#000" stroke-width="0.14" textLength="15.4" lengthAdjust="spacingAndGlyphs">Q4</text>
<text x="217.7" y="691.8" font-size="11.2" stroke="#000" stroke-width="0.14" textLength="23.2" lengthAdjust="spacingAndGlyphs">71.7</text>
<text x="339.9" y="682.2" font-size="11.2" text-anchor="end" stroke="#000" stroke-width="0.14" textLength="15.4" lengthAdjust="spacingAndGlyphs">Q3</text>
<text x="339.9" y="691.8" font-size="11.2" text-anchor="end" stroke="#000" stroke-width="0.14" textLength="23.2" lengthAdjust="spacingAndGlyphs">5.08</text>
<path d="M214.9 566.3h-2.5M214.9 597.88h-2.5M214.9 629.45h-2.5M214.9 661.02h-2.5M214.9 692.6h-2.5" stroke="#888" stroke-width="0.8"/>
<g filter="url(#fb)">
<path d="M200 718.5h1m-7 2h1m-31 1h1m12 0h1m9 2h1m12 0h1m-2 1h1m-21 1h1m-5 4h1m9 0h1m14 0h1m-63 1h1m23 0h1m6 0h1m-58 1h1m82 0h1m3 0h1m-37 1h1m29 0h1m-106 1h1m65 0h1m24 0h1m14 0h1m1 0h1m-73 1h1m24 0h1m0 0h1m27 0h1m1 0h1m5 0h1m-72 1h1m37 0h1m2 0h1m2 0h1m11 0h1m6 0h1m15 0h1m-90 1h1m46 0h1m24 0h1m3 0h1m0 0h1m-72 1h1m45 0h1m6 0h1m13 0h1m1 0h1m-24 1h1m1 0h1m7 0h1m24 0h1m-53 1h1m16 0h1m6 0h1m6 0h1m3 0h1m3 0h1m0 0h1m6 0h1m2 0h1m-39 1h1m0 0h1m12 0h1m12 0h1m5 0h1m2 0h1m-72 1h1m27 0h1m7 0h1m8 0h1m3 0h1m0 0h1m0 0h1m7 0h1m6 0h1m17 0h1m-50 1h1m6 0h1m0 0h1m25 0h1m0 0h1m0 0h1m8 0h1m-62 1h1m18 0h1m6 0h1m0 0h1m15 0h1m0 0h1m11 0h1m4 0h1m-51 1h1m2 0h1m1 0h1m6 0h1m3 0h1m4 0h1m2 0h1m1 0h1m0 0h1m9 0h1m0 0h1m6 0h1m5 0h1m0 0h1m-33 1h1m2 0h1m5 0h1m0 0h1m10 0h1m1 0h1m-53 1h1m13 0h1m3 0h1m0 0h1m0 0h1m1 0h1m6 0h1m11 0h1m2 0h1m1 0h1m1 0h1m5 0h1m0 0h1m-103 1h1m36 0h1m9 0h1m10 0h1m2 0h1m5 0h1m6 0h1m5 0h1m5 0h1m3 0h1m17 0h1m-45 1h1m4 0h1m3 0h1m1 0h1m0 0h1m7 0h1m3 0h1m11 0h1m9 0h1m0 0h1m-76 1h1m20 0h1m5 0h1m0 0h1m3 0h1m2 0h1m2 0h1m7 0h1m3 0h1m7 0h1m12 0h1m0 0h1m1 0h1m-63 1h1m8 0h1m3 0h1m1 0h1m4 0h1m0 0h1m0 0h1m3 0h1m10 0h1m14 0h1m9 0h1m-107 1h1m38 0h1m28 0h1m1 0h1m1 0h1m33 0h1m-69 1h1m14 0h1m3 0h1m15 0h1m10 0h1m3 0h1m12 0h1m0 0h1m-79 1h1m28 0h1m0 0h1m6 0h1m0 0h1m8 0h1m3 0h1m1 0h1m0 0h1m25 0h1m0 0h1m0 0h1m-68 1h1m17 0h1m0 0h1m7 0h1m0 0h1m6 0h1m30 0h1m-83 1h1m13 0h1m10 0h1m14 0h1m0 0h1m36 0h1m-76 1h1m19 0h1m2 0h1m3 0h1m16 0h1m3 0h1m-75 1h1m43 0h1m3 0h1m2 0h1m2 0h1m4 0h1m0 0h1m5 0h1m0 0h1m1 0h1m33 0h1m1 0h1m-79 1h1m18 0h1m5 0h1m3 0h1m41 0h1m7 0h1m-65 1h1m4 0h1m2 0h1m1 0h1m-38 1h1m36 0h1m13 0h1m-44 1h1m7 0h1m3 0h1m4 0h1m0 0h1m3 0h1m1 0h1m2 0h1m14 0h1m-58 1h1m28 0h1m10 0h1m0 0h1m48 0h1m-62 1h1m6 0h1m-29 1h1m25 0h1m51 0h1m-87 1h1m26 0h1m3 0h1m7 0h1m54 0h1m0 0h1m-90 1h1m8 0h1m0 0h1m0 0h1m4 0h1m8 0h1m2 0h1m3 0h1m1 0h1m2 0h1m-20 1h1m0 0h1m0 0h1m2 0h1m53 0h1m11 0h1m-81 1h1m3 0h1m11 0h1m2 0h1m49 0h1m-86 1h1m9 0h1m18 0h1m52 0h1m0 0h1m6 0h1m-81 1h1m3 0h1m12 0h1m-42 1h1m9 0h1m1 0h1m1 0h1m14 0h1m3 0h1m4 0h1m2 0h1m0 0h1m48 0h1m3 0h1m8 0h1m-72 1h1m6 0h1m59 0h1m-90 1h1m5 0h1m8 0h1m1 0h1m7 0h1m2 0h1m47 0h1m1 0h1m7 0h1m-89 1h1m73 0h1m8 0h1m12 0h1m-101 1h1m6 0h1m77 0h1m2 0h1m8 0h1m-88 1h1m12 0h1m1 0h1m1 0h1m5 0h1m-35 1h1m16 0h1m2 0h1m12 0h1m44 0h1m12 0h1m-82 1h1m1 0h1m3 0h1m3 0h1m62 0h1m-81 1h1m9 0h1m0 0h1m1 0h1m57 0h1m2 0h1m0 0h1m-90 1h1m19 0h1m7 0h1m55 0h1m16 0h1m-96 1h1m19 0h1m70 0h1m-88 1h1m5 0h1m66 0h1m9 0h1m6 0h1m-83 1h1m68 0h1m0 0h1m5 0h1m10 0h1m-98 1h1m2 0h1m6 0h1m1 0h1m0 0h1m1 0h1m64 0h1m-77 1h1m66 0h1m4 0h1m4 0h1m-80 1h1m3 0h1m4 0h1m58 0h1m0 0h1m5 0h1m6 0h1m-88 1h1m7 0h1m3 0h1m2 0h1m65 0h1m15 0h1m-106 1h1m14 0h1m62 0h1m5 0h1m0 0h1m2 0h1m8 0h1m-91 1h1m97 0h1m-103 1h1m0 0h1m6 0h1m0 0h1m2 0h1m1 0h1m2 0h1m59 0h1m3 0h1m23 0h1m-101 1h1m7 0h1m61 0h1m-73 1h1m2 0h1m73 0h1m0 0h1m18 0h1m-30 1h1m1 0h1m0 0h1m1 0h1m2 0h1m-73 1h1m1 0h1m2 0h1m0 0h1m-16 1h1m11 0h1m1 0h1m53 0h1m10 0h1m2 0h1m-83 1h1m4 0h1m1 0h1m2 0h1m0 0h1m59 0h1m2 0h1m10 0h1m-76 1h1m2 0h1m52 0h1m11 0h1m6 0h1m-87 1h1m11 0h1m54 0h1m5 0h1m21 0h1m0 0h1m-95 1h1m1 0h1m0 0h1m0 0h1m0 0h1m0 0h1m4 0h1m56 0h1m22 0h1m-84 1h1m63 0h1m5 0h1m2 0h1m37 0h1m-114 1h1m66 0h1m-71 1h1m62 0h1m-61 1h1m4 0h1m49 0h1m4 0h1m19 0h1m-84 1h1m7 0h1m45 0h1m17 0h1m-64 1h1m43 0h1m7 0h1m-67 1h1m10 0h1m0 0h1m2 0h1m52 0h1m7 0h1m3 0h1m1 0h1m4 0h1m-79 1h1m3 0h1m4 0h1m26 0h1m6 0h1m2 0h1m1 0h1m30 0h1m-85 1h1m4 0h1m5 0h1m33 0h1m0 0h1m17 0h1m17 0h1m-78 1h1m1 0h1m6 0h1m0 0h1m19 0h1m49 0h1m-85 1h1m0 0h1m8 0h1m4 0h1m14 0h1m1 0h1m4 0h1m10 0h1m-53 1h1m0 0h1m1 0h1m14 0h1m3 0h1m8 0h1m4 0h1m5 0h1m3 0h1m26 0h1m-72 1h1m6 0h1m1 0h1m1 0h1m1 0h1m2 0h1m8 0h1m0 0h1m0 0h1m1 0h1m9 0h1m1 0h1m0 0h1m6 0h1m5 0h1m1 0h1m6 0h1m7 0h1m-73 1h1m6 0h1m59 0h1m1 0h1m11 0h1m-70 1h1m5 0h1m2 0h1m2 0h1m2 0h1m5 0h1m3 0h1m4 0h1m1 0h1m0 0h1m16 0h1m11 0h1m-67 1h1m9 0h1m3 0h1m15 0h1m0 0h1m28 0h1m-51 1h1m18 0h1m-25 1h1m1 0h1m11 0h1m0 0h1m13 0h1m47 0h1m-93 1h1m19 0h1m4 0h1m-9 1h1m7 0h1m13 0h1m9 0h1m-49 1h1m0 0h1m29 0h1m14 0h1m19 0h1m-61 1h1m7 0h1m-9 1h1m24 0h1m6 0h1m1 0h1m9 0h1m0 0h1m3 0h1m45 0h1m-98 1h1m12 0h1m1 0h1m6 0h1m24 0h1m33 0h1m-60 1h1m30 0h1m-15 1h1m23 0h1m5 0h1m-29 1h1m24 0h1m-66 1h1m46 0h1m-43 1h1m64 0h1m0 0h1m-67 1h1m-3 4h1m43 0h1m-22 1h1" stroke="rgb(150,150,255)" stroke-width="1" fill="none" stroke-opacity="0.7"/>
<path d="M164 743.5h1m0 0h1m24 1h1m-29 1h1m0 0h1m2 1h1m21 0h1m1 0h1m7 0h1m-12 1h1m0 0h1m-37 1h1m23 0h1m20 0h1m-22 1h1m12 0h1m4 0h1m5 0h1m-27 1h1m2 0h1m9 0h1m0 0h1m1 0h1m1 0h1m1 0h1m-35 1h1m13 0h1m0 0h1m1 0h1m18 0h1m-22 1h1m1 0h1m12 0h1m1 0h1m0 0h1m0 0h1m-21 1h1m6 0h1m2 0h1m6 0h1m0 0h1m0 0h1m2 0h1m-31 1h1m13 0h1m9 0h1m-29 1h1m2 0h1m2 0h1m0 0h1m3 0h1m17 0h1m0 0h1m0 0h1m0 0h1m0 0h1m-32 1h1m9 0h1m0 0h1m15 0h1m2 0h1m-43 1h1m4 0h1m0 0h1m7 0h1m0 0h1m1 0h1m11 0h1m9 0h1m1 0h1m-42 1h1m1 0h1m0 0h1m2 0h1m0 0h1m4 0h1m1 0h1m0 0h1m22 0h1m1 0h1m-44 1h1m3 0h1m1 0h1m3 0h1m3 0h1m4 0h1m21 0h1m-41 1h1m1 0h1m1 0h1m1 0h1m2 0h1m0 0h1m1 0h1m2 0h1m1 0h1m0 0h1m17 0h1m-40 1h1m2 0h1m0 0h1m0 0h1m1 0h1m3 0h1m5 0h1m0 0h1m24 0h1m-44 1h1m2 0h1m1 0h1m1 0h1m1 0h1m0 0h1m8 0h1m19 0h1m0 0h1m-42 1h1m3 0h1m1 0h1m2 0h1m1 0h1m1 0h1m24 0h1m2 0h1m-40 1h1m1 0h1m1 0h1m0 0h1m1 0h1m0 0h1m1 0h1m27 0h1m-40 1h1m0 0h1m8 0h1m24 0h1m-38 1h1m5 0h1m0 0h1m1 0h1m3 0h1m-16 1h1m0 0h1m-7 1h1m4 0h1m2 0h1m4 0h1m0 0h1m0 0h1m1 0h1m23 0h1m-42 1h1m2 0h1m1 0h1m2 0h1m0 0h1m0 0h1m1 0h1m0 0h1m2 0h1m20 0h1m3 0h1m0 0h1m0 0h1m-44 1h1m0 0h1m0 0h1m1 0h1m0 0h1m1 0h1m0 0h1m28 0h1m0 0h1m-39 1h1m3 0h1m1 0h1m0 0h1m26 0h1m0 0h1m3 0h1m0 0h1m-48 1h1m0 0h1m2 0h1m1 0h1m1 0h1m31 0h1m0 0h1m3 0h1m1 0h1m-40 1h1m3 0h1m24 0h1m0 0h1m-45 1h1m6 0h1m1 0h1m1 0h1m1 0h1m0 0h1m0 0h1m-26 1h1m10 0h1m3 0h1m0 0h1m0 0h1m-20 1h1m1 0h1m1 0h1m7 0h1m4 0h1m2 0h1m29 0h1m2 0h1m-53 1h1m0 0h1m0 0h1m2 0h1m0 0h1m2 0h1m2 0h1m4 0h1m2 0h1m2 0h1m24 0h1m2 0h1m-53 1h1m0 0h1m1 0h1m2 0h1m4 0h1m4 0h1m2 0h1m2 0h1m-24 1h1m1 0h1m3 0h1m2 0h1m0 0h1m1 0h1m1 0h1m1 0h1m32 0h1m2 0h1m0 0h1m-52 1h1m1 0h1m2 0h1m39 0h1m2 0h1m1 0h1m2 0h1m-59 1h1m2 0h1m0 0h1m1 0h1m2 0h1m7 0h1m31 0h1m6 0h1m-55 1h1m0 0h1m0 0h1m4 0h1m36 0h1m1 0h1m2 0h1m2 0h1m-54 1h1m3 0h1m41 0h1m1 0h1m1 0h1m3 0h1m-56 1h1m0 0h1m37 0h1m5 0h1m1 0h1m5 0h1m1 0h1m-61 1h1m0 0h1m0 0h1m2 0h1m1 0h1m36 0h1m5 0h1m0 0h1m1 0h1m4 0h1m0 0h1m-60 1h1m2 0h1m43 0h1m3 0h1m0 0h1m-54 1h1m0 0h1m3 0h1m0 0h1m1 0h1m36 0h1m4 0h1m1 0h1m0 0h1m-55 1h1m0 0h1m0 0h1m2 0h1m47 0h1m2 0h1m-58 1h1m0 0h1m4 0h1m0 0h1m41 0h1m1 0h1m0 0h1m3 0h1m-58 1h1m0 0h1m4 0h1m0 0h1m39 0h1m2 0h1m3 0h1m0 0h1m-55 1h1m0 0h1m0 0h1m2 0h1m38 0h1m1 0h1m5 0h1m-57 1h1m2 0h1m0 0h1m0 0h1m2 0h1m36 0h1m6 0h1m0 0h1m3 0h1m0 0h1m-59 1h1m5 0h1m0 0h1m41 0h1m2 0h1m1 0h1m-56 1h1m2 0h1m1 0h1m1 0h1m38 0h1m0 0h1m1 0h1m0 0h1m0 0h1m0 0h1m4 0h1m6 0h1m-64 1h1m3 0h1m2 0h1m37 0h1m5 0h1m2 0h1m-57 1h1m2 0h1m0 0h1m0 0h1m1 0h1m37 0h1m0 0h1m1 0h1m0 0h1m-50 1h1m0 0h1m1 0h1m0 0h1m4 0h1m34 0h1m0 0h1m1 0h1m-51 1h1m0 0h1m1 0h1m4 0h1m1 0h1m3 0h1m34 0h1m-44 1h1m4 0h1m0 0h1m32 0h1m0 0h1m1 0h1m-49 1h1m0 0h1m1 0h1m3 0h1m0 0h1m0 0h1m2 0h1m33 0h1m0 0h1m0 0h1m0 0h1m-52 1h1m2 0h1m1 0h1m1 0h1m1 0h1m0 0h1m0 0h1m1 0h1m27 0h1m0 0h1m3 0h1m2 0h1m0 0h1m0 0h1m0 0h1m-51 1h1m2 0h1m0 0h1m0 0h1m0 0h1m0 0h1m2 0h1m0 0h1m1 0h1m0 0h1m26 0h1m0 0h1m0 0h1m2 0h1m-49 1h1m1 0h1m1 0h1m1 0h1m34 0h1m1 0h1m5 0h1m2 0h1m-55 1h1m6 0h1m0 0h1m3 0h1m1 0h1m1 0h1m0 0h1m20 0h1m3 0h1m0 0h1m4 0h1m2 0h1m-46 1h1m2 0h1m9 0h1m3 0h1m2 0h1m0 0h1m0 0h1m3 0h1m1 0h1m2 0h1m1 0h1m0 0h1m1 0h1m2 0h1m-43 1h1m6 0h1m0 0h1m0 0h1m1 0h1m0 0h1m0 0h1m0 0h1m6 0h1m3 0h1m0 0h1m0 0h1m0 0h1m8 0h1m-34 1h1m1 0h1m0 0h1m1 0h1m2 0h1m0 0h1m1 0h1m0 0h1m0 0h1m1 0h1m2 0h1m0 0h1m4 0h1m1 0h1m0 0h1m-24 1h1m1 0h1m4 0h1m3 0h1m0 0h1m1 0h1m0 0h1m4 0h1m-19 1h1m1 0h1m1 0h1m7 0h1m-15 1h1m6 0h1m14 0h1m-20 1h1m1 0h1m3 0h1m-20 1h1m1 0h1m-3 1h1m14 0h1m-8 1h1m-1 1h1m-1 1h1m0 0h1m2 0h1m-2 1h1" stroke="rgb(105,105,255)" stroke-width="1" fill="none" stroke-opacity="0.8"/>
<path d="M187 752.5h1m-1 1h1m0 0h1m1 0h1m-5 1h1m0 0h1m1 0h1m1 0h1m-15 1h1m4 0h1m1 0h1m1 0h1m0 0h1m1 0h1m-14 1h1m0 0h1m0 0h1m0 0h1m0 0h1m1 0h1m0 0h1m0 0h1m3 0h1m0 0h1m0 0h1m-18 1h1m1 0h1m3 0h1m8 0h1m1 0h1m-19 1h1m0 0h1m5 0h1m8 0h1m-20 1h1m1 0h1m3 0h1m7 0h1m0 0h1m0 0h1m0 0h1m2 0h1m-19 1h1m15 0h1m1 0h1m-20 1h1m11 0h1m3 0h1m0 0h1m-23 1h1m3 0h1m12 0h1m1 0h1m3 0h1m-24 1h1m0 0h1m14 0h1m4 0h1m-27 1h1m1 0h1m0 0h1m0 0h1m16 0h1m1 0h1m1 0h1m-31 1h1m0 0h1m7 0h1m1 0h1m14 0h1m-23 1h1m0 0h1m1 0h1m15 0h1m-22 1h1m1 0h1m0 0h1m16 0h1m0 0h1m0 0h1m-24 1h1m0 0h1m0 0h1m15 0h1m1 0h1m1 0h1m-27 1h1m3 0h1m16 0h1m0 0h1m-28 1h1m1 0h1m3 0h1m2 0h1m7 0h1m3 0h1m0 0h1m1 0h1m0 0h1m-34 1h1m0 0h1m5 0h1m0 0h1m0 0h1m0 0h1m0 0h1m1 0h1m1 0h1m12 0h1m-28 1h1m0 0h1m0 0h1m5 0h1m1 0h1m0 0h1m4 0h1m4 0h1m4 0h1m-30 1h1m0 0h1m2 0h1m3 0h1m0 0h1m1 0h1m11 0h1m2 0h1m0 0h1m0 0h1m1 0h1m-31 1h1m3 0h1m0 0h1m1 0h1m2 0h1m11 0h1m2 0h1m-27 1h1m2 0h1m0 0h1m0 0h1m5 0h1m9 0h1m0 0h1m0 0h1m0 0h1m3 0h1m-30 1h1m0 0h1m0 0h1m3 0h1m1 0h1m14 0h1m0 0h1m-28 1h1m0 0h1m2 0h1m1 0h1m1 0h1m1 0h1m4 0h1m5 0h1m4 0h1m1 0h1m-31 1h1m0 0h1m1 0h1m2 0h1m2 0h1m4 0h1m11 0h1m-34 1h1m5 0h1m0 0h1m6 0h1m9 0h1m0 0h1m8 0h1m4 0h1m-41 1h1m0 0h1m1 0h1m0 0h1m3 0h1m3 0h1m3 0h1m0 0h1m5 0h1m2 0h1m4 0h1m1 0h1m0 0h1m1 0h1m-40 1h1m3 0h1m6 0h1m1 0h1m0 0h1m1 0h1m5 0h1m0 0h1m1 0h1m4 0h1m2 0h1m0 0h1m3 0h1m2 0h1m-41 1h1m2 0h1m1 0h1m1 0h1m10 0h1m4 0h1m5 0h1m0 0h1m1 0h1m-40 1h1m8 0h1m0 0h1m10 0h1m10 0h1m1 0h1m1 0h1m1 0h1m0 0h1m0 0h1m1 0h1m-43 1h1m0 0h1m1 0h1m2 0h1m25 0h1m3 0h1m0 0h1m-38 1h1m0 0h1m0 0h1m0 0h1m0 0h1m3 0h1m28 0h1m2 0h1m-44 1h1m0 0h1m0 0h1m0 0h1m0 0h1m0 0h1m32 0h1m0 0h1m0 0h1m2 0h1m-44 1h1m33 0h1m0 0h1m5 0h1m-41 1h1m0 0h1m0 0h1m31 0h1m0 0h1m0 0h1m-38 1h1m1 0h1m35 0h1m-45 1h1m0 0h1m3 0h1m0 0h1m32 0h1m0 0h1m0 0h1m0 0h1m-43 1h1m4 0h1m33 0h1m0 0h1m-39 1h1m0 0h1m0 0h1m1 0h1m35 0h1m-41 1h1m0 0h1m1 0h1m30 0h1m0 0h1m3 0h1m-44 1h1m3 0h1m-7 1h1m2 0h1m2 0h1m31 0h1m-34 1h1m1 0h1m31 0h1m-35 1h1m0 0h1m29 0h1m-23 1h1m17 0h1m1 0h1m1 0h1m-32 1h1m3 0h1m20 0h1m2 0h1m0 0h1m0 0h1m6 0h1m-41 1h1m6 0h1m9 0h1m12 0h1m1 0h1m-31 1h1m1 0h1m2 0h1m13 0h1m1 0h1m3 0h1m0 0h1m2 0h1m-30 1h1m3 0h1m1 0h1m9 0h1m3 0h1m0 0h1m0 0h1m1 0h1m1 0h1m0 0h1m-31 1h1m2 0h1m0 0h1m1 0h1m0 0h1m2 0h1m0 0h1m1 0h1m0 0h1m1 0h1m1 0h1m0 0h1m1 0h1m3 0h1m0 0h1m1 0h1m0 0h1m-33 1h1m7 0h1m3 0h1m0 0h1m2 0h1m0 0h1m6 0h1m1 0h1m3 0h1m-26 1h1m0 0h1m5 0h1m2 0h1m3 0h1m0 0h1m-4 1h1m-5 1h1" stroke="rgb(60,60,250)" stroke-width="1" fill="none" stroke-opacity="0.9"/>
<path d="M188 754.5h1m-6 1h1m2 1h1m-10 1h1m0 0h1m1 0h1m3 0h1m0 0h1m1 0h1m1 0h1m-14 1h1m0 0h1m0 0h1m7 0h1m0 0h1m-14 1h1m3 0h1m0 0h1m0 0h1m0 0h1m-10 1h1m0 0h1m6 0h1m0 0h1m2 0h1m-14 1h1m-2 1h1m-4 1h1m1 0h1m10 0h1m-15 1h1m0 0h1m6 0h1m5 0h1m-18 1h1m14 0h1m1 0h1m-24 1h1m3 0h1m8 0h1m6 0h1m-15 1h1m-3 1h1m2 0h1m5 0h1m2 0h1m1 0h1m-17 1h1m2 0h1m6 0h1m0 0h1m-16 1h1m2 0h1m0 0h1m7 0h1m2 0h1m-18 1h1m1 0h1m0 0h1m0 0h1m1 0h1m0 0h1m3 0h1m6 0h1m-14 1h1m0 0h1m3 0h1m0 0h1m0 0h1m-22 1h1m2 0h1m6 0h1m2 0h1m1 0h1m-14 1h1m1 0h1m0 0h1m0 0h1m7 0h1m2 0h1m-8 1h1m6 0h1m-24 1h1m3 0h1m6 0h1m-11 1h1m3 0h1m2 0h1m-13 1h1m8 0h1m1 0h1m0 0h1m0 0h1m2 0h1m2 0h1m0 0h1m-23 1h1m5 0h1m2 0h1m0 0h1m0 0h1m0 0h1m1 0h1m2 0h1m0 0h1m4 0h1m0 0h1m-28 1h1m2 0h1m2 0h1m4 0h1m6 0h1m-27 1h1m9 0h1m7 0h1m0 0h1m2 0h1m11 0h1m-37 1h1m1 0h1m2 0h1m3 0h1m3 0h1m0 0h1m3 0h1m1 0h1m2 0h1m1 0h1m0 0h1m2 0h1m2 0h1m1 0h1m-34 1h1m8 0h1m0 0h1m1 0h1m2 0h1m1 0h1m10 0h1m-31 1h1m5 0h1m0 0h1m10 0h1m1 0h1m5 0h1m1 0h1m0 0h1m-30 1h1m0 0h1m14 0h1m3 0h1m3 0h1m2 0h1m0 0h1m-30 1h1m1 0h1m25 0h1m0 0h1m-31 1h1m17 0h1m-21 1h1m1 0h1m24 0h1m1 0h1m-33 1h1m5 0h1m0 0h1m19 0h1m1 0h1m0 0h1m0 0h1m2 0h1m-34 1h1m0 0h1m0 0h1m23 0h1m3 0h1m-1 1h1m-32 1h1m-4 1h1m27 0h1m-32 1h1m1 0h1m-3 1h1m26 0h1m6 0h1m-34 1h1m25 0h1m0 0h1m0 0h1m0 0h1m1 0h1m-33 2h1m4 0h1m18 0h1m5 0h1m-28 1h1m2 0h1m13 0h1m1 0h1m-20 1h1m4 0h1m4 0h1m8 0h1m-18 1h1m2 0h1m0 0h1m0 0h1m3 0h1m-5 1h1m1 0h1m0 0h1m0 0h1m-7 1h1m-7 1h1" stroke="rgb(30,110,255)" stroke-width="1" fill="none"/>
<path d="M187 756.5h1m-8 2h1m-5 1h1m0 0h1m4 0h1m-8 1h1m1 0h1m5 0h1m-10 1h1m1 0h1m1 0h1m2 0h1m1 0h1m0 0h1m-13 1h1m7 0h1m-11 1h1m4 1h1m3 0h1m-15 1h1m1 0h1m1 0h1m0 0h1m-4 1h1m3 0h1m0 0h1m3 0h1m-13 1h1m7 0h1m0 0h1m0 0h1m1 0h1m-18 1h1m0 0h1m1 0h1m0 0h1m-7 1h1m0 0h1m1 0h1m0 0h1m1 0h1m4 0h1m-9 1h1m0 0h1m-4 1h1m6 0h1m3 0h1m-21 1h1m3 0h1m1 0h1m4 0h1m1 0h1m-13 1h1m2 0h1m7 0h1m-10 1h1m0 0h1m2 0h1m-12 1h1m6 0h1m2 0h1m-4 1h1m2 0h1m-15 1h1m3 0h1m3 0h1m0 0h1m1 0h1m-4 1h1m1 0h1m0 0h1m-19 1h1m0 0h1m4 0h1m4 0h1m6 0h1m0 0h1m-13 1h1m4 0h1m4 0h1m-25 1h1m1 0h1m4 0h1m2 0h1m8 0h1m3 0h1m-22 1h1m0 0h1m15 0h1m-26 1h1m14 0h1m7 0h1m-25 1h1m0 0h1m12 0h1m0 0h1m-16 1h1m8 0h1m6 0h1m2 0h1m-22 1h1m25 0h1m-27 1h1m2 0h1m16 0h1m1 0h1m-24 1h1m0 0h1m18 0h1m-25 1h1m0 0h1m1 0h1m3 0h1m11 0h1m6 0h1m-22 1h1m22 0h1m-32 1h1m0 0h1m0 0h1m3 0h1m20 0h1m3 0h1m-33 1h1m27 0h1m0 0h1m-29 2h1m1 0h1m23 0h1m-29 1h1m0 0h1m0 0h1m2 0h1m22 0h1m-25 1h1m16 0h1m-23 1h1m1 0h1m23 0h1m1 0h1m-28 1h1m0 0h1m1 0h1m0 0h1m15 0h1m4 0h1m-24 1h1m4 0h1m12 0h1m-19 1h1m14 0h1m0 0h1m4 0h1m-21 1h1m6 0h1m1 0h1m5 0h1m1 0h1m-15 1h1m1 0h1m4 0h1" stroke="rgb(0,180,240)" stroke-width="1" fill="none"/>
<path d="M183 757.5h1m0 1h1m-9 2h1m2 0h1m-7 1h1m1 0h1m3 0h1m-7 1h1m-3 1h1m0 0h1m3 0h1m2 0h1m2 0h1m-11 1h1m2 1h1m0 0h1m-12 1h1m-5 1h1m3 0h1m3 0h1m-2 1h1m-5 1h1m2 0h1m-5 1h1m1 0h1m0 0h1m-6 1h1m1 0h1m-12 1h1m1 0h1m2 0h1m-6 1h1m2 0h1m-5 1h1m2 0h1m0 0h1m1 0h1m-9 1h1m0 0h1m5 0h1m-13 1h1m0 0h1m2 0h1m1 0h1m0 0h1m2 0h1m1 0h1m-9 1h1m6 0h1m1 0h1m-16 1h1m5 0h1m-16 2h1m8 0h1m1 0h1m4 0h1m-12 1h1m6 0h1m5 0h1m-25 2h1m12 0h1m-19 1h1m0 0h1m2 0h1m0 0h1m2 0h1m0 0h1m0 0h1m0 0h1m5 0h1m0 0h1m1 0h1m0 0h1m-20 1h1m2 0h1m2 0h1m0 0h1m5 0h1m2 0h1m0 0h1m-21 1h1m12 0h1m2 0h1m2 0h1m0 0h1m1 0h1m-25 1h1m0 0h1m12 0h1m2 0h1m2 0h1m2 0h1m-10 1h1m6 0h1m-26 1h1m0 1h1m0 0h1m1 0h1m14 0h1m0 0h1m4 0h1m-2 1h1m-27 1h1m3 0h1m3 0h1m-11 1h1m1 0h1m3 0h1m12 0h1m7 0h1m0 0h1m-27 1h1m17 0h1m2 0h1m2 0h1m-27 1h1m21 0h1m0 0h1m-27 1h1m13 0h1m13 0h1m-29 1h1m13 0h1m2 0h1m4 0h1m0 0h1m0 0h1m-15 1h1m0 0h1m7 0h1m2 0h1m-19 1h1m1 0h1m9 0h1m-14 1h1m0 0h1m1 0h1m5 0h1m1 0h1m-11 1h1m3 0h1m0 0h1m4 0h1m-11 1h1m0 0h1" stroke="rgb(0,210,160)" stroke-width="1" fill="none"/>
<path d="M174 760.5h1m7 0h1m-6 1h1m2 0h1m4 0h1m-12 1h1m0 0h1m1 0h1m1 0h1m-3 1h1m-8 1h1m0 0h1m5 0h1m-10 1h1m2 0h1m2 0h1m-11 1h1m1 0h1m1 0h1m0 0h1m4 0h1m0 0h1m-9 1h1m0 0h1m1 0h1m-6 1h1m0 0h1m0 0h1m1 0h1m1 0h1m-7 1h1m0 0h1m4 0h1m-10 1h1m-12 5h1m1 1h1m0 1h1m-15 1h1m10 1h1m0 1h1m-19 2h1m0 0h1m5 0h1m-14 1h1m10 0h1m1 0h1m4 0h1m-19 1h1m0 0h1m7 0h1m3 0h1m-19 1h1m2 0h1m1 0h1m6 0h1m7 0h1m0 0h1m-25 1h1m1 0h1m0 0h1m1 0h1m0 0h1m1 0h1m0 0h1m0 0h1m1 0h1m0 0h1m1 0h1m2 0h1m0 0h1m-18 1h1m0 0h1m2 0h1m1 0h1m0 0h1m0 0h1m4 0h1m5 0h1m1 0h1m-25 1h1m0 0h1m4 0h1m4 0h1m5 0h1m1 0h1m-20 1h1m2 0h1m0 0h1m6 0h1m0 0h1m2 0h1m0 0h1m0 0h1m0 0h1m-18 1h1m16 0h1m1 0h1m-27 1h1m0 0h1m0 0h1m1 0h1m1 0h1m1 0h1m2 0h1m8 0h1m0 0h1m3 0h1m-27 1h1m1 0h1m1 0h1m1 0h1m0 0h1m3 0h1m0 0h1m3 0h1m4 0h1m0 0h1m0 0h1m0 0h1m2 0h1m-26 1h1m0 0h1m0 0h1m3 0h1m2 0h1m1 0h1m2 0h1m4 0h1m1 0h1m1 0h1m-29 1h1m4 0h1m1 0h1m0 0h1m2 0h1m11 0h1m2 0h1m-22 1h1m2 0h1m0 0h1m2 0h1m5 0h1m1 0h1m-21 1h1m0 0h1m0 0h1m1 0h1m3 0h1m3 0h1m2 0h1m2 0h1m2 0h1m-21 1h1m0 0h1m0 0h1m0 0h1m1 0h1m3 0h1m0 0h1m3 0h1m2 0h1m6 0h1m-22 1h1m1 0h1m0 0h1m0 0h1m3 0h1m0 0h1m0 0h1m0 0h1m0 0h1m0 0h1m-14 1h1m2 0h1m1 0h1m0 0h1m0 0h1m0 0h1m0 0h1m3 0h1m-11 1h1m0 0h1m3 0h1m2 0h1m3 0h1m-5 1h1" stroke="rgb(50,210,50)" stroke-width="1" fill="none"/>
<path d="M176 762.5h1m1 0h1m-6 1h1m0 0h1m0 0h1m-3 1h1m2 0h1m-4 1h1m3 0h1m-53 18h1m5 0h1m10 0h1m-18 2h1m-2 1h1m6 0h1m4 0h1m-12 1h1m-4 1h1m3 0h1m1 0h1m2 0h1m0 0h1m6 0h1m-19 1h1m3 0h1m0 0h1m0 0h1m5 0h1m-12 1h1m2 0h1m4 0h1m1 0h1m0 0h1m-16 1h1m4 0h1m5 0h1m0 0h1m0 0h1m3 0h1m-21 1h1m4 0h1m4 0h1m4 0h1m1 0h1m-21 1h1m5 0h1m0 0h1m6 0h1m2 0h1m-15 1h1m2 0h1m3 0h1m1 0h1m3 0h1m1 0h1m2 0h1m-18 1h1m2 0h1m2 0h1m1 0h1m0 0h1m4 0h1m4 0h1m-22 1h1m5 0h1m2 0h1m7 0h1m-18 1h1m1 0h1m6 0h1m2 0h1m1 0h1m0 0h1m-13 2h1" stroke="rgb(170,220,0)" stroke-width="1" fill="none"/>
<path d="M127 786.5h1m-4 1h1m7 0h1m-10 1h1m0 0h1m10 0h1m-7 1h1m-2 1h1m2 0h1m-12 1h1m1 1h1m-1 1h1m4 0h1m3 0h1m0 0h1m-10 1h1m4 1h1m-13 1h1m4 1h1" stroke="rgb(255,160,0)" stroke-width="1" fill="none"/>
<path d="M127 787.5h1m-7 1h1m5 0h1m1 0h1m-6 1h1m3 0h1m-8 1h1m1 0h1m0 0h1m1 0h1m0 0h1m1 0h1m-8 1h1m2 0h1m0 0h1m1 0h1m3 0h1m3 0h1m-11 1h1m0 0h1m1 0h1m1 0h1m-11 1h1m2 0h1m-6 1h1m5 0h1m0 0h1m0 0h1m1 0h1m-15 1h1m4 0h1m2 0h1m2 0h1m-12 1h1m3 0h1m5 0h1m0 0h1m1 0h1" stroke="rgb(235,50,0)" stroke-width="1" fill="none"/>
</g>
<rect x="76.5" y="710.5" width="127.1" height="127.3" fill="none" stroke="#b4b4b4" stroke-width="1"/>
<path d="M146.5 710.5V837.8" stroke="#444" stroke-width="1.2"/>
<path d="M76.5 779.2H203.6" stroke="#222" stroke-width="1.1"/>
<text x="134.9" y="707.8" font-size="12" text-anchor="middle" stroke="#000" stroke-width="0.14" textLength="45.3" lengthAdjust="spacingAndGlyphs">siSALIS</text>
<text x="78.9" y="724.5" font-size="11.2" stroke="#000" stroke-width="0.14" textLength="15.4" lengthAdjust="spacingAndGlyphs">Q1</text>
<text x="79.3" y="736.3" font-size="11.2" stroke="#000" stroke-width="0.14" textLength="23.2" lengthAdjust="spacingAndGlyphs">3.71</text>
<text x="200.2" y="724.5" font-size="11.2" text-anchor="end" stroke="#000" stroke-width="0.14" textLength="15.4" lengthAdjust="spacingAndGlyphs">Q2</text>
<text x="200.2" y="736.3" font-size="11.2" text-anchor="end" stroke="#000" stroke-width="0.14" textLength="23.2" lengthAdjust="spacingAndGlyphs">23.9</text>
<text x="78.9" y="827.4" font-size="11.2" stroke="#000" stroke-width="0.14" textLength="15.4" lengthAdjust="spacingAndGlyphs">Q4</text>
<text x="79.3" y="837" font-size="11.2" stroke="#000" stroke-width="0.14" textLength="23.2" lengthAdjust="spacingAndGlyphs">66.3</text>
<text x="200.2" y="827.4" font-size="11.2" text-anchor="end" stroke="#000" stroke-width="0.14" textLength="15.4" lengthAdjust="spacingAndGlyphs">Q3</text>
<text x="200.2" y="837" font-size="11.2" text-anchor="end" stroke="#000" stroke-width="0.14" textLength="23.2" lengthAdjust="spacingAndGlyphs">6.03</text>
<path d="M76.5 710.5h-2.5M76.5 742.33h-2.5M76.5 774.15h-2.5M76.5 805.97h-2.5M76.5 837.8h-2.5" stroke="#888" stroke-width="0.8"/>
<g filter="url(#fb)">
<path d="M332 717.5h1m-36 7h1m-9 1h1m21 0h1m-31 1h1m26 1h1m5 0h1m-27 1h1m28 0h1m-27 1h1m41 0h1m-33 1h1m9 0h1m7 0h1m-30 1h1m30 0h1m5 0h1m-34 1h1m3 0h1m-35 2h1m40 0h1m1 0h1m2 0h1m6 0h1m3 0h1m0 0h1m6 0h1m-43 1h1m2 0h1m18 0h1m7 0h1m-15 1h1m2 0h1m7 0h1m8 0h1m-54 1h1m24 0h1m6 0h1m0 0h1m18 0h1m11 0h1m-59 1h1m21 0h1m0 0h1m0 0h1m2 0h1m0 0h1m4 0h1m0 0h1m-3 1h1m2 0h1m6 0h1m11 0h1m3 0h1m2 0h1m-98 1h1m30 0h1m11 0h1m15 0h1m3 0h1m4 0h1m3 0h1m-35 1h1m6 0h1m15 0h1m5 0h1m2 0h1m-41 1h1m25 0h1m1 0h1m9 0h1m7 0h1m12 0h1m-42 1h1m5 0h1m2 0h1m3 0h1m9 0h1m3 0h1m1 0h1m6 0h1m0 0h1m2 0h1m12 0h1m-59 1h1m3 0h1m5 0h1m3 0h1m8 0h1m6 0h1m2 0h1m2 0h1m1 0h1m-45 1h1m23 0h1m8 0h1m5 0h1m0 0h1m6 0h1m0 0h1m2 0h1m1 0h1m-67 1h1m2 0h1m0 0h1m13 0h1m24 0h1m1 0h1m-64 1h1m39 0h1m0 0h1m5 0h1m0 0h1m10 0h1m0 0h1m6 0h1m11 0h1m1 0h1m8 0h1m3 0h1m-88 1h1m31 0h1m5 0h1m22 0h1m6 0h1m6 0h1m7 0h1m2 0h1m0 0h1m-92 1h1m36 0h1m13 0h1m15 0h1m1 0h1m20 0h1m-66 1h1m8 0h1m33 0h1m8 0h1m4 0h1m8 0h1m-72 1h1m10 0h1m3 0h1m2 0h1m0 0h1m6 0h1m12 0h1m4 0h1m1 0h1m0 0h1m2 0h1m18 0h1m-68 1h1m14 0h1m2 0h1m13 0h1m6 0h1m29 0h1m0 0h1m-70 1h1m7 0h1m0 0h1m0 0h1m1 0h1m30 0h1m2 0h1m-33 1h1m12 0h1m7 0h1m-64 1h1m46 0h1m18 0h1m-23 1h1m1 0h1m47 0h1m0 0h1m-50 1h1m6 0h1m0 0h1m-33 1h1m24 0h1m46 0h1m-94 1h1m21 0h1m2 0h1m2 0h1m0 0h1m0 0h1m5 0h1m9 0h1m5 0h1m-31 1h1m1 0h1m6 0h1m4 0h1m9 0h1m0 0h1m2 0h1m0 0h1m-10 1h1m49 0h1m-81 1h1m0 0h1m18 0h1m11 0h1m47 0h1m-101 1h1m36 0h1m5 0h1m-27 1h1m13 0h1m61 0h1m-70 1h1m11 0h1m4 0h1m59 0h1m-79 1h1m8 0h1m1 0h1m0 0h1m2 0h1m0 0h1m53 0h1m4 0h1m-110 1h1m30 0h1m2 0h1m1 0h1m9 0h1m1 0h1m3 0h1m50 0h1m-99 1h1m4 0h1m9 0h1m18 0h1m2 0h1m0 0h1m7 0h1m48 0h1m-85 1h1m2 0h1m0 0h1m12 0h1m14 0h1m48 0h1m-90 1h1m4 0h1m10 0h1m9 0h1m0 0h1m4 0h1m3 0h1m59 0h1m-103 1h1m19 0h1m7 0h1m14 0h1m65 0h1m4 0h1m-87 1h1m65 0h1m-77 1h1m7 0h1m0 0h1m1 0h1m60 0h1m9 0h1m-103 1h1m16 0h1m6 0h1m0 0h1m10 0h1m64 0h1m-77 1h1m8 0h1m52 0h1m2 0h1m3 0h1m13 0h1m-96 1h1m14 0h1m60 0h1m3 0h1m1 0h1m-76 1h1m3 0h1m1 0h1m59 0h1m0 0h1m11 0h1m1 0h1m-102 1h1m8 0h1m9 0h1m62 0h1m12 0h1m2 0h1m-103 1h1m0 0h1m16 0h1m0 0h1m0 0h1m0 0h1m2 0h1m4 0h1m3 0h1m61 0h1m4 0h1m-89 1h1m10 0h1m2 0h1m2 0h1m58 0h1m9 0h1m1 0h1m9 0h1m-103 1h1m5 0h1m0 0h1m0 0h1m73 0h1m0 0h1m-83 1h1m1 0h1m4 0h1m13 0h1m62 0h1m-85 1h1m6 0h1m2 0h1m64 0h1m0 0h1m4 0h1m2 0h1m0 0h1m-77 1h1m65 0h1m7 0h1m-99 1h1m3 0h1m0 0h1m13 0h1m0 0h1m84 0h1m-95 1h1m7 0h1m66 0h1m3 0h1m-86 1h1m8 0h1m1 0h1m85 0h1m0 0h1m-15 1h1m26 0h1m-106 1h1m5 0h1m71 0h1m0 0h1m0 0h1m-91 1h1m10 0h1m1 0h1m72 0h1m3 0h1m3 0h1m8 0h1m-100 1h1m10 0h1m65 0h1m0 0h1m1 0h1m-79 1h1m0 0h1m2 0h1m1 0h1m73 0h1m16 0h1m8 0h1m-109 1h1m4 0h1m68 0h1m12 0h1m10 0h1m-96 1h1m4 0h1m1 0h1m64 0h1m-79 1h1m10 0h1m59 0h1m0 0h1m-71 1h1m7 0h1m63 0h1m5 0h1m32 0h1m-109 1h1m64 0h1m2 0h1m4 0h1m4 0h1m-86 1h1m5 0h1m0 0h1m7 0h1m58 0h1m15 0h1m0 0h1m-90 1h1m67 0h1m7 0h1m3 0h1m2 0h1m2 0h1m-86 1h1m1 0h1m1 0h1m61 0h1m0 0h1m2 0h1m-69 1h1m2 0h1m59 0h1m6 0h1m4 0h1m17 0h1m-95 1h1m63 0h1m22 0h1m-91 1h1m3 1h1m56 0h1m1 0h1m-64 1h1m56 0h1m2 0h1m1 0h1m3 0h1m-66 1h1m2 0h1m2 0h1m5 0h1m41 0h1m2 0h1m20 0h1m-81 1h1m4 0h1m49 0h1m14 0h1m5 0h1m3 0h1m-79 1h1m51 0h1m2 0h1m16 0h1m23 0h1m1 0h1m0 0h1m-88 1h1m35 0h1m2 0h1m0 0h1m8 0h1m25 0h1m-90 1h1m7 0h1m6 0h1m25 0h1m11 0h1m20 0h1m-72 1h1m1 0h1m3 0h1m2 0h1m9 0h1m2 0h1m9 0h1m38 0h1m-62 1h1m4 0h1m6 0h1m5 0h1m0 0h1m7 0h1m4 0h1m10 0h1m15 0h1m-62 1h1m23 0h1m1 0h1m35 0h1m33 0h1m-102 1h1m7 0h1m3 0h1m1 0h1m7 0h1m1 0h1m0 0h1m7 0h1m1 0h1m20 0h1m7 0h1m-66 1h1m2 0h1m0 0h1m2 0h1m7 0h1m12 0h1m0 0h1m10 0h1m1 0h1m15 0h1m10 0h1m35 0h1m-102 1h1m2 0h1m4 0h1m1 0h1m0 0h1m5 0h1m1 0h1m1 0h1m4 0h1m10 0h1m2 0h1m-48 1h1m8 0h1m9 0h1m3 0h1m10 0h1m13 0h1m8 0h1m26 0h1m-76 1h1m15 0h1m1 0h1m21 0h1m-37 1h1m17 0h1m10 0h1m13 0h1m-54 1h1m2 0h1m0 0h1m2 0h1m1 0h1m5 0h1m4 0h1m1 0h1m0 0h1m7 0h1m32 1h1m-66 1h1m22 1h1m71 0h1m-81 2h1m-16 1h1m11 0h1m-6 1h1m6 0h1m76 0h1m-83 2h1m36 0h1m-46 1h1m12 0h1m53 0h1m-62 2h1m89 1h1" stroke="rgb(150,150,255)" stroke-width="1" fill="none" stroke-opacity="0.7"/>
<path d="M310 742.5h1m-8 2h1m-2 1h1m2 0h1m0 1h1m-4 1h1m0 0h1m6 0h1m0 0h1m-11 1h1m1 0h1m1 0h1m1 0h1m3 0h1m-18 1h1m3 0h1m1 0h1m1 0h1m1 0h1m4 0h1m2 0h1m-21 1h1m1 0h1m4 0h1m3 0h1m6 0h1m0 0h1m21 0h1m-39 1h1m0 0h1m0 0h1m0 0h1m1 0h1m28 0h1m1 0h1m0 0h1m-40 1h1m3 0h1m0 0h1m6 0h1m0 0h1m17 0h1m1 0h1m1 0h1m4 0h1m0 0h1m-41 1h1m0 0h1m1 0h1m0 0h1m10 0h1m0 0h1m1 0h1m8 0h1m0 0h1m1 0h1m2 0h1m1 0h1m0 0h1m0 0h1m2 0h1m-43 1h1m1 0h1m0 0h1m6 0h1m0 0h1m4 0h1m1 0h1m5 0h1m17 0h1m-48 1h1m1 0h1m1 0h1m2 0h1m0 0h1m0 0h1m0 0h1m1 0h1m2 0h1m4 0h1m2 0h1m0 0h1m0 0h1m4 0h1m2 0h1m10 0h1m-40 1h1m0 0h1m7 0h1m1 0h1m0 0h1m1 0h1m0 0h1m24 0h1m0 0h1m-47 1h1m12 0h1m1 0h1m0 0h1m4 0h1m0 0h1m0 0h1m1 0h1m1 0h1m17 0h1m0 0h1m0 0h1m-34 1h1m1 0h1m1 0h1m0 0h1m0 0h1m20 0h1m2 0h1m-35 1h1m2 0h1m2 0h1m1 0h1m26 0h1m-50 1h1m12 0h1m2 0h1m0 0h1m4 0h1m4 0h1m18 0h1m2 0h1m-51 1h1m1 0h1m9 0h1m3 0h1m1 0h1m5 0h1m-25 1h1m0 0h1m0 0h1m0 0h1m0 0h1m6 0h1m2 0h1m0 0h1m1 0h1m0 0h1m2 0h1m-23 1h1m3 0h1m0 0h1m7 0h1m0 0h1m1 0h1m0 0h1m2 0h1m23 0h1m-45 1h1m2 0h1m0 0h1m3 0h1m1 0h1m1 0h1m0 0h1m30 0h1m-48 1h1m1 0h1m0 0h1m1 0h1m2 0h1m2 0h1m4 0h1m0 0h1m0 0h1m2 0h1m23 0h1m-46 1h1m1 0h1m4 0h1m2 0h1m0 0h1m3 0h1m1 0h1m26 0h1m-45 1h1m0 0h1m1 0h1m0 0h1m2 0h1m0 0h1m3 0h1m1 0h1m1 0h1m2 0h1m-15 1h1m2 0h1m5 0h1m0 0h1m23 0h1m2 0h1m-41 1h1m1 0h1m1 0h1m32 0h1m-37 1h1m0 0h1m1 0h1m3 0h1m-20 1h1m4 0h1m2 0h1m0 0h1m6 0h1m24 0h1m3 0h1m0 0h1m-55 1h1m4 0h1m1 0h1m3 0h1m0 0h1m2 0h1m1 0h1m2 0h1m4 0h1m28 0h1m-54 1h1m0 0h1m2 0h1m6 0h1m2 0h1m1 0h1m32 0h1m0 0h1m1 0h1m-57 1h1m3 0h1m0 0h1m0 0h1m0 0h1m4 0h1m0 0h1m0 0h1m4 0h1m2 0h1m25 0h1m3 0h1m0 0h1m-57 1h1m2 0h1m1 0h1m4 0h1m3 0h1m2 0h1m3 0h1m29 0h1m4 0h1m-62 1h1m0 0h1m4 0h1m0 0h1m1 0h1m1 0h1m0 0h1m4 0h1m0 0h1m5 0h1m5 0h1m19 0h1m1 0h1m-42 1h1m2 0h1m0 0h1m1 0h1m31 0h1m2 0h1m-48 1h1m0 0h1m0 0h1m0 0h1m0 0h1m6 0h1m1 0h1m28 0h1m4 0h1m3 0h1m-47 1h1m0 0h1m1 0h1m1 0h1m31 0h1m4 0h1m0 0h1m1 0h1m1 0h1m-56 1h1m4 0h1m1 0h1m2 0h1m0 0h1m1 0h1m0 0h1m32 0h1m1 0h1m0 0h1m0 0h1m2 0h1m-63 1h1m11 0h1m0 0h1m0 0h1m1 0h1m0 0h1m3 0h1m31 0h1m1 0h1m1 0h1m0 0h1m-60 1h1m1 0h1m0 0h1m7 0h1m1 0h1m1 0h1m0 0h1m35 0h1m-50 1h1m0 0h1m0 0h1m2 0h1m40 0h1m2 0h1m0 0h1m1 0h1m1 0h1m0 0h1m-54 1h1m2 0h1m1 0h1m0 0h1m37 0h1m3 0h1m2 0h1m0 0h1m-61 1h1m2 0h1m2 0h1m2 0h1m46 0h1m0 0h1m1 0h1m2 0h1m-67 1h1m3 0h1m1 0h1m1 0h1m0 0h1m5 0h1m41 0h1m2 0h1m1 0h1m-63 1h1m1 0h1m4 0h1m0 0h1m1 0h1m0 0h1m45 0h1m1 0h1m0 0h1m2 0h1m-66 1h1m2 0h1m0 0h1m4 0h1m6 0h1m40 0h1m-58 1h1m1 0h1m2 0h1m3 0h1m2 0h1m43 0h1m0 0h1m3 0h1m3 0h1m0 0h1m-66 1h1m1 0h1m2 0h1m0 0h1m0 0h1m1 0h1m42 0h1m1 0h1m1 0h1m-57 1h1m52 0h1m1 0h1m0 0h1m0 0h1m8 0h1m-70 1h1m2 0h1m0 0h1m1 0h1m4 0h1m1 0h1m49 0h1m-65 1h1m5 0h1m0 0h1m0 0h1m0 0h1m43 0h1m1 0h1m0 0h1m-57 1h1m3 0h1m0 0h1m0 0h1m0 0h1m45 0h1m1 0h1m6 0h1m-60 1h1m1 0h1m3 0h1m42 0h1m1 0h1m0 0h1m0 0h1m-53 1h1m2 0h1m41 0h1m1 0h1m3 0h1m3 0h1m-63 1h1m2 0h1m0 0h1m8 0h1m39 0h1m1 0h1m-57 1h1m3 0h1m0 0h1m0 0h1m0 0h1m0 0h1m1 0h1m0 0h1m39 0h1m5 0h1m-54 1h1m0 0h1m0 0h1m1 0h1m0 0h1m2 0h1m0 0h1m1 0h1m33 0h1m0 0h1m0 0h1m2 0h1m2 0h1m-59 1h1m1 0h1m0 0h1m5 0h1m44 0h1m0 0h1m-56 1h1m0 0h1m0 0h1m3 0h1m0 0h1m0 0h1m3 0h1m35 0h1m3 0h1m-52 1h1m1 0h1m0 0h1m0 0h1m2 0h1m0 0h1m3 0h1m1 0h1m25 0h1m6 0h1m0 0h1m0 0h1m-53 1h1m1 0h1m1 0h1m3 0h1m0 0h1m4 0h1m33 0h1m-49 1h1m0 0h1m0 0h1m2 0h1m1 0h1m0 0h1m1 0h1m6 0h1m1 0h1m0 0h1m2 0h1m4 0h1m5 0h1m1 0h1m7 0h1m-45 1h1m0 0h1m3 0h1m2 0h1m0 0h1m0 0h1m0 0h1m0 0h1m2 0h1m9 0h1m4 0h1m0 0h1m3 0h1m2 0h1m4 0h1m1 0h1m0 0h1m-47 1h1m0 0h1m5 0h1m1 0h1m0 0h1m4 0h1m0 0h1m0 0h1m8 0h1m3 0h1m0 0h1m4 0h1m0 0h1m3 0h1m2 0h1m0 0h1m-42 1h1m2 0h1m2 0h1m2 0h1m1 0h1m0 0h1m4 0h1m0 0h1m3 0h1m0 0h1m2 0h1m4 0h1m5 0h1m0 0h1m-40 1h1m3 0h1m10 0h1m0 0h1m1 0h1m0 0h1m3 0h1m1 0h1m3 0h1m2 0h1m0 0h1m0 0h1m1 0h1m2 0h1m0 0h1m-44 1h1m2 0h1m5 0h1m0 0h1m0 0h1m0 0h1m2 0h1m0 0h1m0 0h1m2 0h1m0 0h1m4 0h1m8 0h1m-35 1h1m7 0h1m1 0h1m6 0h1m1 0h1m0 0h1m14 0h1m-28 1h1m7 0h1m5 0h1m9 0h1m1 0h1m0 0h1m-25 1h1m1 0h1" stroke="rgb(105,105,255)" stroke-width="1" fill="none" stroke-opacity="0.8"/>
<path d="M324 753.5h1m1 0h1m-4 1h1m0 0h1m1 0h1m4 0h1m1 0h1m0 0h1m-15 1h1m1 0h1m4 0h1m1 0h1m0 0h1m0 0h1m-13 1h1m7 0h1m3 0h1m0 0h1m-17 1h1m0 0h1m0 0h1m1 0h1m10 0h1m0 0h1m-21 1h1m0 0h1m5 0h1m10 0h1m-2 1h1m-18 1h1m15 0h1m-24 1h1m2 0h1m1 0h1m14 0h1m0 0h1m-4 1h1m0 0h1m1 0h1m-24 1h1m2 0h1m-4 1h1m19 0h1m0 0h1m-23 1h1m18 0h1m0 0h1m-25 1h1m19 0h1m3 0h1m-34 1h1m7 0h1m20 0h1m1 0h1m0 0h1m-31 1h1m5 0h1m17 0h1m1 0h1m1 0h1m-33 1h1m2 0h1m0 0h1m1 0h1m2 0h1m0 0h1m15 0h1m0 0h1m1 0h1m-33 1h1m1 0h1m0 0h1m0 0h1m1 0h1m0 0h1m2 0h1m18 0h1m0 0h1m-34 1h1m5 0h1m3 0h1m20 0h1m-37 1h1m8 0h1m2 0h1m1 0h1m0 0h1m0 0h1m1 0h1m12 0h1m-32 1h1m1 0h1m1 0h1m0 0h1m2 0h1m1 0h1m0 0h1m14 0h1m7 0h1m-35 1h1m2 0h1m0 0h1m2 0h1m0 0h1m1 0h1m1 0h1m0 0h1m0 0h1m9 0h1m5 0h1m-36 1h1m2 0h1m1 0h1m1 0h1m0 0h1m2 0h1m0 0h1m2 0h1m5 0h1m0 0h1m8 0h1m2 0h1m-30 1h1m0 0h1m2 0h1m3 0h1m1 0h1m2 0h1m1 0h1m2 0h1m4 0h1m5 0h1m0 0h1m-37 1h1m1 0h1m2 0h1m1 0h1m2 0h1m0 0h1m0 0h1m3 0h1m6 0h1m10 0h1m-34 1h1m0 0h1m0 0h1m3 0h1m1 0h1m0 0h1m8 0h1m2 0h1m2 0h1m3 0h1m-35 1h1m3 0h1m0 0h1m1 0h1m7 0h1m2 0h1m4 0h1m1 0h1m2 0h1m2 0h1m-32 1h1m5 0h1m0 0h1m0 0h1m5 0h1m2 0h1m7 0h1m4 0h1m1 0h1m-35 1h1m0 0h1m2 0h1m0 0h1m18 0h1m6 0h1m2 0h1m-37 1h1m0 0h1m2 0h1m1 0h1m3 0h1m13 0h1m6 0h1m1 0h1m-37 1h1m1 0h1m1 0h1m0 0h1m-7 1h1m0 0h1m2 0h1m4 0h1m17 0h1m6 0h1m0 0h1m1 0h1m3 0h1m-48 1h1m36 0h1m0 0h1m0 0h1m0 0h1m0 0h1m3 0h1m-48 1h1m4 0h1m0 0h1m1 0h1m29 0h1m0 0h1m0 0h1m6 0h1m-51 1h1m4 0h1m0 0h1m0 0h1m1 0h1m1 0h1m27 0h1m6 0h1m-48 1h1m2 0h1m1 0h1m3 0h1m21 0h1m9 0h1m1 0h1m0 0h1m1 0h1m-46 1h1m2 0h1m0 0h1m0 0h1m34 0h1m1 0h1m1 0h1m-47 1h1m3 0h1m1 0h1m0 0h1m0 0h1m32 0h1m0 0h1m2 0h1m1 0h1m-54 1h1m4 0h1m1 0h1m0 0h1m0 0h1m2 0h1m0 0h1m29 0h1m2 0h1m1 0h1m1 0h1m-47 1h1m6 0h1m0 0h1m4 0h1m30 0h1m0 0h1m-41 1h1m1 0h1m0 0h1m1 0h1m3 0h1m-17 1h1m2 0h1m0 0h1m1 0h1m5 0h1m28 0h1m1 0h1m-41 1h1m0 0h1m1 0h1m0 0h1m3 0h1m30 0h1m0 0h1m-43 1h1m1 0h1m2 0h1m33 0h1m1 0h1m-45 1h1m1 0h1m0 0h1m25 0h1m11 0h1m-38 1h1m1 0h1m0 0h1m29 0h1m2 0h1m-41 1h1m11 0h1m-13 1h1m0 0h1m2 0h1m2 0h1m0 0h1m8 0h1m18 0h1m0 0h1m-39 1h1m0 0h1m2 0h1m1 0h1m2 0h1m12 0h1m10 0h1m0 0h1m0 0h1m0 0h1m0 0h1m-38 1h1m1 0h1m3 0h1m0 0h1m1 0h1m7 0h1m2 0h1m12 0h1m1 0h1m0 0h1m-39 1h1m4 0h1m0 0h1m0 0h1m2 0h1m0 0h1m1 0h1m0 0h1m2 0h1m0 0h1m0 0h1m8 0h1m0 0h1m1 0h1m0 0h1m0 0h1m1 0h1m1 0h1m-34 1h1m0 0h1m0 0h1m1 0h1m2 0h1m0 0h1m2 0h1m4 0h1m4 0h1m1 0h1m0 0h1m0 0h1m0 0h1m0 0h1m0 0h1m-21 1h1m10 0h1m5 0h1m1 0h1m0 0h1m-22 1h1m1 0h1m1 0h1m2 0h1m0 0h1m9 0h1m-23 1h1m5 0h1m9 0h1m-20 1h1" stroke="rgb(60,60,250)" stroke-width="1" fill="none" stroke-opacity="0.9"/>
<path d="M322 756.5h1m0 0h1m0 0h1m4 0h1m-2 1h1m0 0h1m-14 1h1m4 0h1m6 1h1m-7 1h1m2 0h1m-15 2h1m13 0h1m-21 1h1m1 0h1m13 0h1m1 0h1m-20 1h1m17 0h1m2 0h1m-22 1h1m13 0h1m2 1h1m-22 1h1m15 0h1m-18 1h1m0 0h1m-3 1h1m1 0h1m-4 1h1m-9 1h1m2 0h1m15 0h1m-20 1h1m3 0h1m15 0h1m0 0h1m-23 1h1m3 0h1m1 0h1m12 0h1m-15 1h1m7 0h1m1 0h1m-23 1h1m3 0h1m11 0h1m0 0h1m-17 1h1m4 0h1m2 0h1m5 0h1m-24 1h1m0 0h1m9 0h1m3 0h1m1 0h1m0 0h1m5 0h1m0 0h1m-25 1h1m0 0h1m2 0h1m4 0h1m2 0h1m0 0h1m0 0h1m1 0h1m-17 1h1m0 0h1m0 0h1m0 0h1m0 0h1m3 0h1m4 0h1m6 0h1m2 0h1m-28 1h1m3 0h1m1 0h1m1 0h1m2 0h1m2 0h1m3 0h1m4 0h1m-24 1h1m1 0h1m0 0h1m7 0h1m1 0h1m7 0h1m0 0h1m0 0h1m-7 1h1m3 0h1m1 0h1m-26 1h1m0 0h1m7 0h1m8 0h1m1 0h1m1 0h1m0 0h1m-28 1h1m4 0h1m0 0h1m4 0h1m0 0h1m8 0h1m2 0h1m1 0h1m-34 1h1m0 0h1m10 0h1m6 0h1m3 0h1m2 0h1m3 0h1m-27 1h1m16 0h1m5 0h1m0 0h1m4 0h1m-37 1h1m7 0h1m8 0h1m15 0h1m1 0h1m-38 1h1m2 0h1m1 0h1m-6 1h1m0 0h1m25 0h1m3 0h1m0 0h1m0 0h1m1 0h1m-33 1h1m25 0h1m-33 1h1m3 0h1m28 0h1m-36 1h1m0 0h1m30 0h1m1 0h1m-34 1h1m4 0h1m0 0h1m24 0h1m2 0h1m0 0h1m-42 1h1m2 0h1m1 0h1m32 0h1m-36 1h1m2 0h1m6 0h1m-14 1h1m5 0h1m8 0h1m17 0h1m0 0h1m0 0h1m1 0h1m-36 1h1m2 0h1m1 0h1m19 0h1m2 0h1m3 0h1m1 0h1m-36 1h1m3 0h1m0 0h1m15 0h1m8 0h1m0 0h1m-33 1h1m1 0h1m25 0h1m0 0h1m0 0h1m-20 1h1m5 0h1m-13 1h1m4 0h1m10 0h1m2 0h1m1 0h1m0 0h1m-23 1h1m1 0h1m3 0h1m5 0h1m0 0h1m0 0h1m3 0h1m5 0h1m-22 1h1m0 0h1m5 0h1m4 0h1m-12 1h1m2 0h1m-7 1h1m3 0h1m4 0h1m-14 1h1" stroke="rgb(30,110,255)" stroke-width="1" fill="none"/>
<path d="M325 755.5h1m-7 2h1m6 0h1m0 0h1m-5 1h1m0 0h1m3 0h1m-13 1h1m6 0h1m-10 1h1m1 0h1m7 0h1m1 0h1m-16 1h1m0 0h1m0 0h1m8 0h1m1 0h1m-17 1h1m1 0h1m11 0h1m-14 1h1m-5 1h1m10 0h1m0 0h1m-13 1h1m9 0h1m3 0h1m0 0h1m-19 1h1m14 0h1m1 0h1m-19 1h1m10 0h1m1 0h1m4 0h1m-18 1h1m0 0h1m7 0h1m-20 2h1m5 0h1m10 0h1m1 0h1m-24 1h1m9 0h1m1 0h1m9 0h1m-16 1h1m4 0h1m2 0h1m4 0h1m-14 1h1m1 0h1m2 0h1m0 0h1m1 0h1m0 0h1m-14 1h1m0 0h1m2 0h1m9 0h1m-18 1h1m5 0h1m0 0h1m0 0h1m6 0h1m-21 2h1m1 0h1m8 0h1m-14 1h1m3 0h1m5 0h1m1 0h1m0 0h1m-6 1h1m2 0h1m2 0h1m-13 1h1m3 0h1m3 0h1m0 0h1m1 0h1m1 0h1m-23 1h1m0 0h1m0 0h1m7 0h1m1 0h1m1 0h1m-17 1h1m0 0h1m3 0h1m0 0h1m3 0h1m1 0h1m1 0h1m2 0h1m-31 1h1m4 0h1m1 0h1m4 0h1m0 0h1m6 0h1m-13 1h1m12 0h1m0 0h1m7 0h1m-29 1h1m1 0h1m2 0h1m1 0h1m8 0h1m3 0h1m0 0h1m2 0h1m0 0h1m-28 1h1m0 0h1m1 0h1m7 0h1m-15 1h1m6 0h1m11 0h1m2 0h1m0 0h1m6 0h1m-25 1h1m10 0h1m9 0h1m0 0h1m-18 1h1m6 0h1m-21 1h1m23 0h1m4 0h1m-11 1h1m6 0h1m-30 1h1m2 0h1m20 0h1m6 0h1m-35 2h1m4 0h1m2 0h1m11 0h1m6 0h1m0 0h1m1 0h1m0 0h1m-27 1h1m24 0h1m0 0h1m0 0h1m-29 1h1m14 0h1m2 0h1m-25 1h1m10 0h1m13 0h1m1 0h1m-25 1h1m20 0h1m0 0h1m0 0h1m3 0h1m-23 1h1m0 0h1m0 0h1m17 0h1m-23 1h1m4 0h1m0 0h1m3 0h1m4 0h1m0 0h1m-24 1h1m3 0h1m0 0h1m0 0h1m1 0h1m0 0h1m2 0h1m3 0h1m0 0h1m1 0h1m-13 1h1m3 0h1m1 0h1m8 0h1m-3 1h1" stroke="rgb(0,180,240)" stroke-width="1" fill="none"/>
<path d="M326 755.5h1m-4 2h1m1 0h1m-4 1h1m3 0h1m0 0h1m-10 1h1m0 0h1m0 0h1m3 0h1m0 0h1m0 0h1m-10 1h1m2 0h1m0 0h1m-8 2h1m5 0h1m-8 1h1m1 0h1m4 0h1m-9 1h1m1 0h1m4 0h1m1 0h1m-6 1h1m-14 1h1m3 0h1m4 0h1m3 0h1m-14 1h1m9 0h1m1 0h1m-15 1h1m3 0h1m4 1h1m1 0h1m-13 1h1m2 0h1m6 0h1m-15 1h1m0 0h1m3 0h1m1 0h1m0 0h1m0 0h1m-10 1h1m0 0h1m4 0h1m1 0h1m1 0h1m-22 2h1m8 0h1m3 0h1m0 0h1m4 0h1m-15 1h1m4 1h1m-4 1h1m2 0h1m0 0h1m-13 1h1m-4 1h1m2 0h1m0 0h1m3 1h1m-12 1h1m0 0h1m5 0h1m3 0h1m0 0h1m-11 1h1m0 0h1m1 0h1m-11 1h1m1 0h1m4 0h1m-21 1h1m4 0h1m5 0h1m0 0h1m0 0h1m9 0h1m3 0h1m-24 1h1m7 0h1m0 0h1m10 0h1m-16 1h1m2 0h1m2 0h1m1 0h1m5 0h1m2 0h1m-29 1h1m0 0h1m4 0h1m8 0h1m10 0h1m-29 1h1m8 0h1m5 0h1m2 0h1m3 0h1m0 0h1m-26 1h1m0 0h1m0 0h1m15 0h1m0 0h1m4 0h1m1 0h1m-23 1h1m16 0h1m0 0h1m2 0h1m0 0h1m1 0h1m-29 1h1m2 0h1m0 0h1m20 0h1m-9 1h1m2 0h1m5 0h1m2 0h1m-8 1h1m4 0h1m-28 1h1m17 0h1m0 0h1m-20 1h1m1 0h1m11 0h1m4 0h1m1 0h1m0 0h1m-28 1h1m3 0h1m18 0h1m-23 1h1m4 0h1m14 0h1m3 0h1m0 0h1m-25 1h1m2 0h1m0 0h1m4 0h1m7 0h1m-21 1h1m3 0h1m4 0h1m1 0h1m4 0h1m0 0h1m7 0h1m-24 1h1m0 0h1m2 0h1m1 0h1m9 0h1m-11 1h1m1 0h1m4 1h1" stroke="rgb(0,210,160)" stroke-width="1" fill="none"/>
<path d="M325 756.5h1m0 0h1m-7 2h1m4 0h1m-11 1h1m1 0h1m4 0h1m-8 1h1m2 0h1m0 0h1m-6 1h1m0 0h1m0 0h1m1 0h1m1 0h1m0 0h1m1 0h1m-12 1h1m0 0h1m1 0h1m0 0h1m0 0h1m0 0h1m0 0h1m1 0h1m-12 1h1m0 0h1m0 0h1m1 0h1m1 0h1m0 0h1m0 0h1m0 0h1m2 0h1m-17 1h1m0 0h1m0 0h1m0 0h1m0 0h1m2 0h1m1 0h1m2 0h1m-13 1h1m0 0h1m1 0h1m4 0h1m2 0h1m-14 1h1m1 0h1m3 0h1m3 0h1m-13 1h1m1 0h1m0 0h1m1 0h1m0 0h1m0 0h1m0 0h1m-7 1h1m3 0h1m0 0h1m0 0h1m1 0h1m-14 1h1m1 0h1m0 0h1m0 0h1m1 0h1m5 0h1m-13 1h1m1 0h1m0 0h1m2 0h1m0 0h1m0 0h1m-6 1h1m3 0h1m0 0h1m1 0h1m-12 1h1m0 0h1m1 0h1m-6 1h1m1 0h1m0 0h1m2 1h1m-11 2h1m-4 1h1m-15 3h1m9 0h1m0 0h1m-10 1h1m-4 1h1m1 0h1m11 0h1m-15 1h1m1 0h1m1 0h1m2 0h1m0 0h1m1 0h1m-11 1h1m2 0h1m1 0h1m-15 1h1m1 0h1m2 0h1m0 0h1m2 0h1m0 0h1m2 0h1m0 0h1m-24 1h1m6 0h1m0 0h1m0 0h1m5 0h1m1 0h1m0 0h1m1 0h1m5 0h1m-18 1h1m4 0h1m1 0h1m3 0h1m3 0h1m1 0h1m-25 1h1m1 0h1m2 0h1m2 0h1m0 0h1m0 0h1m0 0h1m0 0h1m1 0h1m2 0h1m1 0h1m2 0h1m0 0h1m-25 1h1m0 0h1m0 0h1m1 0h1m2 0h1m1 0h1m1 0h1m1 0h1m0 0h1m4 0h1m0 0h1m3 0h1m-26 1h1m0 0h1m1 0h1m1 0h1m0 0h1m0 0h1m0 0h1m0 0h1m0 0h1m2 0h1m0 0h1m1 0h1m1 0h1m2 0h1m-23 1h1m3 0h1m1 0h1m0 0h1m7 0h1m5 0h1m0 0h1m5 0h1m-27 1h1m1 0h1m2 0h1m10 0h1m2 0h1m1 0h1m-24 1h1m1 0h1m0 0h1m2 0h1m9 0h1m1 0h1m4 0h1m-30 1h1m0 0h1m0 0h1m3 0h1m4 0h1m2 0h1m0 0h1m1 0h1m3 0h1m3 0h1m2 0h1m-29 1h1m2 0h1m4 0h1m3 0h1m7 0h1m0 0h1m0 0h1m0 0h1m1 0h1m2 0h1m-27 1h1m2 0h1m1 0h1m2 0h1m3 0h1m5 0h1m1 0h1m1 0h1m0 0h1m-27 1h1m2 0h1m6 0h1m4 0h1m0 0h1m1 0h1m-21 1h1m3 0h1m1 0h1m3 0h1m0 0h1m0 0h1m0 0h1m6 0h1m0 0h1m1 0h1m-17 1h1m6 0h1m0 0h1m0 0h1m0 0h1m2 0h1m1 0h1m0 0h1m-22 1h1m11 0h1m0 0h1m1 0h1m1 0h1m-6 1h1m-11 1h1m13 0h1" stroke="rgb(50,210,50)" stroke-width="1" fill="none"/>
<path d="M324 757.5h1m-6 4h1m-9 3h1m-4 1h1m2 0h1m0 0h1m-8 1h1m3 0h1m1 0h1m3 0h1m-10 1h1m4 0h1m-8 2h1m1 0h1m0 0h1m-4 1h1m3 0h1m-13 4h1m-17 7h1m-3 3h1m-17 1h1m3 1h1m-6 1h1m4 0h1m0 0h1m0 0h1m0 0h1m4 0h1m6 0h1m-23 1h1m5 1h1m3 0h1m-2 1h1m-13 1h1m6 0h1m0 0h1m2 0h1m1 0h1m5 0h1m2 0h1m-21 1h1m1 0h1m3 0h1m0 0h1m2 0h1m0 0h1m0 0h1m1 0h1m-14 1h1m0 0h1m2 0h1m3 0h1m1 0h1m2 0h1m1 0h1m-17 1h1m0 0h1m9 0h1m1 0h1m-13 1h1m5 0h1m0 0h1m0 0h1m-13 1h1m4 0h1m3 0h1m1 0h1m1 0h1m-16 1h1m0 0h1m1 0h1m2 0h1m0 0h1m4 0h1m-13 1h1m8 0h1m0 0h1m1 0h1m-15 1h1m6 0h1" stroke="rgb(170,220,0)" stroke-width="1" fill="none"/>
<path d="M317 761.5h1m-8 4h1m2 0h1m-6 4h1m-41 17h1m-8 2h1m5 2h1m3 0h1m-12 1h1m0 1h1m5 0h1m-3 1h1m-4 1h1m2 0h1m-8 1h1m4 0h1m0 0h1m-3 1h1m-2 1h1m-1 1h1" stroke="rgb(255,160,0)" stroke-width="1" fill="none"/>
<path d="M323 760.5h1m-16 6h1m-3 2h1m0 0h1m1 1h1m-13 5h1m-18 12h1m-4 1h1m-14 1h1m-2 1h1m-4 1h1m4 1h1m0 0h1m1 0h1m2 0h1m-9 1h1m2 0h1m-5 1h1m1 0h1m1 0h1m1 0h1m1 0h1m-10 1h1m5 0h1m-8 1h1m1 0h1m-2 1h1m3 0h1m-4 1h1" stroke="rgb(235,50,0)" stroke-width="1" fill="none"/>
</g>
<rect x="215" y="710.5" width="128.3" height="127.7" fill="none" stroke="#b4b4b4" stroke-width="1"/>
<path d="M285.9 710.5V838.2" stroke="#444" stroke-width="1.2"/>
<path d="M215 779.6H343.3" stroke="#222" stroke-width="1.1"/>
<text x="278.5" y="707.8" font-size="12" text-anchor="middle" stroke="#000" stroke-width="0.14" textLength="110" lengthAdjust="spacingAndGlyphs">siSALIS+siSTAT5A</text>
<text x="217.4" y="724.5" font-size="11.2" stroke="#000" stroke-width="0.14" textLength="15.4" lengthAdjust="spacingAndGlyphs">Q1</text>
<text x="217.8" y="736.3" font-size="11.2" stroke="#000" stroke-width="0.14" textLength="23.2" lengthAdjust="spacingAndGlyphs">3.31</text>
<text x="339.9" y="724.5" font-size="11.2" text-anchor="end" stroke="#000" stroke-width="0.14" textLength="15.4" lengthAdjust="spacingAndGlyphs">Q2</text>
<text x="339.9" y="736.3" font-size="11.2" text-anchor="end" stroke="#000" stroke-width="0.14" textLength="23.2" lengthAdjust="spacingAndGlyphs">27.9</text>
<text x="217.4" y="827.8" font-size="11.2" stroke="#000" stroke-width="0.14" textLength="15.4" lengthAdjust="spacingAndGlyphs">Q4</text>
<text x="217.8" y="837.4" font-size="11.2" stroke="#000" stroke-width="0.14" textLength="23.2" lengthAdjust="spacingAndGlyphs">61.3</text>
<text x="339.9" y="827.8" font-size="11.2" text-anchor="end" stroke="#000" stroke-width="0.14" textLength="15.4" lengthAdjust="spacingAndGlyphs">Q3</text>
<text x="339.9" y="837.4" font-size="11.2" text-anchor="end" stroke="#000" stroke-width="0.14" textLength="23.2" lengthAdjust="spacingAndGlyphs">7.52</text>
<path d="M215 710.5h-2.5M215 742.42h-2.5M215 774.35h-2.5M215 806.28h-2.5M215 838.2h-2.5" stroke="#888" stroke-width="0.8"/>
<text x="71.5" y="568.6" font-size="6.2" text-anchor="end" fill="#333" stroke="#333" stroke-width="0.22">10</text>
<text x="71.6" y="566" font-size="4.2" fill="#333" stroke="#333" stroke-width="0.22">4</text>
<text x="71.5" y="600.2" font-size="6.2" text-anchor="end" fill="#333" stroke="#333" stroke-width="0.22">10</text>
<text x="71.6" y="597.6" font-size="4.2" fill="#333" stroke="#333" stroke-width="0.22">3</text>
<text x="71.5" y="631.8" font-size="6.2" text-anchor="end" fill="#333" stroke="#333" stroke-width="0.22">10</text>
<text x="71.6" y="629.2" font-size="4.2" fill="#333" stroke="#333" stroke-width="0.22">2</text>
<text x="71.5" y="663.4" font-size="6.2" text-anchor="end" fill="#333" stroke="#333" stroke-width="0.22">10</text>
<text x="71.6" y="660.8" font-size="4.2" fill="#333" stroke="#333" stroke-width="0.22">1</text>
<text x="71.5" y="695" font-size="6.2" text-anchor="end" fill="#333" stroke="#333" stroke-width="0.22">10</text>
<text x="71.6" y="692.4" font-size="4.2" fill="#333" stroke="#333" stroke-width="0.22">0</text>
<text x="71.5" y="712.9" font-size="6.2" text-anchor="end" fill="#333" stroke="#333" stroke-width="0.22">10</text>
<text x="71.6" y="710.3" font-size="4.2" fill="#333" stroke="#333" stroke-width="0.22">4</text>
<text x="71.5" y="744.73" font-size="6.2" text-anchor="end" fill="#333" stroke="#333" stroke-width="0.22">10</text>
<text x="71.6" y="742.12" font-size="4.2" fill="#333" stroke="#333" stroke-width="0.22">3</text>
<text x="71.5" y="776.55" font-size="6.2" text-anchor="end" fill="#333" stroke="#333" stroke-width="0.22">10</text>
<text x="71.6" y="773.95" font-size="4.2" fill="#333" stroke="#333" stroke-width="0.22">2</text>
<text x="71.5" y="808.37" font-size="6.2" text-anchor="end" fill="#333" stroke="#333" stroke-width="0.22">10</text>
<text x="71.6" y="805.77" font-size="4.2" fill="#333" stroke="#333" stroke-width="0.22">1</text>
<text x="71.5" y="840.2" font-size="6.2" text-anchor="end" fill="#333" stroke="#333" stroke-width="0.22">10</text>
<text x="71.6" y="837.6" font-size="4.2" fill="#333" stroke="#333" stroke-width="0.22">0</text>
<text x="75.3" y="849.2" font-size="6.2" text-anchor="middle" fill="#333" stroke="#333" stroke-width="0.22">10</text>
<text x="78.4" y="846.8" font-size="4.2" fill="#333" stroke="#333" stroke-width="0.22">0</text>
<text x="107.08" y="849.2" font-size="6.2" text-anchor="middle" fill="#333" stroke="#333" stroke-width="0.22">10</text>
<text x="110.18" y="846.8" font-size="4.2" fill="#333" stroke="#333" stroke-width="0.22">1</text>
<text x="138.85" y="849.2" font-size="6.2" text-anchor="middle" fill="#333" stroke="#333" stroke-width="0.22">10</text>
<text x="141.95" y="846.8" font-size="4.2" fill="#333" stroke="#333" stroke-width="0.22">2</text>
<text x="170.62" y="849.2" font-size="6.2" text-anchor="middle" fill="#333" stroke="#333" stroke-width="0.22">10</text>
<text x="173.72" y="846.8" font-size="4.2" fill="#333" stroke="#333" stroke-width="0.22">3</text>
<text x="202.4" y="849.2" font-size="6.2" text-anchor="middle" fill="#333" stroke="#333" stroke-width="0.22">10</text>
<text x="205.5" y="846.8" font-size="4.2" fill="#333" stroke="#333" stroke-width="0.22">4</text>
<text x="213.8" y="849.2" font-size="6.2" text-anchor="middle" fill="#333" stroke="#333" stroke-width="0.22">10</text>
<text x="216.9" y="846.8" font-size="4.2" fill="#333" stroke="#333" stroke-width="0.22">0</text>
<text x="245.88" y="849.2" font-size="6.2" text-anchor="middle" fill="#333" stroke="#333" stroke-width="0.22">10</text>
<text x="248.97" y="846.8" font-size="4.2" fill="#333" stroke="#333" stroke-width="0.22">1</text>
<text x="277.95" y="849.2" font-size="6.2" text-anchor="middle" fill="#333" stroke="#333" stroke-width="0.22">10</text>
<text x="281.05" y="846.8" font-size="4.2" fill="#333" stroke="#333" stroke-width="0.22">2</text>
<text x="310.03" y="849.2" font-size="6.2" text-anchor="middle" fill="#333" stroke="#333" stroke-width="0.22">10</text>
<text x="313.12" y="846.8" font-size="4.2" fill="#333" stroke="#333" stroke-width="0.22">3</text>
<text x="342.1" y="849.2" font-size="6.2" text-anchor="middle" fill="#333" stroke="#333" stroke-width="0.22">10</text>
<text x="345.2" y="846.8" font-size="4.2" fill="#333" stroke="#333" stroke-width="0.22">4</text>
</g>
</svg></body></html>
